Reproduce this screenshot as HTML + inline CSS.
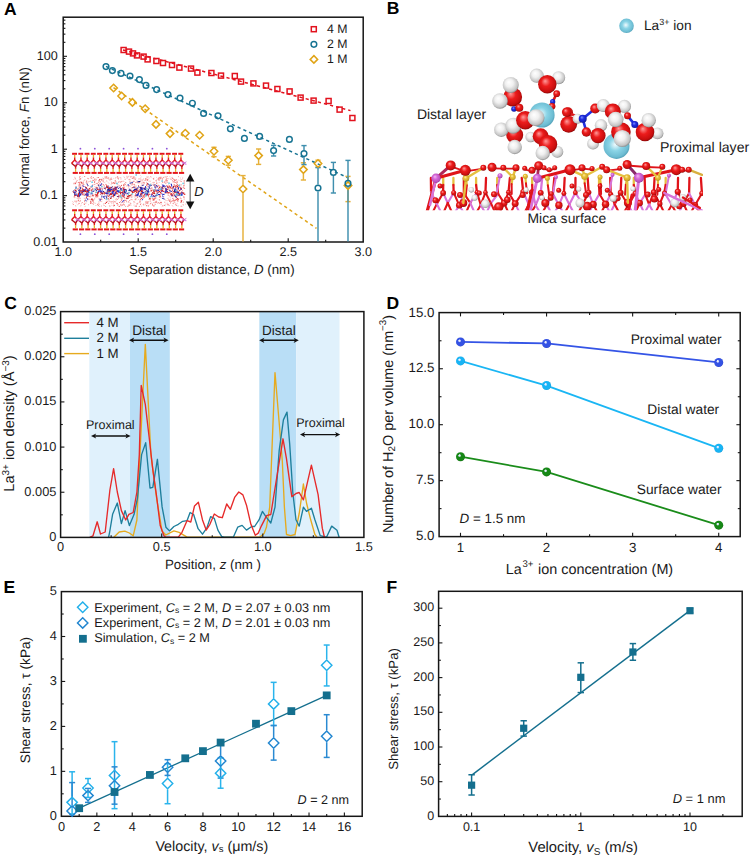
<!DOCTYPE html>
<html><head><meta charset="utf-8"><style>
html,body{margin:0;padding:0;background:#fff;}
svg{display:block;font-family:"Liberation Sans", sans-serif;text-rendering:geometricPrecision;}
</style></head><body>
<svg width="750" height="857" viewBox="0 0 750 857">
<defs><radialGradient id="gO" cx="0.47" cy="0.45" r="0.58" fx="0.38" fy="0.32"><stop offset="0" stop-color="#ff9c9c"/><stop offset="0.42" stop-color="#ec1c1c"/><stop offset="0.82" stop-color="#c80e0e"/><stop offset="1" stop-color="#7a0606"/></radialGradient><radialGradient id="gH" cx="0.47" cy="0.45" r="0.58" fx="0.38" fy="0.32"><stop offset="0" stop-color="#ffffff"/><stop offset="0.42" stop-color="#f0f0f0"/><stop offset="0.82" stop-color="#c4c4c4"/><stop offset="1" stop-color="#7a7a7a"/></radialGradient><radialGradient id="gLa" cx="0.47" cy="0.45" r="0.58" fx="0.45" fy="0.45"><stop offset="0" stop-color="#f0fbfe"/><stop offset="0.42" stop-color="#8ad4e6"/><stop offset="0.82" stop-color="#6cbcd2"/><stop offset="1" stop-color="#4a98b0"/></radialGradient><radialGradient id="gN" cx="0.47" cy="0.45" r="0.58" fx="0.38" fy="0.32"><stop offset="0" stop-color="#8090ff"/><stop offset="0.42" stop-color="#1f2ee0"/><stop offset="0.82" stop-color="#1420b8"/><stop offset="1" stop-color="#0a1080"/></radialGradient><radialGradient id="gK" cx="0.47" cy="0.45" r="0.58" fx="0.38" fy="0.32"><stop offset="0" stop-color="#f4b8f4"/><stop offset="0.42" stop-color="#d468d8"/><stop offset="0.82" stop-color="#b850bc"/><stop offset="1" stop-color="#8a3090"/></radialGradient><radialGradient id="gSi" cx="0.47" cy="0.45" r="0.58" fx="0.38" fy="0.32"><stop offset="0" stop-color="#fff0a0"/><stop offset="0.42" stop-color="#e8c038"/><stop offset="0.82" stop-color="#d0a828"/><stop offset="1" stop-color="#a07810"/></radialGradient><radialGradient id="gDP" cx="0.5" cy="0.5" r="0.55" fx="0.36" fy="0.33"><stop offset="0" stop-color="#f4f6ff"/><stop offset="0.16" stop-color="#e0e6ff" stop-opacity="1"/><stop offset="0.34" stop-color="#3452e4"/><stop offset="0.8" stop-color="#3452e4"/><stop offset="1" stop-color="#2238b8"/></radialGradient><radialGradient id="gDD" cx="0.5" cy="0.5" r="0.55" fx="0.36" fy="0.33"><stop offset="0" stop-color="#f4f6ff"/><stop offset="0.16" stop-color="#e0e6ff" stop-opacity="1"/><stop offset="0.34" stop-color="#18b4f4"/><stop offset="0.8" stop-color="#18b4f4"/><stop offset="1" stop-color="#0c90d0"/></radialGradient><radialGradient id="gDS" cx="0.5" cy="0.5" r="0.55" fx="0.36" fy="0.33"><stop offset="0" stop-color="#f4f6ff"/><stop offset="0.16" stop-color="#e0e6ff" stop-opacity="1"/><stop offset="0.34" stop-color="#168816"/><stop offset="0.8" stop-color="#168816"/><stop offset="1" stop-color="#0c600c"/></radialGradient></defs>
<rect width="750" height="857" fill="#fff"/>
<text x="4.00" y="14.60" font-size="17.5" text-anchor="start" fill="#000" font-weight="bold" >A</text>
<text x="386.70" y="14.40" font-size="17.5" text-anchor="start" fill="#000" font-weight="bold" >B</text>
<text x="4.20" y="309.30" font-size="17.5" text-anchor="start" fill="#000" font-weight="bold" >C</text>
<text x="386.50" y="309.00" font-size="17.5" text-anchor="start" fill="#000" font-weight="bold" >D</text>
<text x="3.60" y="593.20" font-size="17.5" text-anchor="start" fill="#000" font-weight="bold" >E</text>
<text x="386.50" y="593.20" font-size="17.5" text-anchor="start" fill="#000" font-weight="bold" >F</text>
<g id="panelA">
<g id="insetA">
<line x1="72.10" y1="153.80" x2="77.00" y2="153.80" stroke="#e5141b" stroke-width="2.0"/>
<line x1="72.70" y1="172.90" x2="77.90" y2="172.90" stroke="#e5141b" stroke-width="2.0"/>
<line x1="78.35" y1="153.80" x2="83.25" y2="153.80" stroke="#e5141b" stroke-width="2.0"/>
<line x1="78.95" y1="172.90" x2="84.15" y2="172.90" stroke="#e5141b" stroke-width="2.0"/>
<line x1="84.60" y1="153.80" x2="89.50" y2="153.80" stroke="#e5141b" stroke-width="2.0"/>
<line x1="85.20" y1="172.90" x2="90.40" y2="172.90" stroke="#e5141b" stroke-width="2.0"/>
<line x1="90.85" y1="153.80" x2="95.75" y2="153.80" stroke="#e5141b" stroke-width="2.0"/>
<line x1="91.45" y1="172.90" x2="96.65" y2="172.90" stroke="#e5141b" stroke-width="2.0"/>
<line x1="97.10" y1="153.80" x2="102.00" y2="153.80" stroke="#e5141b" stroke-width="2.0"/>
<line x1="97.70" y1="172.90" x2="102.90" y2="172.90" stroke="#e5141b" stroke-width="2.0"/>
<line x1="103.35" y1="153.80" x2="108.25" y2="153.80" stroke="#e5141b" stroke-width="2.0"/>
<line x1="103.95" y1="172.90" x2="109.15" y2="172.90" stroke="#e5141b" stroke-width="2.0"/>
<line x1="109.60" y1="153.80" x2="114.50" y2="153.80" stroke="#e5141b" stroke-width="2.0"/>
<line x1="110.20" y1="172.90" x2="115.40" y2="172.90" stroke="#e5141b" stroke-width="2.0"/>
<line x1="115.85" y1="153.80" x2="120.75" y2="153.80" stroke="#e5141b" stroke-width="2.0"/>
<line x1="116.45" y1="172.90" x2="121.65" y2="172.90" stroke="#e5141b" stroke-width="2.0"/>
<line x1="122.10" y1="153.80" x2="127.00" y2="153.80" stroke="#e5141b" stroke-width="2.0"/>
<line x1="122.70" y1="172.90" x2="127.90" y2="172.90" stroke="#e5141b" stroke-width="2.0"/>
<line x1="128.35" y1="153.80" x2="133.25" y2="153.80" stroke="#e5141b" stroke-width="2.0"/>
<line x1="128.95" y1="172.90" x2="134.15" y2="172.90" stroke="#e5141b" stroke-width="2.0"/>
<line x1="134.60" y1="153.80" x2="139.50" y2="153.80" stroke="#e5141b" stroke-width="2.0"/>
<line x1="135.20" y1="172.90" x2="140.40" y2="172.90" stroke="#e5141b" stroke-width="2.0"/>
<line x1="140.85" y1="153.80" x2="145.75" y2="153.80" stroke="#e5141b" stroke-width="2.0"/>
<line x1="141.45" y1="172.90" x2="146.65" y2="172.90" stroke="#e5141b" stroke-width="2.0"/>
<line x1="147.10" y1="153.80" x2="152.00" y2="153.80" stroke="#e5141b" stroke-width="2.0"/>
<line x1="147.70" y1="172.90" x2="152.90" y2="172.90" stroke="#e5141b" stroke-width="2.0"/>
<line x1="153.35" y1="153.80" x2="158.25" y2="153.80" stroke="#e5141b" stroke-width="2.0"/>
<line x1="153.95" y1="172.90" x2="159.15" y2="172.90" stroke="#e5141b" stroke-width="2.0"/>
<line x1="159.60" y1="153.80" x2="164.50" y2="153.80" stroke="#e5141b" stroke-width="2.0"/>
<line x1="160.20" y1="172.90" x2="165.40" y2="172.90" stroke="#e5141b" stroke-width="2.0"/>
<line x1="165.85" y1="153.80" x2="170.75" y2="153.80" stroke="#e5141b" stroke-width="2.0"/>
<line x1="166.45" y1="172.90" x2="171.65" y2="172.90" stroke="#e5141b" stroke-width="2.0"/>
<line x1="172.10" y1="153.80" x2="177.00" y2="153.80" stroke="#e5141b" stroke-width="2.0"/>
<line x1="172.70" y1="172.90" x2="177.90" y2="172.90" stroke="#e5141b" stroke-width="2.0"/>
<line x1="178.35" y1="153.80" x2="183.25" y2="153.80" stroke="#e5141b" stroke-width="2.0"/>
<line x1="178.95" y1="172.90" x2="184.15" y2="172.90" stroke="#e5141b" stroke-width="2.0"/>
<line x1="74.70" y1="154.70" x2="74.70" y2="157.70" stroke="#e2b22a" stroke-width="1.3"/>
<line x1="74.70" y1="157.50" x2="74.70" y2="160.30" stroke="#e5141b" stroke-width="1.4"/>
<line x1="75.60" y1="166.20" x2="75.60" y2="168.90" stroke="#e5141b" stroke-width="1.4"/>
<line x1="75.60" y1="168.70" x2="75.60" y2="171.90" stroke="#e2b22a" stroke-width="1.3"/>
<line x1="74.70" y1="159.90" x2="71.58" y2="163.20" stroke="#e5141b" stroke-width="1.4"/>
<line x1="71.58" y1="163.20" x2="75.60" y2="166.50" stroke="#b80c14" stroke-width="1.4"/>
<line x1="74.70" y1="159.90" x2="77.83" y2="163.20" stroke="#e5141b" stroke-width="1.4"/>
<line x1="77.83" y1="163.20" x2="75.60" y2="166.50" stroke="#b80c14" stroke-width="1.4"/>
<line x1="80.95" y1="154.70" x2="80.95" y2="157.70" stroke="#e2b22a" stroke-width="1.3"/>
<line x1="80.95" y1="157.50" x2="80.95" y2="160.30" stroke="#e5141b" stroke-width="1.4"/>
<line x1="81.85" y1="166.20" x2="81.85" y2="168.90" stroke="#e5141b" stroke-width="1.4"/>
<line x1="81.85" y1="168.70" x2="81.85" y2="171.90" stroke="#e2b22a" stroke-width="1.3"/>
<line x1="80.95" y1="159.90" x2="77.83" y2="163.20" stroke="#e5141b" stroke-width="1.4"/>
<line x1="77.83" y1="163.20" x2="81.85" y2="166.50" stroke="#b80c14" stroke-width="1.4"/>
<line x1="80.95" y1="159.90" x2="84.08" y2="163.20" stroke="#e5141b" stroke-width="1.4"/>
<line x1="84.08" y1="163.20" x2="81.85" y2="166.50" stroke="#b80c14" stroke-width="1.4"/>
<line x1="87.20" y1="154.70" x2="87.20" y2="157.70" stroke="#e2b22a" stroke-width="1.3"/>
<line x1="87.20" y1="157.50" x2="87.20" y2="160.30" stroke="#e5141b" stroke-width="1.4"/>
<line x1="88.10" y1="166.20" x2="88.10" y2="168.90" stroke="#e5141b" stroke-width="1.4"/>
<line x1="88.10" y1="168.70" x2="88.10" y2="171.90" stroke="#e2b22a" stroke-width="1.3"/>
<line x1="87.20" y1="159.90" x2="84.08" y2="163.20" stroke="#e5141b" stroke-width="1.4"/>
<line x1="84.08" y1="163.20" x2="88.10" y2="166.50" stroke="#b80c14" stroke-width="1.4"/>
<line x1="87.20" y1="159.90" x2="90.33" y2="163.20" stroke="#e5141b" stroke-width="1.4"/>
<line x1="90.33" y1="163.20" x2="88.10" y2="166.50" stroke="#b80c14" stroke-width="1.4"/>
<line x1="93.45" y1="154.70" x2="93.45" y2="157.70" stroke="#e2b22a" stroke-width="1.3"/>
<line x1="93.45" y1="157.50" x2="93.45" y2="160.30" stroke="#e5141b" stroke-width="1.4"/>
<line x1="94.35" y1="166.20" x2="94.35" y2="168.90" stroke="#e5141b" stroke-width="1.4"/>
<line x1="94.35" y1="168.70" x2="94.35" y2="171.90" stroke="#e2b22a" stroke-width="1.3"/>
<line x1="93.45" y1="159.90" x2="90.33" y2="163.20" stroke="#e5141b" stroke-width="1.4"/>
<line x1="90.33" y1="163.20" x2="94.35" y2="166.50" stroke="#b80c14" stroke-width="1.4"/>
<line x1="93.45" y1="159.90" x2="96.58" y2="163.20" stroke="#e5141b" stroke-width="1.4"/>
<line x1="96.58" y1="163.20" x2="94.35" y2="166.50" stroke="#b80c14" stroke-width="1.4"/>
<line x1="99.70" y1="154.70" x2="99.70" y2="157.70" stroke="#e2b22a" stroke-width="1.3"/>
<line x1="99.70" y1="157.50" x2="99.70" y2="160.30" stroke="#e5141b" stroke-width="1.4"/>
<line x1="100.60" y1="166.20" x2="100.60" y2="168.90" stroke="#e5141b" stroke-width="1.4"/>
<line x1="100.60" y1="168.70" x2="100.60" y2="171.90" stroke="#e2b22a" stroke-width="1.3"/>
<line x1="99.70" y1="159.90" x2="96.58" y2="163.20" stroke="#e5141b" stroke-width="1.4"/>
<line x1="96.58" y1="163.20" x2="100.60" y2="166.50" stroke="#b80c14" stroke-width="1.4"/>
<line x1="99.70" y1="159.90" x2="102.83" y2="163.20" stroke="#e5141b" stroke-width="1.4"/>
<line x1="102.83" y1="163.20" x2="100.60" y2="166.50" stroke="#b80c14" stroke-width="1.4"/>
<line x1="105.95" y1="154.70" x2="105.95" y2="157.70" stroke="#e2b22a" stroke-width="1.3"/>
<line x1="105.95" y1="157.50" x2="105.95" y2="160.30" stroke="#e5141b" stroke-width="1.4"/>
<line x1="106.85" y1="166.20" x2="106.85" y2="168.90" stroke="#e5141b" stroke-width="1.4"/>
<line x1="106.85" y1="168.70" x2="106.85" y2="171.90" stroke="#e2b22a" stroke-width="1.3"/>
<line x1="105.95" y1="159.90" x2="102.83" y2="163.20" stroke="#e5141b" stroke-width="1.4"/>
<line x1="102.83" y1="163.20" x2="106.85" y2="166.50" stroke="#b80c14" stroke-width="1.4"/>
<line x1="105.95" y1="159.90" x2="109.08" y2="163.20" stroke="#e5141b" stroke-width="1.4"/>
<line x1="109.08" y1="163.20" x2="106.85" y2="166.50" stroke="#b80c14" stroke-width="1.4"/>
<line x1="112.20" y1="154.70" x2="112.20" y2="157.70" stroke="#e2b22a" stroke-width="1.3"/>
<line x1="112.20" y1="157.50" x2="112.20" y2="160.30" stroke="#e5141b" stroke-width="1.4"/>
<line x1="113.10" y1="166.20" x2="113.10" y2="168.90" stroke="#e5141b" stroke-width="1.4"/>
<line x1="113.10" y1="168.70" x2="113.10" y2="171.90" stroke="#e2b22a" stroke-width="1.3"/>
<line x1="112.20" y1="159.90" x2="109.08" y2="163.20" stroke="#e5141b" stroke-width="1.4"/>
<line x1="109.08" y1="163.20" x2="113.10" y2="166.50" stroke="#b80c14" stroke-width="1.4"/>
<line x1="112.20" y1="159.90" x2="115.33" y2="163.20" stroke="#e5141b" stroke-width="1.4"/>
<line x1="115.33" y1="163.20" x2="113.10" y2="166.50" stroke="#b80c14" stroke-width="1.4"/>
<line x1="118.45" y1="154.70" x2="118.45" y2="157.70" stroke="#e2b22a" stroke-width="1.3"/>
<line x1="118.45" y1="157.50" x2="118.45" y2="160.30" stroke="#e5141b" stroke-width="1.4"/>
<line x1="119.35" y1="166.20" x2="119.35" y2="168.90" stroke="#e5141b" stroke-width="1.4"/>
<line x1="119.35" y1="168.70" x2="119.35" y2="171.90" stroke="#e2b22a" stroke-width="1.3"/>
<line x1="118.45" y1="159.90" x2="115.33" y2="163.20" stroke="#e5141b" stroke-width="1.4"/>
<line x1="115.33" y1="163.20" x2="119.35" y2="166.50" stroke="#b80c14" stroke-width="1.4"/>
<line x1="118.45" y1="159.90" x2="121.58" y2="163.20" stroke="#e5141b" stroke-width="1.4"/>
<line x1="121.58" y1="163.20" x2="119.35" y2="166.50" stroke="#b80c14" stroke-width="1.4"/>
<line x1="124.70" y1="154.70" x2="124.70" y2="157.70" stroke="#e2b22a" stroke-width="1.3"/>
<line x1="124.70" y1="157.50" x2="124.70" y2="160.30" stroke="#e5141b" stroke-width="1.4"/>
<line x1="125.60" y1="166.20" x2="125.60" y2="168.90" stroke="#e5141b" stroke-width="1.4"/>
<line x1="125.60" y1="168.70" x2="125.60" y2="171.90" stroke="#e2b22a" stroke-width="1.3"/>
<line x1="124.70" y1="159.90" x2="121.58" y2="163.20" stroke="#e5141b" stroke-width="1.4"/>
<line x1="121.58" y1="163.20" x2="125.60" y2="166.50" stroke="#b80c14" stroke-width="1.4"/>
<line x1="124.70" y1="159.90" x2="127.83" y2="163.20" stroke="#e5141b" stroke-width="1.4"/>
<line x1="127.83" y1="163.20" x2="125.60" y2="166.50" stroke="#b80c14" stroke-width="1.4"/>
<line x1="130.95" y1="154.70" x2="130.95" y2="157.70" stroke="#e2b22a" stroke-width="1.3"/>
<line x1="130.95" y1="157.50" x2="130.95" y2="160.30" stroke="#e5141b" stroke-width="1.4"/>
<line x1="131.85" y1="166.20" x2="131.85" y2="168.90" stroke="#e5141b" stroke-width="1.4"/>
<line x1="131.85" y1="168.70" x2="131.85" y2="171.90" stroke="#e2b22a" stroke-width="1.3"/>
<line x1="130.95" y1="159.90" x2="127.82" y2="163.20" stroke="#e5141b" stroke-width="1.4"/>
<line x1="127.82" y1="163.20" x2="131.85" y2="166.50" stroke="#b80c14" stroke-width="1.4"/>
<line x1="130.95" y1="159.90" x2="134.07" y2="163.20" stroke="#e5141b" stroke-width="1.4"/>
<line x1="134.07" y1="163.20" x2="131.85" y2="166.50" stroke="#b80c14" stroke-width="1.4"/>
<line x1="137.20" y1="154.70" x2="137.20" y2="157.70" stroke="#e2b22a" stroke-width="1.3"/>
<line x1="137.20" y1="157.50" x2="137.20" y2="160.30" stroke="#e5141b" stroke-width="1.4"/>
<line x1="138.10" y1="166.20" x2="138.10" y2="168.90" stroke="#e5141b" stroke-width="1.4"/>
<line x1="138.10" y1="168.70" x2="138.10" y2="171.90" stroke="#e2b22a" stroke-width="1.3"/>
<line x1="137.20" y1="159.90" x2="134.07" y2="163.20" stroke="#e5141b" stroke-width="1.4"/>
<line x1="134.07" y1="163.20" x2="138.10" y2="166.50" stroke="#b80c14" stroke-width="1.4"/>
<line x1="137.20" y1="159.90" x2="140.32" y2="163.20" stroke="#e5141b" stroke-width="1.4"/>
<line x1="140.32" y1="163.20" x2="138.10" y2="166.50" stroke="#b80c14" stroke-width="1.4"/>
<line x1="143.45" y1="154.70" x2="143.45" y2="157.70" stroke="#e2b22a" stroke-width="1.3"/>
<line x1="143.45" y1="157.50" x2="143.45" y2="160.30" stroke="#e5141b" stroke-width="1.4"/>
<line x1="144.35" y1="166.20" x2="144.35" y2="168.90" stroke="#e5141b" stroke-width="1.4"/>
<line x1="144.35" y1="168.70" x2="144.35" y2="171.90" stroke="#e2b22a" stroke-width="1.3"/>
<line x1="143.45" y1="159.90" x2="140.32" y2="163.20" stroke="#e5141b" stroke-width="1.4"/>
<line x1="140.32" y1="163.20" x2="144.35" y2="166.50" stroke="#b80c14" stroke-width="1.4"/>
<line x1="143.45" y1="159.90" x2="146.57" y2="163.20" stroke="#e5141b" stroke-width="1.4"/>
<line x1="146.57" y1="163.20" x2="144.35" y2="166.50" stroke="#b80c14" stroke-width="1.4"/>
<line x1="149.70" y1="154.70" x2="149.70" y2="157.70" stroke="#e2b22a" stroke-width="1.3"/>
<line x1="149.70" y1="157.50" x2="149.70" y2="160.30" stroke="#e5141b" stroke-width="1.4"/>
<line x1="150.60" y1="166.20" x2="150.60" y2="168.90" stroke="#e5141b" stroke-width="1.4"/>
<line x1="150.60" y1="168.70" x2="150.60" y2="171.90" stroke="#e2b22a" stroke-width="1.3"/>
<line x1="149.70" y1="159.90" x2="146.57" y2="163.20" stroke="#e5141b" stroke-width="1.4"/>
<line x1="146.57" y1="163.20" x2="150.60" y2="166.50" stroke="#b80c14" stroke-width="1.4"/>
<line x1="149.70" y1="159.90" x2="152.82" y2="163.20" stroke="#e5141b" stroke-width="1.4"/>
<line x1="152.82" y1="163.20" x2="150.60" y2="166.50" stroke="#b80c14" stroke-width="1.4"/>
<line x1="155.95" y1="154.70" x2="155.95" y2="157.70" stroke="#e2b22a" stroke-width="1.3"/>
<line x1="155.95" y1="157.50" x2="155.95" y2="160.30" stroke="#e5141b" stroke-width="1.4"/>
<line x1="156.85" y1="166.20" x2="156.85" y2="168.90" stroke="#e5141b" stroke-width="1.4"/>
<line x1="156.85" y1="168.70" x2="156.85" y2="171.90" stroke="#e2b22a" stroke-width="1.3"/>
<line x1="155.95" y1="159.90" x2="152.82" y2="163.20" stroke="#e5141b" stroke-width="1.4"/>
<line x1="152.82" y1="163.20" x2="156.85" y2="166.50" stroke="#b80c14" stroke-width="1.4"/>
<line x1="155.95" y1="159.90" x2="159.07" y2="163.20" stroke="#e5141b" stroke-width="1.4"/>
<line x1="159.07" y1="163.20" x2="156.85" y2="166.50" stroke="#b80c14" stroke-width="1.4"/>
<line x1="162.20" y1="154.70" x2="162.20" y2="157.70" stroke="#e2b22a" stroke-width="1.3"/>
<line x1="162.20" y1="157.50" x2="162.20" y2="160.30" stroke="#e5141b" stroke-width="1.4"/>
<line x1="163.10" y1="166.20" x2="163.10" y2="168.90" stroke="#e5141b" stroke-width="1.4"/>
<line x1="163.10" y1="168.70" x2="163.10" y2="171.90" stroke="#e2b22a" stroke-width="1.3"/>
<line x1="162.20" y1="159.90" x2="159.07" y2="163.20" stroke="#e5141b" stroke-width="1.4"/>
<line x1="159.07" y1="163.20" x2="163.10" y2="166.50" stroke="#b80c14" stroke-width="1.4"/>
<line x1="162.20" y1="159.90" x2="165.32" y2="163.20" stroke="#e5141b" stroke-width="1.4"/>
<line x1="165.32" y1="163.20" x2="163.10" y2="166.50" stroke="#b80c14" stroke-width="1.4"/>
<line x1="168.45" y1="154.70" x2="168.45" y2="157.70" stroke="#e2b22a" stroke-width="1.3"/>
<line x1="168.45" y1="157.50" x2="168.45" y2="160.30" stroke="#e5141b" stroke-width="1.4"/>
<line x1="169.35" y1="166.20" x2="169.35" y2="168.90" stroke="#e5141b" stroke-width="1.4"/>
<line x1="169.35" y1="168.70" x2="169.35" y2="171.90" stroke="#e2b22a" stroke-width="1.3"/>
<line x1="168.45" y1="159.90" x2="165.32" y2="163.20" stroke="#e5141b" stroke-width="1.4"/>
<line x1="165.32" y1="163.20" x2="169.35" y2="166.50" stroke="#b80c14" stroke-width="1.4"/>
<line x1="168.45" y1="159.90" x2="171.57" y2="163.20" stroke="#e5141b" stroke-width="1.4"/>
<line x1="171.57" y1="163.20" x2="169.35" y2="166.50" stroke="#b80c14" stroke-width="1.4"/>
<line x1="174.70" y1="154.70" x2="174.70" y2="157.70" stroke="#e2b22a" stroke-width="1.3"/>
<line x1="174.70" y1="157.50" x2="174.70" y2="160.30" stroke="#e5141b" stroke-width="1.4"/>
<line x1="175.60" y1="166.20" x2="175.60" y2="168.90" stroke="#e5141b" stroke-width="1.4"/>
<line x1="175.60" y1="168.70" x2="175.60" y2="171.90" stroke="#e2b22a" stroke-width="1.3"/>
<line x1="174.70" y1="159.90" x2="171.57" y2="163.20" stroke="#e5141b" stroke-width="1.4"/>
<line x1="171.57" y1="163.20" x2="175.60" y2="166.50" stroke="#b80c14" stroke-width="1.4"/>
<line x1="174.70" y1="159.90" x2="177.82" y2="163.20" stroke="#e5141b" stroke-width="1.4"/>
<line x1="177.82" y1="163.20" x2="175.60" y2="166.50" stroke="#b80c14" stroke-width="1.4"/>
<line x1="180.95" y1="154.70" x2="180.95" y2="157.70" stroke="#e2b22a" stroke-width="1.3"/>
<line x1="180.95" y1="157.50" x2="180.95" y2="160.30" stroke="#e5141b" stroke-width="1.4"/>
<line x1="181.85" y1="166.20" x2="181.85" y2="168.90" stroke="#e5141b" stroke-width="1.4"/>
<line x1="181.85" y1="168.70" x2="181.85" y2="171.90" stroke="#e2b22a" stroke-width="1.3"/>
<line x1="180.95" y1="159.90" x2="177.82" y2="163.20" stroke="#e5141b" stroke-width="1.4"/>
<line x1="177.82" y1="163.20" x2="181.85" y2="166.50" stroke="#b80c14" stroke-width="1.4"/>
<line x1="180.95" y1="159.90" x2="184.07" y2="163.20" stroke="#e5141b" stroke-width="1.4"/>
<line x1="184.07" y1="163.20" x2="181.85" y2="166.50" stroke="#b80c14" stroke-width="1.4"/>
<line x1="75.53" y1="161.80" x2="80.12" y2="164.60" stroke="#dc7ce4" stroke-width="1.15"/>
<line x1="75.53" y1="164.60" x2="80.12" y2="161.80" stroke="#c060c8" stroke-width="0.9"/>
<line x1="81.78" y1="161.80" x2="86.38" y2="164.60" stroke="#dc7ce4" stroke-width="1.15"/>
<line x1="81.78" y1="164.60" x2="86.38" y2="161.80" stroke="#c060c8" stroke-width="0.9"/>
<line x1="88.03" y1="161.80" x2="92.62" y2="164.60" stroke="#dc7ce4" stroke-width="1.15"/>
<line x1="88.03" y1="164.60" x2="92.62" y2="161.80" stroke="#c060c8" stroke-width="0.9"/>
<line x1="94.28" y1="161.80" x2="98.88" y2="164.60" stroke="#dc7ce4" stroke-width="1.15"/>
<line x1="94.28" y1="164.60" x2="98.88" y2="161.80" stroke="#c060c8" stroke-width="0.9"/>
<line x1="100.53" y1="161.80" x2="105.12" y2="164.60" stroke="#dc7ce4" stroke-width="1.15"/>
<line x1="100.53" y1="164.60" x2="105.12" y2="161.80" stroke="#c060c8" stroke-width="0.9"/>
<line x1="106.78" y1="161.80" x2="111.38" y2="164.60" stroke="#dc7ce4" stroke-width="1.15"/>
<line x1="106.78" y1="164.60" x2="111.38" y2="161.80" stroke="#c060c8" stroke-width="0.9"/>
<line x1="113.03" y1="161.80" x2="117.62" y2="164.60" stroke="#dc7ce4" stroke-width="1.15"/>
<line x1="113.03" y1="164.60" x2="117.62" y2="161.80" stroke="#c060c8" stroke-width="0.9"/>
<line x1="119.28" y1="161.80" x2="123.88" y2="164.60" stroke="#dc7ce4" stroke-width="1.15"/>
<line x1="119.28" y1="164.60" x2="123.88" y2="161.80" stroke="#c060c8" stroke-width="0.9"/>
<line x1="125.53" y1="161.80" x2="130.12" y2="164.60" stroke="#dc7ce4" stroke-width="1.15"/>
<line x1="125.53" y1="164.60" x2="130.12" y2="161.80" stroke="#c060c8" stroke-width="0.9"/>
<line x1="131.77" y1="161.80" x2="136.38" y2="164.60" stroke="#dc7ce4" stroke-width="1.15"/>
<line x1="131.77" y1="164.60" x2="136.38" y2="161.80" stroke="#c060c8" stroke-width="0.9"/>
<line x1="138.02" y1="161.80" x2="142.62" y2="164.60" stroke="#dc7ce4" stroke-width="1.15"/>
<line x1="138.02" y1="164.60" x2="142.62" y2="161.80" stroke="#c060c8" stroke-width="0.9"/>
<line x1="144.27" y1="161.80" x2="148.88" y2="164.60" stroke="#dc7ce4" stroke-width="1.15"/>
<line x1="144.27" y1="164.60" x2="148.88" y2="161.80" stroke="#c060c8" stroke-width="0.9"/>
<line x1="150.52" y1="161.80" x2="155.12" y2="164.60" stroke="#dc7ce4" stroke-width="1.15"/>
<line x1="150.52" y1="164.60" x2="155.12" y2="161.80" stroke="#c060c8" stroke-width="0.9"/>
<line x1="156.77" y1="161.80" x2="161.38" y2="164.60" stroke="#dc7ce4" stroke-width="1.15"/>
<line x1="156.77" y1="164.60" x2="161.38" y2="161.80" stroke="#c060c8" stroke-width="0.9"/>
<line x1="163.02" y1="161.80" x2="167.62" y2="164.60" stroke="#dc7ce4" stroke-width="1.15"/>
<line x1="163.02" y1="164.60" x2="167.62" y2="161.80" stroke="#c060c8" stroke-width="0.9"/>
<line x1="169.27" y1="161.80" x2="173.88" y2="164.60" stroke="#dc7ce4" stroke-width="1.15"/>
<line x1="169.27" y1="164.60" x2="173.88" y2="161.80" stroke="#c060c8" stroke-width="0.9"/>
<line x1="175.52" y1="161.80" x2="180.12" y2="164.60" stroke="#dc7ce4" stroke-width="1.15"/>
<line x1="175.52" y1="164.60" x2="180.12" y2="161.80" stroke="#c060c8" stroke-width="0.9"/>
<line x1="181.77" y1="161.80" x2="186.38" y2="164.60" stroke="#dc7ce4" stroke-width="1.15"/>
<line x1="181.77" y1="164.60" x2="186.38" y2="161.80" stroke="#c060c8" stroke-width="0.9"/>
<line x1="72.10" y1="210.30" x2="77.00" y2="210.30" stroke="#e5141b" stroke-width="2.0"/>
<line x1="72.70" y1="229.40" x2="77.90" y2="229.40" stroke="#e5141b" stroke-width="2.0"/>
<line x1="78.35" y1="210.30" x2="83.25" y2="210.30" stroke="#e5141b" stroke-width="2.0"/>
<line x1="78.95" y1="229.40" x2="84.15" y2="229.40" stroke="#e5141b" stroke-width="2.0"/>
<line x1="84.60" y1="210.30" x2="89.50" y2="210.30" stroke="#e5141b" stroke-width="2.0"/>
<line x1="85.20" y1="229.40" x2="90.40" y2="229.40" stroke="#e5141b" stroke-width="2.0"/>
<line x1="90.85" y1="210.30" x2="95.75" y2="210.30" stroke="#e5141b" stroke-width="2.0"/>
<line x1="91.45" y1="229.40" x2="96.65" y2="229.40" stroke="#e5141b" stroke-width="2.0"/>
<line x1="97.10" y1="210.30" x2="102.00" y2="210.30" stroke="#e5141b" stroke-width="2.0"/>
<line x1="97.70" y1="229.40" x2="102.90" y2="229.40" stroke="#e5141b" stroke-width="2.0"/>
<line x1="103.35" y1="210.30" x2="108.25" y2="210.30" stroke="#e5141b" stroke-width="2.0"/>
<line x1="103.95" y1="229.40" x2="109.15" y2="229.40" stroke="#e5141b" stroke-width="2.0"/>
<line x1="109.60" y1="210.30" x2="114.50" y2="210.30" stroke="#e5141b" stroke-width="2.0"/>
<line x1="110.20" y1="229.40" x2="115.40" y2="229.40" stroke="#e5141b" stroke-width="2.0"/>
<line x1="115.85" y1="210.30" x2="120.75" y2="210.30" stroke="#e5141b" stroke-width="2.0"/>
<line x1="116.45" y1="229.40" x2="121.65" y2="229.40" stroke="#e5141b" stroke-width="2.0"/>
<line x1="122.10" y1="210.30" x2="127.00" y2="210.30" stroke="#e5141b" stroke-width="2.0"/>
<line x1="122.70" y1="229.40" x2="127.90" y2="229.40" stroke="#e5141b" stroke-width="2.0"/>
<line x1="128.35" y1="210.30" x2="133.25" y2="210.30" stroke="#e5141b" stroke-width="2.0"/>
<line x1="128.95" y1="229.40" x2="134.15" y2="229.40" stroke="#e5141b" stroke-width="2.0"/>
<line x1="134.60" y1="210.30" x2="139.50" y2="210.30" stroke="#e5141b" stroke-width="2.0"/>
<line x1="135.20" y1="229.40" x2="140.40" y2="229.40" stroke="#e5141b" stroke-width="2.0"/>
<line x1="140.85" y1="210.30" x2="145.75" y2="210.30" stroke="#e5141b" stroke-width="2.0"/>
<line x1="141.45" y1="229.40" x2="146.65" y2="229.40" stroke="#e5141b" stroke-width="2.0"/>
<line x1="147.10" y1="210.30" x2="152.00" y2="210.30" stroke="#e5141b" stroke-width="2.0"/>
<line x1="147.70" y1="229.40" x2="152.90" y2="229.40" stroke="#e5141b" stroke-width="2.0"/>
<line x1="153.35" y1="210.30" x2="158.25" y2="210.30" stroke="#e5141b" stroke-width="2.0"/>
<line x1="153.95" y1="229.40" x2="159.15" y2="229.40" stroke="#e5141b" stroke-width="2.0"/>
<line x1="159.60" y1="210.30" x2="164.50" y2="210.30" stroke="#e5141b" stroke-width="2.0"/>
<line x1="160.20" y1="229.40" x2="165.40" y2="229.40" stroke="#e5141b" stroke-width="2.0"/>
<line x1="165.85" y1="210.30" x2="170.75" y2="210.30" stroke="#e5141b" stroke-width="2.0"/>
<line x1="166.45" y1="229.40" x2="171.65" y2="229.40" stroke="#e5141b" stroke-width="2.0"/>
<line x1="172.10" y1="210.30" x2="177.00" y2="210.30" stroke="#e5141b" stroke-width="2.0"/>
<line x1="172.70" y1="229.40" x2="177.90" y2="229.40" stroke="#e5141b" stroke-width="2.0"/>
<line x1="178.35" y1="210.30" x2="183.25" y2="210.30" stroke="#e5141b" stroke-width="2.0"/>
<line x1="178.95" y1="229.40" x2="184.15" y2="229.40" stroke="#e5141b" stroke-width="2.0"/>
<line x1="74.70" y1="211.20" x2="74.70" y2="214.20" stroke="#e2b22a" stroke-width="1.3"/>
<line x1="74.70" y1="214.00" x2="74.70" y2="216.80" stroke="#e5141b" stroke-width="1.4"/>
<line x1="75.60" y1="222.70" x2="75.60" y2="225.40" stroke="#e5141b" stroke-width="1.4"/>
<line x1="75.60" y1="225.20" x2="75.60" y2="228.40" stroke="#e2b22a" stroke-width="1.3"/>
<line x1="74.70" y1="216.40" x2="71.58" y2="219.70" stroke="#e5141b" stroke-width="1.4"/>
<line x1="71.58" y1="219.70" x2="75.60" y2="223.00" stroke="#b80c14" stroke-width="1.4"/>
<line x1="74.70" y1="216.40" x2="77.83" y2="219.70" stroke="#e5141b" stroke-width="1.4"/>
<line x1="77.83" y1="219.70" x2="75.60" y2="223.00" stroke="#b80c14" stroke-width="1.4"/>
<line x1="80.95" y1="211.20" x2="80.95" y2="214.20" stroke="#e2b22a" stroke-width="1.3"/>
<line x1="80.95" y1="214.00" x2="80.95" y2="216.80" stroke="#e5141b" stroke-width="1.4"/>
<line x1="81.85" y1="222.70" x2="81.85" y2="225.40" stroke="#e5141b" stroke-width="1.4"/>
<line x1="81.85" y1="225.20" x2="81.85" y2="228.40" stroke="#e2b22a" stroke-width="1.3"/>
<line x1="80.95" y1="216.40" x2="77.83" y2="219.70" stroke="#e5141b" stroke-width="1.4"/>
<line x1="77.83" y1="219.70" x2="81.85" y2="223.00" stroke="#b80c14" stroke-width="1.4"/>
<line x1="80.95" y1="216.40" x2="84.08" y2="219.70" stroke="#e5141b" stroke-width="1.4"/>
<line x1="84.08" y1="219.70" x2="81.85" y2="223.00" stroke="#b80c14" stroke-width="1.4"/>
<line x1="87.20" y1="211.20" x2="87.20" y2="214.20" stroke="#e2b22a" stroke-width="1.3"/>
<line x1="87.20" y1="214.00" x2="87.20" y2="216.80" stroke="#e5141b" stroke-width="1.4"/>
<line x1="88.10" y1="222.70" x2="88.10" y2="225.40" stroke="#e5141b" stroke-width="1.4"/>
<line x1="88.10" y1="225.20" x2="88.10" y2="228.40" stroke="#e2b22a" stroke-width="1.3"/>
<line x1="87.20" y1="216.40" x2="84.08" y2="219.70" stroke="#e5141b" stroke-width="1.4"/>
<line x1="84.08" y1="219.70" x2="88.10" y2="223.00" stroke="#b80c14" stroke-width="1.4"/>
<line x1="87.20" y1="216.40" x2="90.33" y2="219.70" stroke="#e5141b" stroke-width="1.4"/>
<line x1="90.33" y1="219.70" x2="88.10" y2="223.00" stroke="#b80c14" stroke-width="1.4"/>
<line x1="93.45" y1="211.20" x2="93.45" y2="214.20" stroke="#e2b22a" stroke-width="1.3"/>
<line x1="93.45" y1="214.00" x2="93.45" y2="216.80" stroke="#e5141b" stroke-width="1.4"/>
<line x1="94.35" y1="222.70" x2="94.35" y2="225.40" stroke="#e5141b" stroke-width="1.4"/>
<line x1="94.35" y1="225.20" x2="94.35" y2="228.40" stroke="#e2b22a" stroke-width="1.3"/>
<line x1="93.45" y1="216.40" x2="90.33" y2="219.70" stroke="#e5141b" stroke-width="1.4"/>
<line x1="90.33" y1="219.70" x2="94.35" y2="223.00" stroke="#b80c14" stroke-width="1.4"/>
<line x1="93.45" y1="216.40" x2="96.58" y2="219.70" stroke="#e5141b" stroke-width="1.4"/>
<line x1="96.58" y1="219.70" x2="94.35" y2="223.00" stroke="#b80c14" stroke-width="1.4"/>
<line x1="99.70" y1="211.20" x2="99.70" y2="214.20" stroke="#e2b22a" stroke-width="1.3"/>
<line x1="99.70" y1="214.00" x2="99.70" y2="216.80" stroke="#e5141b" stroke-width="1.4"/>
<line x1="100.60" y1="222.70" x2="100.60" y2="225.40" stroke="#e5141b" stroke-width="1.4"/>
<line x1="100.60" y1="225.20" x2="100.60" y2="228.40" stroke="#e2b22a" stroke-width="1.3"/>
<line x1="99.70" y1="216.40" x2="96.58" y2="219.70" stroke="#e5141b" stroke-width="1.4"/>
<line x1="96.58" y1="219.70" x2="100.60" y2="223.00" stroke="#b80c14" stroke-width="1.4"/>
<line x1="99.70" y1="216.40" x2="102.83" y2="219.70" stroke="#e5141b" stroke-width="1.4"/>
<line x1="102.83" y1="219.70" x2="100.60" y2="223.00" stroke="#b80c14" stroke-width="1.4"/>
<line x1="105.95" y1="211.20" x2="105.95" y2="214.20" stroke="#e2b22a" stroke-width="1.3"/>
<line x1="105.95" y1="214.00" x2="105.95" y2="216.80" stroke="#e5141b" stroke-width="1.4"/>
<line x1="106.85" y1="222.70" x2="106.85" y2="225.40" stroke="#e5141b" stroke-width="1.4"/>
<line x1="106.85" y1="225.20" x2="106.85" y2="228.40" stroke="#e2b22a" stroke-width="1.3"/>
<line x1="105.95" y1="216.40" x2="102.83" y2="219.70" stroke="#e5141b" stroke-width="1.4"/>
<line x1="102.83" y1="219.70" x2="106.85" y2="223.00" stroke="#b80c14" stroke-width="1.4"/>
<line x1="105.95" y1="216.40" x2="109.08" y2="219.70" stroke="#e5141b" stroke-width="1.4"/>
<line x1="109.08" y1="219.70" x2="106.85" y2="223.00" stroke="#b80c14" stroke-width="1.4"/>
<line x1="112.20" y1="211.20" x2="112.20" y2="214.20" stroke="#e2b22a" stroke-width="1.3"/>
<line x1="112.20" y1="214.00" x2="112.20" y2="216.80" stroke="#e5141b" stroke-width="1.4"/>
<line x1="113.10" y1="222.70" x2="113.10" y2="225.40" stroke="#e5141b" stroke-width="1.4"/>
<line x1="113.10" y1="225.20" x2="113.10" y2="228.40" stroke="#e2b22a" stroke-width="1.3"/>
<line x1="112.20" y1="216.40" x2="109.08" y2="219.70" stroke="#e5141b" stroke-width="1.4"/>
<line x1="109.08" y1="219.70" x2="113.10" y2="223.00" stroke="#b80c14" stroke-width="1.4"/>
<line x1="112.20" y1="216.40" x2="115.33" y2="219.70" stroke="#e5141b" stroke-width="1.4"/>
<line x1="115.33" y1="219.70" x2="113.10" y2="223.00" stroke="#b80c14" stroke-width="1.4"/>
<line x1="118.45" y1="211.20" x2="118.45" y2="214.20" stroke="#e2b22a" stroke-width="1.3"/>
<line x1="118.45" y1="214.00" x2="118.45" y2="216.80" stroke="#e5141b" stroke-width="1.4"/>
<line x1="119.35" y1="222.70" x2="119.35" y2="225.40" stroke="#e5141b" stroke-width="1.4"/>
<line x1="119.35" y1="225.20" x2="119.35" y2="228.40" stroke="#e2b22a" stroke-width="1.3"/>
<line x1="118.45" y1="216.40" x2="115.33" y2="219.70" stroke="#e5141b" stroke-width="1.4"/>
<line x1="115.33" y1="219.70" x2="119.35" y2="223.00" stroke="#b80c14" stroke-width="1.4"/>
<line x1="118.45" y1="216.40" x2="121.58" y2="219.70" stroke="#e5141b" stroke-width="1.4"/>
<line x1="121.58" y1="219.70" x2="119.35" y2="223.00" stroke="#b80c14" stroke-width="1.4"/>
<line x1="124.70" y1="211.20" x2="124.70" y2="214.20" stroke="#e2b22a" stroke-width="1.3"/>
<line x1="124.70" y1="214.00" x2="124.70" y2="216.80" stroke="#e5141b" stroke-width="1.4"/>
<line x1="125.60" y1="222.70" x2="125.60" y2="225.40" stroke="#e5141b" stroke-width="1.4"/>
<line x1="125.60" y1="225.20" x2="125.60" y2="228.40" stroke="#e2b22a" stroke-width="1.3"/>
<line x1="124.70" y1="216.40" x2="121.58" y2="219.70" stroke="#e5141b" stroke-width="1.4"/>
<line x1="121.58" y1="219.70" x2="125.60" y2="223.00" stroke="#b80c14" stroke-width="1.4"/>
<line x1="124.70" y1="216.40" x2="127.83" y2="219.70" stroke="#e5141b" stroke-width="1.4"/>
<line x1="127.83" y1="219.70" x2="125.60" y2="223.00" stroke="#b80c14" stroke-width="1.4"/>
<line x1="130.95" y1="211.20" x2="130.95" y2="214.20" stroke="#e2b22a" stroke-width="1.3"/>
<line x1="130.95" y1="214.00" x2="130.95" y2="216.80" stroke="#e5141b" stroke-width="1.4"/>
<line x1="131.85" y1="222.70" x2="131.85" y2="225.40" stroke="#e5141b" stroke-width="1.4"/>
<line x1="131.85" y1="225.20" x2="131.85" y2="228.40" stroke="#e2b22a" stroke-width="1.3"/>
<line x1="130.95" y1="216.40" x2="127.82" y2="219.70" stroke="#e5141b" stroke-width="1.4"/>
<line x1="127.82" y1="219.70" x2="131.85" y2="223.00" stroke="#b80c14" stroke-width="1.4"/>
<line x1="130.95" y1="216.40" x2="134.07" y2="219.70" stroke="#e5141b" stroke-width="1.4"/>
<line x1="134.07" y1="219.70" x2="131.85" y2="223.00" stroke="#b80c14" stroke-width="1.4"/>
<line x1="137.20" y1="211.20" x2="137.20" y2="214.20" stroke="#e2b22a" stroke-width="1.3"/>
<line x1="137.20" y1="214.00" x2="137.20" y2="216.80" stroke="#e5141b" stroke-width="1.4"/>
<line x1="138.10" y1="222.70" x2="138.10" y2="225.40" stroke="#e5141b" stroke-width="1.4"/>
<line x1="138.10" y1="225.20" x2="138.10" y2="228.40" stroke="#e2b22a" stroke-width="1.3"/>
<line x1="137.20" y1="216.40" x2="134.07" y2="219.70" stroke="#e5141b" stroke-width="1.4"/>
<line x1="134.07" y1="219.70" x2="138.10" y2="223.00" stroke="#b80c14" stroke-width="1.4"/>
<line x1="137.20" y1="216.40" x2="140.32" y2="219.70" stroke="#e5141b" stroke-width="1.4"/>
<line x1="140.32" y1="219.70" x2="138.10" y2="223.00" stroke="#b80c14" stroke-width="1.4"/>
<line x1="143.45" y1="211.20" x2="143.45" y2="214.20" stroke="#e2b22a" stroke-width="1.3"/>
<line x1="143.45" y1="214.00" x2="143.45" y2="216.80" stroke="#e5141b" stroke-width="1.4"/>
<line x1="144.35" y1="222.70" x2="144.35" y2="225.40" stroke="#e5141b" stroke-width="1.4"/>
<line x1="144.35" y1="225.20" x2="144.35" y2="228.40" stroke="#e2b22a" stroke-width="1.3"/>
<line x1="143.45" y1="216.40" x2="140.32" y2="219.70" stroke="#e5141b" stroke-width="1.4"/>
<line x1="140.32" y1="219.70" x2="144.35" y2="223.00" stroke="#b80c14" stroke-width="1.4"/>
<line x1="143.45" y1="216.40" x2="146.57" y2="219.70" stroke="#e5141b" stroke-width="1.4"/>
<line x1="146.57" y1="219.70" x2="144.35" y2="223.00" stroke="#b80c14" stroke-width="1.4"/>
<line x1="149.70" y1="211.20" x2="149.70" y2="214.20" stroke="#e2b22a" stroke-width="1.3"/>
<line x1="149.70" y1="214.00" x2="149.70" y2="216.80" stroke="#e5141b" stroke-width="1.4"/>
<line x1="150.60" y1="222.70" x2="150.60" y2="225.40" stroke="#e5141b" stroke-width="1.4"/>
<line x1="150.60" y1="225.20" x2="150.60" y2="228.40" stroke="#e2b22a" stroke-width="1.3"/>
<line x1="149.70" y1="216.40" x2="146.57" y2="219.70" stroke="#e5141b" stroke-width="1.4"/>
<line x1="146.57" y1="219.70" x2="150.60" y2="223.00" stroke="#b80c14" stroke-width="1.4"/>
<line x1="149.70" y1="216.40" x2="152.82" y2="219.70" stroke="#e5141b" stroke-width="1.4"/>
<line x1="152.82" y1="219.70" x2="150.60" y2="223.00" stroke="#b80c14" stroke-width="1.4"/>
<line x1="155.95" y1="211.20" x2="155.95" y2="214.20" stroke="#e2b22a" stroke-width="1.3"/>
<line x1="155.95" y1="214.00" x2="155.95" y2="216.80" stroke="#e5141b" stroke-width="1.4"/>
<line x1="156.85" y1="222.70" x2="156.85" y2="225.40" stroke="#e5141b" stroke-width="1.4"/>
<line x1="156.85" y1="225.20" x2="156.85" y2="228.40" stroke="#e2b22a" stroke-width="1.3"/>
<line x1="155.95" y1="216.40" x2="152.82" y2="219.70" stroke="#e5141b" stroke-width="1.4"/>
<line x1="152.82" y1="219.70" x2="156.85" y2="223.00" stroke="#b80c14" stroke-width="1.4"/>
<line x1="155.95" y1="216.40" x2="159.07" y2="219.70" stroke="#e5141b" stroke-width="1.4"/>
<line x1="159.07" y1="219.70" x2="156.85" y2="223.00" stroke="#b80c14" stroke-width="1.4"/>
<line x1="162.20" y1="211.20" x2="162.20" y2="214.20" stroke="#e2b22a" stroke-width="1.3"/>
<line x1="162.20" y1="214.00" x2="162.20" y2="216.80" stroke="#e5141b" stroke-width="1.4"/>
<line x1="163.10" y1="222.70" x2="163.10" y2="225.40" stroke="#e5141b" stroke-width="1.4"/>
<line x1="163.10" y1="225.20" x2="163.10" y2="228.40" stroke="#e2b22a" stroke-width="1.3"/>
<line x1="162.20" y1="216.40" x2="159.07" y2="219.70" stroke="#e5141b" stroke-width="1.4"/>
<line x1="159.07" y1="219.70" x2="163.10" y2="223.00" stroke="#b80c14" stroke-width="1.4"/>
<line x1="162.20" y1="216.40" x2="165.32" y2="219.70" stroke="#e5141b" stroke-width="1.4"/>
<line x1="165.32" y1="219.70" x2="163.10" y2="223.00" stroke="#b80c14" stroke-width="1.4"/>
<line x1="168.45" y1="211.20" x2="168.45" y2="214.20" stroke="#e2b22a" stroke-width="1.3"/>
<line x1="168.45" y1="214.00" x2="168.45" y2="216.80" stroke="#e5141b" stroke-width="1.4"/>
<line x1="169.35" y1="222.70" x2="169.35" y2="225.40" stroke="#e5141b" stroke-width="1.4"/>
<line x1="169.35" y1="225.20" x2="169.35" y2="228.40" stroke="#e2b22a" stroke-width="1.3"/>
<line x1="168.45" y1="216.40" x2="165.32" y2="219.70" stroke="#e5141b" stroke-width="1.4"/>
<line x1="165.32" y1="219.70" x2="169.35" y2="223.00" stroke="#b80c14" stroke-width="1.4"/>
<line x1="168.45" y1="216.40" x2="171.57" y2="219.70" stroke="#e5141b" stroke-width="1.4"/>
<line x1="171.57" y1="219.70" x2="169.35" y2="223.00" stroke="#b80c14" stroke-width="1.4"/>
<line x1="174.70" y1="211.20" x2="174.70" y2="214.20" stroke="#e2b22a" stroke-width="1.3"/>
<line x1="174.70" y1="214.00" x2="174.70" y2="216.80" stroke="#e5141b" stroke-width="1.4"/>
<line x1="175.60" y1="222.70" x2="175.60" y2="225.40" stroke="#e5141b" stroke-width="1.4"/>
<line x1="175.60" y1="225.20" x2="175.60" y2="228.40" stroke="#e2b22a" stroke-width="1.3"/>
<line x1="174.70" y1="216.40" x2="171.57" y2="219.70" stroke="#e5141b" stroke-width="1.4"/>
<line x1="171.57" y1="219.70" x2="175.60" y2="223.00" stroke="#b80c14" stroke-width="1.4"/>
<line x1="174.70" y1="216.40" x2="177.82" y2="219.70" stroke="#e5141b" stroke-width="1.4"/>
<line x1="177.82" y1="219.70" x2="175.60" y2="223.00" stroke="#b80c14" stroke-width="1.4"/>
<line x1="180.95" y1="211.20" x2="180.95" y2="214.20" stroke="#e2b22a" stroke-width="1.3"/>
<line x1="180.95" y1="214.00" x2="180.95" y2="216.80" stroke="#e5141b" stroke-width="1.4"/>
<line x1="181.85" y1="222.70" x2="181.85" y2="225.40" stroke="#e5141b" stroke-width="1.4"/>
<line x1="181.85" y1="225.20" x2="181.85" y2="228.40" stroke="#e2b22a" stroke-width="1.3"/>
<line x1="180.95" y1="216.40" x2="177.82" y2="219.70" stroke="#e5141b" stroke-width="1.4"/>
<line x1="177.82" y1="219.70" x2="181.85" y2="223.00" stroke="#b80c14" stroke-width="1.4"/>
<line x1="180.95" y1="216.40" x2="184.07" y2="219.70" stroke="#e5141b" stroke-width="1.4"/>
<line x1="184.07" y1="219.70" x2="181.85" y2="223.00" stroke="#b80c14" stroke-width="1.4"/>
<line x1="75.53" y1="218.30" x2="80.12" y2="221.10" stroke="#dc7ce4" stroke-width="1.15"/>
<line x1="75.53" y1="221.10" x2="80.12" y2="218.30" stroke="#c060c8" stroke-width="0.9"/>
<line x1="81.78" y1="218.30" x2="86.38" y2="221.10" stroke="#dc7ce4" stroke-width="1.15"/>
<line x1="81.78" y1="221.10" x2="86.38" y2="218.30" stroke="#c060c8" stroke-width="0.9"/>
<line x1="88.03" y1="218.30" x2="92.62" y2="221.10" stroke="#dc7ce4" stroke-width="1.15"/>
<line x1="88.03" y1="221.10" x2="92.62" y2="218.30" stroke="#c060c8" stroke-width="0.9"/>
<line x1="94.28" y1="218.30" x2="98.88" y2="221.10" stroke="#dc7ce4" stroke-width="1.15"/>
<line x1="94.28" y1="221.10" x2="98.88" y2="218.30" stroke="#c060c8" stroke-width="0.9"/>
<line x1="100.53" y1="218.30" x2="105.12" y2="221.10" stroke="#dc7ce4" stroke-width="1.15"/>
<line x1="100.53" y1="221.10" x2="105.12" y2="218.30" stroke="#c060c8" stroke-width="0.9"/>
<line x1="106.78" y1="218.30" x2="111.38" y2="221.10" stroke="#dc7ce4" stroke-width="1.15"/>
<line x1="106.78" y1="221.10" x2="111.38" y2="218.30" stroke="#c060c8" stroke-width="0.9"/>
<line x1="113.03" y1="218.30" x2="117.62" y2="221.10" stroke="#dc7ce4" stroke-width="1.15"/>
<line x1="113.03" y1="221.10" x2="117.62" y2="218.30" stroke="#c060c8" stroke-width="0.9"/>
<line x1="119.28" y1="218.30" x2="123.88" y2="221.10" stroke="#dc7ce4" stroke-width="1.15"/>
<line x1="119.28" y1="221.10" x2="123.88" y2="218.30" stroke="#c060c8" stroke-width="0.9"/>
<line x1="125.53" y1="218.30" x2="130.12" y2="221.10" stroke="#dc7ce4" stroke-width="1.15"/>
<line x1="125.53" y1="221.10" x2="130.12" y2="218.30" stroke="#c060c8" stroke-width="0.9"/>
<line x1="131.77" y1="218.30" x2="136.38" y2="221.10" stroke="#dc7ce4" stroke-width="1.15"/>
<line x1="131.77" y1="221.10" x2="136.38" y2="218.30" stroke="#c060c8" stroke-width="0.9"/>
<line x1="138.02" y1="218.30" x2="142.62" y2="221.10" stroke="#dc7ce4" stroke-width="1.15"/>
<line x1="138.02" y1="221.10" x2="142.62" y2="218.30" stroke="#c060c8" stroke-width="0.9"/>
<line x1="144.27" y1="218.30" x2="148.88" y2="221.10" stroke="#dc7ce4" stroke-width="1.15"/>
<line x1="144.27" y1="221.10" x2="148.88" y2="218.30" stroke="#c060c8" stroke-width="0.9"/>
<line x1="150.52" y1="218.30" x2="155.12" y2="221.10" stroke="#dc7ce4" stroke-width="1.15"/>
<line x1="150.52" y1="221.10" x2="155.12" y2="218.30" stroke="#c060c8" stroke-width="0.9"/>
<line x1="156.77" y1="218.30" x2="161.38" y2="221.10" stroke="#dc7ce4" stroke-width="1.15"/>
<line x1="156.77" y1="221.10" x2="161.38" y2="218.30" stroke="#c060c8" stroke-width="0.9"/>
<line x1="163.02" y1="218.30" x2="167.62" y2="221.10" stroke="#dc7ce4" stroke-width="1.15"/>
<line x1="163.02" y1="221.10" x2="167.62" y2="218.30" stroke="#c060c8" stroke-width="0.9"/>
<line x1="169.27" y1="218.30" x2="173.88" y2="221.10" stroke="#dc7ce4" stroke-width="1.15"/>
<line x1="169.27" y1="221.10" x2="173.88" y2="218.30" stroke="#c060c8" stroke-width="0.9"/>
<line x1="175.52" y1="218.30" x2="180.12" y2="221.10" stroke="#dc7ce4" stroke-width="1.15"/>
<line x1="175.52" y1="221.10" x2="180.12" y2="218.30" stroke="#c060c8" stroke-width="0.9"/>
<line x1="181.77" y1="218.30" x2="186.38" y2="221.10" stroke="#dc7ce4" stroke-width="1.15"/>
<line x1="181.77" y1="221.10" x2="186.38" y2="218.30" stroke="#c060c8" stroke-width="0.9"/>
<circle cx="80.40" cy="148.7" r="0.9" fill="#8a4fd8"/>
<circle cx="80.40" cy="234.2" r="0.9" fill="#8a4fd8"/>
<circle cx="94.80" cy="148.7" r="0.9" fill="#8a4fd8"/>
<circle cx="94.80" cy="234.2" r="0.9" fill="#8a4fd8"/>
<circle cx="109.20" cy="148.7" r="0.9" fill="#8a4fd8"/>
<circle cx="109.20" cy="234.2" r="0.9" fill="#8a4fd8"/>
<circle cx="123.60" cy="148.7" r="0.9" fill="#8a4fd8"/>
<circle cx="123.60" cy="234.2" r="0.9" fill="#8a4fd8"/>
<circle cx="138.00" cy="148.7" r="0.9" fill="#8a4fd8"/>
<circle cx="138.00" cy="234.2" r="0.9" fill="#8a4fd8"/>
<circle cx="152.40" cy="148.7" r="0.9" fill="#8a4fd8"/>
<circle cx="152.40" cy="234.2" r="0.9" fill="#8a4fd8"/>
<circle cx="166.80" cy="148.7" r="0.9" fill="#8a4fd8"/>
<circle cx="166.80" cy="234.2" r="0.9" fill="#8a4fd8"/>
<line x1="109.27" y1="181.03" x2="109.66" y2="180.22" stroke="#f6bcbc" stroke-width="0.7"/>
<line x1="138.27" y1="203.79" x2="137.48" y2="204.14" stroke="#f49090" stroke-width="0.7"/>
<line x1="83.16" y1="189.24" x2="83.40" y2="190.64" stroke="#ee6060" stroke-width="0.7"/>
<line x1="179.14" y1="193.81" x2="179.39" y2="195.15" stroke="#f4a8a8" stroke-width="0.7"/>
<line x1="87.92" y1="189.07" x2="87.34" y2="190.58" stroke="#ee6060" stroke-width="0.7"/>
<line x1="93.24" y1="193.95" x2="94.48" y2="194.82" stroke="#f6bcbc" stroke-width="0.7"/>
<circle cx="136.21" cy="195.07" r="0.53" fill="#f4a8a8"/>
<line x1="108.18" y1="194.07" x2="108.19" y2="195.05" stroke="#f4a8a8" stroke-width="0.7"/>
<line x1="160.34" y1="178.96" x2="161.42" y2="177.88" stroke="#e84848" stroke-width="0.7"/>
<line x1="105.25" y1="205.91" x2="105.83" y2="206.89" stroke="#f07878" stroke-width="0.7"/>
<line x1="177.53" y1="189.15" x2="176.04" y2="188.58" stroke="#f6bcbc" stroke-width="0.7"/>
<line x1="164.66" y1="186.70" x2="163.55" y2="186.10" stroke="#e84848" stroke-width="0.7"/>
<circle cx="167.08" cy="204.84" r="0.42" fill="#f4a8a8"/>
<circle cx="154.89" cy="185.79" r="0.65" fill="#ee6060"/>
<line x1="104.87" y1="188.07" x2="105.95" y2="187.65" stroke="#f6bcbc" stroke-width="0.7"/>
<circle cx="141.42" cy="191.31" r="0.44" fill="#f49090"/>
<line x1="100.73" y1="188.23" x2="99.45" y2="188.65" stroke="#f4a8a8" stroke-width="0.7"/>
<line x1="171.94" y1="201.08" x2="170.94" y2="201.67" stroke="#ee6060" stroke-width="0.7"/>
<line x1="172.03" y1="205.23" x2="172.88" y2="206.42" stroke="#f49090" stroke-width="0.7"/>
<line x1="74.35" y1="201.43" x2="75.57" y2="201.46" stroke="#f49090" stroke-width="0.7"/>
<circle cx="114.36" cy="193.49" r="0.55" fill="#f49090"/>
<line x1="142.17" y1="196.79" x2="143.38" y2="195.52" stroke="#f07878" stroke-width="0.7"/>
<line x1="149.22" y1="193.28" x2="150.37" y2="194.15" stroke="#f4a8a8" stroke-width="0.7"/>
<line x1="79.97" y1="178.52" x2="81.05" y2="179.41" stroke="#f49090" stroke-width="0.7"/>
<line x1="84.47" y1="193.50" x2="83.93" y2="194.13" stroke="#ee6060" stroke-width="0.7"/>
<circle cx="170.93" cy="194.92" r="0.69" fill="#f49090"/>
<circle cx="140.46" cy="190.72" r="0.70" fill="#f07878"/>
<line x1="125.19" y1="191.02" x2="125.19" y2="189.47" stroke="#f07878" stroke-width="0.7"/>
<line x1="126.61" y1="197.26" x2="127.87" y2="196.86" stroke="#ee6060" stroke-width="0.7"/>
<circle cx="89.42" cy="192.80" r="0.49" fill="#f07878"/>
<line x1="145.01" y1="179.23" x2="145.98" y2="178.60" stroke="#e84848" stroke-width="0.7"/>
<line x1="97.95" y1="192.75" x2="98.22" y2="194.34" stroke="#ee6060" stroke-width="0.7"/>
<circle cx="183.31" cy="202.08" r="0.62" fill="#f49090"/>
<circle cx="98.39" cy="192.03" r="0.70" fill="#e84848"/>
<circle cx="161.49" cy="190.67" r="0.69" fill="#f49090"/>
<circle cx="123.09" cy="204.61" r="0.51" fill="#e84848"/>
<line x1="97.69" y1="183.31" x2="95.92" y2="183.50" stroke="#f49090" stroke-width="0.7"/>
<line x1="141.35" y1="176.56" x2="140.33" y2="175.28" stroke="#f6bcbc" stroke-width="0.7"/>
<circle cx="86.43" cy="188.16" r="0.54" fill="#f6bcbc"/>
<line x1="92.99" y1="200.17" x2="94.43" y2="199.67" stroke="#e84848" stroke-width="0.7"/>
<circle cx="124.87" cy="198.80" r="0.45" fill="#f07878"/>
<circle cx="87.23" cy="181.03" r="0.44" fill="#f4a8a8"/>
<circle cx="165.57" cy="205.91" r="0.45" fill="#f6bcbc"/>
<circle cx="134.41" cy="177.14" r="0.56" fill="#f6bcbc"/>
<circle cx="177.57" cy="189.51" r="0.46" fill="#f49090"/>
<circle cx="101.21" cy="185.29" r="0.50" fill="#f49090"/>
<circle cx="133.97" cy="201.53" r="0.51" fill="#f07878"/>
<line x1="124.31" y1="194.00" x2="125.45" y2="193.36" stroke="#ee6060" stroke-width="0.7"/>
<circle cx="132.56" cy="192.21" r="0.63" fill="#f07878"/>
<line x1="141.16" y1="199.78" x2="139.65" y2="200.03" stroke="#f49090" stroke-width="0.7"/>
<line x1="135.33" y1="186.28" x2="133.76" y2="186.45" stroke="#ee6060" stroke-width="0.7"/>
<line x1="171.92" y1="178.20" x2="172.10" y2="176.91" stroke="#f49090" stroke-width="0.7"/>
<line x1="135.91" y1="199.30" x2="134.92" y2="198.45" stroke="#f07878" stroke-width="0.7"/>
<line x1="130.36" y1="197.28" x2="130.82" y2="196.06" stroke="#f4a8a8" stroke-width="0.7"/>
<circle cx="100.74" cy="192.20" r="0.67" fill="#e84848"/>
<line x1="95.69" y1="189.93" x2="94.87" y2="190.24" stroke="#f4a8a8" stroke-width="0.7"/>
<line x1="99.95" y1="178.69" x2="101.09" y2="179.79" stroke="#f6bcbc" stroke-width="0.7"/>
<line x1="178.22" y1="195.80" x2="179.53" y2="194.62" stroke="#e84848" stroke-width="0.7"/>
<circle cx="97.59" cy="205.08" r="0.45" fill="#f4a8a8"/>
<line x1="147.80" y1="183.21" x2="146.66" y2="183.10" stroke="#f6bcbc" stroke-width="0.7"/>
<line x1="94.92" y1="186.06" x2="94.26" y2="187.13" stroke="#f6bcbc" stroke-width="0.7"/>
<circle cx="151.75" cy="188.03" r="0.55" fill="#ee6060"/>
<circle cx="80.20" cy="206.05" r="0.43" fill="#f49090"/>
<line x1="102.74" y1="177.69" x2="103.58" y2="178.58" stroke="#f49090" stroke-width="0.7"/>
<line x1="175.08" y1="201.07" x2="173.80" y2="200.77" stroke="#e84848" stroke-width="0.7"/>
<line x1="128.40" y1="186.31" x2="127.93" y2="185.18" stroke="#e84848" stroke-width="0.7"/>
<line x1="81.11" y1="204.65" x2="81.02" y2="206.06" stroke="#f6bcbc" stroke-width="0.7"/>
<line x1="97.91" y1="184.43" x2="97.19" y2="185.58" stroke="#f07878" stroke-width="0.7"/>
<line x1="176.79" y1="184.54" x2="176.35" y2="182.85" stroke="#f49090" stroke-width="0.7"/>
<line x1="181.55" y1="184.36" x2="181.13" y2="185.38" stroke="#f49090" stroke-width="0.7"/>
<circle cx="158.06" cy="185.20" r="0.48" fill="#ee6060"/>
<line x1="163.01" y1="206.33" x2="162.87" y2="204.99" stroke="#f07878" stroke-width="0.7"/>
<line x1="94.22" y1="190.74" x2="94.74" y2="189.62" stroke="#f4a8a8" stroke-width="0.7"/>
<circle cx="128.44" cy="201.54" r="0.49" fill="#f4a8a8"/>
<circle cx="97.10" cy="183.39" r="0.61" fill="#f49090"/>
<circle cx="144.23" cy="188.64" r="0.65" fill="#e84848"/>
<line x1="74.60" y1="195.26" x2="75.97" y2="195.76" stroke="#e84848" stroke-width="0.7"/>
<line x1="115.66" y1="191.68" x2="115.36" y2="190.89" stroke="#e84848" stroke-width="0.7"/>
<line x1="93.76" y1="184.57" x2="95.48" y2="184.15" stroke="#f07878" stroke-width="0.7"/>
<line x1="134.27" y1="183.83" x2="134.74" y2="184.87" stroke="#e84848" stroke-width="0.7"/>
<line x1="82.40" y1="184.87" x2="81.59" y2="184.84" stroke="#f6bcbc" stroke-width="0.7"/>
<line x1="102.59" y1="179.19" x2="101.72" y2="179.87" stroke="#f4a8a8" stroke-width="0.7"/>
<circle cx="143.52" cy="179.03" r="0.45" fill="#ee6060"/>
<line x1="172.99" y1="200.02" x2="172.17" y2="201.61" stroke="#ee6060" stroke-width="0.7"/>
<line x1="89.74" y1="198.22" x2="90.43" y2="196.87" stroke="#f6bcbc" stroke-width="0.7"/>
<circle cx="130.45" cy="189.38" r="0.44" fill="#f6bcbc"/>
<circle cx="131.66" cy="191.63" r="0.58" fill="#f07878"/>
<circle cx="173.00" cy="196.99" r="0.43" fill="#f6bcbc"/>
<line x1="77.69" y1="195.61" x2="76.88" y2="195.87" stroke="#f07878" stroke-width="0.7"/>
<line x1="75.11" y1="192.44" x2="76.71" y2="192.48" stroke="#f49090" stroke-width="0.7"/>
<line x1="156.81" y1="191.59" x2="155.28" y2="191.34" stroke="#ee6060" stroke-width="0.7"/>
<line x1="126.07" y1="200.78" x2="126.11" y2="199.75" stroke="#e84848" stroke-width="0.7"/>
<line x1="145.79" y1="190.31" x2="146.71" y2="189.73" stroke="#f4a8a8" stroke-width="0.7"/>
<line x1="78.24" y1="195.48" x2="78.87" y2="196.33" stroke="#f49090" stroke-width="0.7"/>
<line x1="156.24" y1="185.63" x2="154.96" y2="185.77" stroke="#ee6060" stroke-width="0.7"/>
<circle cx="181.92" cy="179.49" r="0.49" fill="#f49090"/>
<circle cx="130.85" cy="190.44" r="0.70" fill="#f4a8a8"/>
<circle cx="134.50" cy="185.85" r="0.41" fill="#f07878"/>
<circle cx="124.40" cy="201.10" r="0.52" fill="#f4a8a8"/>
<line x1="175.65" y1="204.42" x2="176.49" y2="205.45" stroke="#f07878" stroke-width="0.7"/>
<line x1="179.71" y1="180.48" x2="180.85" y2="179.50" stroke="#f6bcbc" stroke-width="0.7"/>
<line x1="98.91" y1="203.43" x2="99.86" y2="204.90" stroke="#f4a8a8" stroke-width="0.7"/>
<line x1="149.34" y1="188.66" x2="148.72" y2="189.59" stroke="#f6bcbc" stroke-width="0.7"/>
<circle cx="167.11" cy="176.55" r="0.44" fill="#e84848"/>
<line x1="176.76" y1="197.89" x2="175.93" y2="198.75" stroke="#f6bcbc" stroke-width="0.7"/>
<circle cx="184.86" cy="194.18" r="0.63" fill="#e84848"/>
<circle cx="168.68" cy="184.92" r="0.49" fill="#f07878"/>
<line x1="177.79" y1="183.98" x2="177.16" y2="185.42" stroke="#e84848" stroke-width="0.7"/>
<circle cx="160.94" cy="189.33" r="0.59" fill="#f07878"/>
<line x1="175.30" y1="204.72" x2="176.82" y2="205.56" stroke="#ee6060" stroke-width="0.7"/>
<circle cx="119.02" cy="194.95" r="0.49" fill="#f49090"/>
<line x1="78.49" y1="204.30" x2="77.55" y2="204.85" stroke="#f49090" stroke-width="0.7"/>
<line x1="101.64" y1="198.66" x2="101.03" y2="197.75" stroke="#f6bcbc" stroke-width="0.7"/>
<circle cx="135.42" cy="188.33" r="0.42" fill="#f49090"/>
<line x1="129.07" y1="200.85" x2="130.56" y2="199.86" stroke="#ee6060" stroke-width="0.7"/>
<line x1="123.40" y1="180.69" x2="124.01" y2="181.89" stroke="#f49090" stroke-width="0.7"/>
<line x1="108.76" y1="187.55" x2="110.42" y2="187.76" stroke="#ee6060" stroke-width="0.7"/>
<line x1="115.88" y1="198.88" x2="115.42" y2="199.61" stroke="#f49090" stroke-width="0.7"/>
<circle cx="104.08" cy="205.53" r="0.56" fill="#f49090"/>
<line x1="161.51" y1="201.96" x2="161.53" y2="203.16" stroke="#f07878" stroke-width="0.7"/>
<line x1="122.94" y1="205.12" x2="121.54" y2="205.83" stroke="#f07878" stroke-width="0.7"/>
<line x1="163.08" y1="205.55" x2="161.73" y2="206.64" stroke="#f4a8a8" stroke-width="0.7"/>
<line x1="165.47" y1="202.16" x2="166.20" y2="202.77" stroke="#f4a8a8" stroke-width="0.7"/>
<circle cx="131.50" cy="196.96" r="0.65" fill="#f6bcbc"/>
<line x1="173.23" y1="179.05" x2="174.19" y2="180.02" stroke="#f07878" stroke-width="0.7"/>
<circle cx="77.21" cy="197.95" r="0.56" fill="#f49090"/>
<line x1="121.99" y1="199.42" x2="120.63" y2="199.20" stroke="#f07878" stroke-width="0.7"/>
<line x1="116.47" y1="183.21" x2="114.72" y2="182.79" stroke="#ee6060" stroke-width="0.7"/>
<line x1="104.20" y1="185.99" x2="104.30" y2="187.03" stroke="#f49090" stroke-width="0.7"/>
<line x1="180.59" y1="197.64" x2="181.17" y2="199.22" stroke="#e84848" stroke-width="0.7"/>
<circle cx="145.48" cy="178.93" r="0.68" fill="#f49090"/>
<circle cx="98.40" cy="177.52" r="0.51" fill="#e84848"/>
<circle cx="117.39" cy="176.70" r="0.55" fill="#e84848"/>
<circle cx="95.98" cy="205.60" r="0.46" fill="#e84848"/>
<line x1="125.09" y1="184.45" x2="124.09" y2="183.46" stroke="#e84848" stroke-width="0.7"/>
<line x1="173.41" y1="191.05" x2="171.98" y2="190.09" stroke="#f6bcbc" stroke-width="0.7"/>
<line x1="79.09" y1="177.21" x2="79.90" y2="177.48" stroke="#ee6060" stroke-width="0.7"/>
<circle cx="117.05" cy="203.45" r="0.70" fill="#e84848"/>
<circle cx="177.34" cy="186.38" r="0.56" fill="#f49090"/>
<line x1="125.37" y1="185.85" x2="124.58" y2="186.66" stroke="#f6bcbc" stroke-width="0.7"/>
<line x1="91.96" y1="176.59" x2="90.48" y2="177.40" stroke="#e84848" stroke-width="0.7"/>
<line x1="135.85" y1="199.26" x2="136.55" y2="197.80" stroke="#f4a8a8" stroke-width="0.7"/>
<line x1="121.43" y1="177.98" x2="120.23" y2="177.66" stroke="#f4a8a8" stroke-width="0.7"/>
<line x1="109.21" y1="198.62" x2="107.85" y2="199.48" stroke="#f4a8a8" stroke-width="0.7"/>
<line x1="158.87" y1="177.72" x2="159.15" y2="176.91" stroke="#f07878" stroke-width="0.7"/>
<line x1="94.83" y1="178.39" x2="94.59" y2="180.13" stroke="#ee6060" stroke-width="0.7"/>
<circle cx="142.10" cy="184.37" r="0.68" fill="#f6bcbc"/>
<circle cx="106.31" cy="198.15" r="0.59" fill="#ee6060"/>
<line x1="178.64" y1="177.23" x2="178.37" y2="175.99" stroke="#f49090" stroke-width="0.7"/>
<circle cx="159.95" cy="200.19" r="0.44" fill="#f4a8a8"/>
<line x1="128.61" y1="176.76" x2="128.27" y2="175.87" stroke="#f6bcbc" stroke-width="0.7"/>
<line x1="99.45" y1="202.34" x2="99.62" y2="201.48" stroke="#f4a8a8" stroke-width="0.7"/>
<line x1="95.10" y1="199.09" x2="94.34" y2="198.05" stroke="#f49090" stroke-width="0.7"/>
<circle cx="134.00" cy="181.32" r="0.70" fill="#f4a8a8"/>
<line x1="102.67" y1="179.02" x2="104.44" y2="178.89" stroke="#f07878" stroke-width="0.7"/>
<circle cx="92.40" cy="180.49" r="0.60" fill="#f4a8a8"/>
<circle cx="156.77" cy="201.91" r="0.63" fill="#f6bcbc"/>
<line x1="105.92" y1="184.88" x2="105.84" y2="183.89" stroke="#e84848" stroke-width="0.7"/>
<line x1="100.71" y1="183.86" x2="101.54" y2="183.32" stroke="#f49090" stroke-width="0.7"/>
<line x1="80.26" y1="184.05" x2="80.45" y2="185.65" stroke="#f49090" stroke-width="0.7"/>
<line x1="146.17" y1="206.23" x2="146.94" y2="205.54" stroke="#f07878" stroke-width="0.7"/>
<line x1="123.21" y1="187.72" x2="124.54" y2="188.15" stroke="#e84848" stroke-width="0.7"/>
<line x1="165.73" y1="182.32" x2="166.56" y2="181.39" stroke="#f07878" stroke-width="0.7"/>
<line x1="102.11" y1="199.83" x2="100.95" y2="199.03" stroke="#f07878" stroke-width="0.7"/>
<line x1="97.38" y1="187.56" x2="98.21" y2="187.56" stroke="#f49090" stroke-width="0.7"/>
<circle cx="155.01" cy="203.92" r="0.52" fill="#f07878"/>
<line x1="114.64" y1="195.13" x2="115.02" y2="193.84" stroke="#f07878" stroke-width="0.7"/>
<circle cx="80.09" cy="179.54" r="0.45" fill="#f4a8a8"/>
<circle cx="132.81" cy="196.09" r="0.52" fill="#f4a8a8"/>
<line x1="104.73" y1="185.73" x2="103.67" y2="185.26" stroke="#f07878" stroke-width="0.7"/>
<circle cx="119.64" cy="202.43" r="0.52" fill="#e84848"/>
<circle cx="118.36" cy="204.76" r="0.53" fill="#f4a8a8"/>
<line x1="164.88" y1="188.69" x2="165.31" y2="189.38" stroke="#e84848" stroke-width="0.7"/>
<line x1="134.77" y1="195.72" x2="133.93" y2="194.91" stroke="#f4a8a8" stroke-width="0.7"/>
<line x1="129.50" y1="180.88" x2="129.91" y2="181.64" stroke="#e84848" stroke-width="0.7"/>
<line x1="115.98" y1="199.11" x2="116.42" y2="198.39" stroke="#f49090" stroke-width="0.7"/>
<circle cx="175.23" cy="185.94" r="0.52" fill="#ee6060"/>
<circle cx="174.27" cy="195.11" r="0.66" fill="#f49090"/>
<circle cx="142.56" cy="194.94" r="0.45" fill="#f49090"/>
<line x1="97.43" y1="188.49" x2="96.83" y2="189.23" stroke="#ee6060" stroke-width="0.7"/>
<line x1="181.72" y1="200.97" x2="180.28" y2="200.37" stroke="#f49090" stroke-width="0.7"/>
<line x1="77.27" y1="201.65" x2="75.68" y2="202.10" stroke="#f07878" stroke-width="0.7"/>
<line x1="160.15" y1="195.97" x2="158.84" y2="196.63" stroke="#e84848" stroke-width="0.7"/>
<line x1="123.04" y1="189.65" x2="124.30" y2="189.54" stroke="#f07878" stroke-width="0.7"/>
<circle cx="123.04" cy="195.06" r="0.64" fill="#f4a8a8"/>
<line x1="117.84" y1="178.51" x2="118.88" y2="179.19" stroke="#e84848" stroke-width="0.7"/>
<line x1="130.14" y1="177.72" x2="131.12" y2="177.20" stroke="#f6bcbc" stroke-width="0.7"/>
<circle cx="153.68" cy="178.90" r="0.60" fill="#ee6060"/>
<circle cx="160.84" cy="177.28" r="0.62" fill="#f07878"/>
<line x1="164.28" y1="182.31" x2="164.88" y2="180.83" stroke="#f4a8a8" stroke-width="0.7"/>
<line x1="149.85" y1="198.13" x2="148.93" y2="199.39" stroke="#f49090" stroke-width="0.7"/>
<circle cx="90.78" cy="203.40" r="0.54" fill="#e84848"/>
<line x1="101.47" y1="205.43" x2="101.36" y2="206.73" stroke="#f4a8a8" stroke-width="0.7"/>
<line x1="108.74" y1="177.60" x2="108.03" y2="176.79" stroke="#f49090" stroke-width="0.7"/>
<line x1="109.72" y1="187.81" x2="108.31" y2="187.53" stroke="#e84848" stroke-width="0.7"/>
<line x1="113.30" y1="202.69" x2="112.66" y2="201.12" stroke="#ee6060" stroke-width="0.7"/>
<circle cx="101.23" cy="192.57" r="0.51" fill="#f4a8a8"/>
<line x1="115.08" y1="187.57" x2="115.20" y2="186.33" stroke="#f49090" stroke-width="0.7"/>
<line x1="92.80" y1="198.81" x2="91.69" y2="198.70" stroke="#f07878" stroke-width="0.7"/>
<circle cx="181.19" cy="202.61" r="0.62" fill="#f6bcbc"/>
<circle cx="156.68" cy="183.15" r="0.53" fill="#e84848"/>
<line x1="130.42" y1="203.37" x2="129.78" y2="202.82" stroke="#f49090" stroke-width="0.7"/>
<line x1="79.09" y1="193.51" x2="78.45" y2="194.31" stroke="#e84848" stroke-width="0.7"/>
<line x1="138.36" y1="194.17" x2="138.82" y2="193.33" stroke="#f49090" stroke-width="0.7"/>
<line x1="74.58" y1="200.55" x2="75.77" y2="201.36" stroke="#f6bcbc" stroke-width="0.7"/>
<circle cx="170.58" cy="199.96" r="0.69" fill="#f4a8a8"/>
<line x1="79.29" y1="201.13" x2="78.05" y2="200.46" stroke="#e84848" stroke-width="0.7"/>
<circle cx="130.97" cy="191.29" r="0.41" fill="#f49090"/>
<line x1="132.53" y1="188.68" x2="133.30" y2="188.20" stroke="#f49090" stroke-width="0.7"/>
<line x1="141.62" y1="196.20" x2="142.05" y2="197.54" stroke="#f49090" stroke-width="0.7"/>
<line x1="129.78" y1="195.75" x2="129.38" y2="196.77" stroke="#ee6060" stroke-width="0.7"/>
<circle cx="78.43" cy="203.18" r="0.40" fill="#f4a8a8"/>
<line x1="167.58" y1="198.86" x2="167.03" y2="198.05" stroke="#f4a8a8" stroke-width="0.7"/>
<line x1="184.62" y1="184.34" x2="183.83" y2="185.67" stroke="#f6bcbc" stroke-width="0.7"/>
<line x1="150.85" y1="201.86" x2="149.88" y2="200.75" stroke="#f6bcbc" stroke-width="0.7"/>
<line x1="149.80" y1="204.02" x2="151.33" y2="203.28" stroke="#e84848" stroke-width="0.7"/>
<line x1="82.57" y1="191.72" x2="82.70" y2="193.26" stroke="#f49090" stroke-width="0.7"/>
<line x1="178.81" y1="198.88" x2="177.73" y2="199.79" stroke="#e84848" stroke-width="0.7"/>
<circle cx="115.50" cy="202.06" r="0.65" fill="#f6bcbc"/>
<circle cx="133.07" cy="190.66" r="0.66" fill="#ee6060"/>
<circle cx="121.97" cy="198.24" r="0.64" fill="#ee6060"/>
<circle cx="116.86" cy="194.06" r="0.44" fill="#ee6060"/>
<line x1="76.01" y1="179.70" x2="76.53" y2="180.34" stroke="#f49090" stroke-width="0.7"/>
<line x1="77.66" y1="197.28" x2="78.44" y2="197.63" stroke="#f6bcbc" stroke-width="0.7"/>
<circle cx="168.93" cy="199.35" r="0.65" fill="#f49090"/>
<circle cx="172.82" cy="178.48" r="0.43" fill="#f6bcbc"/>
<circle cx="96.04" cy="179.86" r="0.67" fill="#f07878"/>
<circle cx="157.42" cy="179.12" r="0.54" fill="#f6bcbc"/>
<line x1="87.86" y1="200.26" x2="87.34" y2="201.37" stroke="#f6bcbc" stroke-width="0.7"/>
<line x1="75.34" y1="184.20" x2="75.45" y2="182.49" stroke="#e84848" stroke-width="0.7"/>
<circle cx="159.15" cy="194.56" r="0.59" fill="#f4a8a8"/>
<line x1="76.47" y1="188.89" x2="77.50" y2="189.62" stroke="#f4a8a8" stroke-width="0.7"/>
<circle cx="78.39" cy="193.48" r="0.43" fill="#f6bcbc"/>
<line x1="164.82" y1="181.61" x2="164.45" y2="183.12" stroke="#f07878" stroke-width="0.7"/>
<line x1="79.04" y1="186.93" x2="79.33" y2="185.99" stroke="#f07878" stroke-width="0.7"/>
<line x1="128.39" y1="186.92" x2="129.41" y2="186.54" stroke="#ee6060" stroke-width="0.7"/>
<line x1="97.05" y1="197.48" x2="98.50" y2="196.90" stroke="#f4a8a8" stroke-width="0.7"/>
<circle cx="127.91" cy="206.23" r="0.59" fill="#ee6060"/>
<circle cx="112.83" cy="188.54" r="0.62" fill="#f4a8a8"/>
<line x1="120.28" y1="195.88" x2="120.14" y2="197.57" stroke="#e84848" stroke-width="0.7"/>
<line x1="129.13" y1="187.88" x2="127.84" y2="188.20" stroke="#f6bcbc" stroke-width="0.7"/>
<line x1="157.50" y1="199.09" x2="156.35" y2="198.44" stroke="#f6bcbc" stroke-width="0.7"/>
<circle cx="170.22" cy="190.01" r="0.45" fill="#ee6060"/>
<line x1="122.15" y1="199.70" x2="121.42" y2="200.95" stroke="#ee6060" stroke-width="0.7"/>
<line x1="151.02" y1="191.73" x2="150.54" y2="190.16" stroke="#e84848" stroke-width="0.7"/>
<circle cx="90.31" cy="181.18" r="0.58" fill="#f49090"/>
<line x1="112.05" y1="183.59" x2="113.77" y2="183.09" stroke="#f49090" stroke-width="0.7"/>
<line x1="91.44" y1="196.24" x2="93.02" y2="196.08" stroke="#f49090" stroke-width="0.7"/>
<line x1="155.13" y1="189.55" x2="156.05" y2="188.98" stroke="#f49090" stroke-width="0.7"/>
<line x1="172.15" y1="190.42" x2="172.53" y2="188.97" stroke="#f07878" stroke-width="0.7"/>
<line x1="129.05" y1="195.47" x2="128.98" y2="197.01" stroke="#f4a8a8" stroke-width="0.7"/>
<circle cx="73.62" cy="183.77" r="0.58" fill="#f4a8a8"/>
<circle cx="145.49" cy="201.88" r="0.66" fill="#f6bcbc"/>
<circle cx="159.69" cy="197.50" r="0.59" fill="#f49090"/>
<circle cx="123.84" cy="185.89" r="0.67" fill="#f6bcbc"/>
<circle cx="100.15" cy="188.50" r="0.48" fill="#f6bcbc"/>
<circle cx="120.44" cy="190.16" r="0.56" fill="#ee6060"/>
<line x1="147.04" y1="202.69" x2="148.67" y2="202.80" stroke="#f6bcbc" stroke-width="0.7"/>
<line x1="174.72" y1="179.69" x2="175.56" y2="181.03" stroke="#e84848" stroke-width="0.7"/>
<circle cx="178.35" cy="192.08" r="0.54" fill="#f07878"/>
<circle cx="95.96" cy="190.77" r="0.65" fill="#f07878"/>
<line x1="131.43" y1="188.81" x2="130.95" y2="187.72" stroke="#f4a8a8" stroke-width="0.7"/>
<line x1="158.42" y1="180.17" x2="159.43" y2="180.55" stroke="#ee6060" stroke-width="0.7"/>
<circle cx="117.76" cy="176.90" r="0.59" fill="#f4a8a8"/>
<line x1="148.59" y1="193.91" x2="148.49" y2="192.17" stroke="#f07878" stroke-width="0.7"/>
<line x1="132.03" y1="183.07" x2="132.92" y2="184.55" stroke="#f4a8a8" stroke-width="0.7"/>
<line x1="80.72" y1="200.45" x2="79.77" y2="200.06" stroke="#f49090" stroke-width="0.7"/>
<circle cx="180.95" cy="187.09" r="0.64" fill="#f6bcbc"/>
<circle cx="119.29" cy="206.38" r="0.63" fill="#ee6060"/>
<line x1="125.57" y1="200.01" x2="124.82" y2="200.75" stroke="#f49090" stroke-width="0.7"/>
<circle cx="120.72" cy="182.08" r="0.64" fill="#f07878"/>
<line x1="113.09" y1="196.13" x2="111.80" y2="196.76" stroke="#e84848" stroke-width="0.7"/>
<circle cx="146.84" cy="187.37" r="0.42" fill="#e84848"/>
<line x1="165.72" y1="203.67" x2="164.95" y2="204.82" stroke="#f49090" stroke-width="0.7"/>
<circle cx="146.62" cy="182.79" r="0.48" fill="#f07878"/>
<line x1="84.37" y1="180.78" x2="82.86" y2="181.25" stroke="#f49090" stroke-width="0.7"/>
<line x1="96.36" y1="188.57" x2="97.45" y2="187.68" stroke="#ee6060" stroke-width="0.7"/>
<circle cx="160.50" cy="196.55" r="0.65" fill="#ee6060"/>
<line x1="95.11" y1="197.28" x2="95.89" y2="196.04" stroke="#ee6060" stroke-width="0.7"/>
<line x1="86.10" y1="180.05" x2="86.93" y2="181.05" stroke="#f4a8a8" stroke-width="0.7"/>
<circle cx="79.55" cy="190.51" r="0.47" fill="#f49090"/>
<line x1="91.44" y1="194.49" x2="92.12" y2="193.42" stroke="#f6bcbc" stroke-width="0.7"/>
<line x1="136.01" y1="196.46" x2="134.47" y2="197.32" stroke="#f4a8a8" stroke-width="0.7"/>
<circle cx="81.44" cy="195.61" r="0.41" fill="#f6bcbc"/>
<circle cx="78.14" cy="198.60" r="0.43" fill="#e84848"/>
<line x1="127.23" y1="199.22" x2="126.94" y2="197.82" stroke="#f49090" stroke-width="0.7"/>
<line x1="110.92" y1="202.35" x2="111.17" y2="201.02" stroke="#e84848" stroke-width="0.7"/>
<line x1="175.18" y1="185.02" x2="173.65" y2="184.48" stroke="#e84848" stroke-width="0.7"/>
<line x1="105.80" y1="201.33" x2="107.47" y2="201.17" stroke="#f4a8a8" stroke-width="0.7"/>
<circle cx="111.62" cy="182.61" r="0.50" fill="#f4a8a8"/>
<circle cx="108.51" cy="185.48" r="0.43" fill="#ee6060"/>
<circle cx="184.61" cy="188.47" r="0.56" fill="#ee6060"/>
<line x1="78.57" y1="185.51" x2="79.12" y2="184.37" stroke="#f07878" stroke-width="0.7"/>
<circle cx="158.79" cy="178.30" r="0.58" fill="#ee6060"/>
<circle cx="142.07" cy="195.30" r="0.66" fill="#f6bcbc"/>
<line x1="82.30" y1="177.68" x2="82.37" y2="176.79" stroke="#f6bcbc" stroke-width="0.7"/>
<circle cx="93.31" cy="177.61" r="0.60" fill="#f07878"/>
<line x1="114.31" y1="201.18" x2="114.26" y2="202.28" stroke="#e84848" stroke-width="0.7"/>
<line x1="120.24" y1="186.05" x2="118.73" y2="185.24" stroke="#f4a8a8" stroke-width="0.7"/>
<circle cx="128.75" cy="192.16" r="0.53" fill="#f07878"/>
<line x1="150.92" y1="188.64" x2="149.86" y2="189.55" stroke="#f07878" stroke-width="0.7"/>
<circle cx="178.02" cy="205.92" r="0.56" fill="#f4a8a8"/>
<circle cx="82.29" cy="190.67" r="0.53" fill="#f49090"/>
<line x1="74.04" y1="196.58" x2="74.96" y2="197.46" stroke="#f07878" stroke-width="0.7"/>
<circle cx="103.85" cy="193.57" r="0.46" fill="#f4a8a8"/>
<circle cx="78.62" cy="199.72" r="0.44" fill="#f6bcbc"/>
<circle cx="158.05" cy="185.29" r="0.54" fill="#ee6060"/>
<circle cx="177.42" cy="184.12" r="0.40" fill="#f07878"/>
<line x1="74.65" y1="196.02" x2="74.08" y2="197.44" stroke="#ee6060" stroke-width="0.7"/>
<circle cx="91.59" cy="202.33" r="0.49" fill="#f4a8a8"/>
<circle cx="179.26" cy="198.33" r="0.44" fill="#f4a8a8"/>
<line x1="162.30" y1="187.40" x2="162.71" y2="186.19" stroke="#f6bcbc" stroke-width="0.7"/>
<circle cx="160.15" cy="190.08" r="0.57" fill="#e84848"/>
<circle cx="105.75" cy="178.32" r="0.65" fill="#f6bcbc"/>
<circle cx="110.19" cy="194.67" r="0.58" fill="#f07878"/>
<line x1="107.56" y1="189.36" x2="107.00" y2="188.07" stroke="#f49090" stroke-width="0.7"/>
<circle cx="173.36" cy="200.72" r="0.50" fill="#e84848"/>
<line x1="103.02" y1="181.22" x2="104.09" y2="182.53" stroke="#f07878" stroke-width="0.7"/>
<circle cx="184.20" cy="180.91" r="0.67" fill="#ee6060"/>
<line x1="111.85" y1="179.05" x2="110.68" y2="180.13" stroke="#ee6060" stroke-width="0.7"/>
<circle cx="153.89" cy="205.97" r="0.60" fill="#e84848"/>
<line x1="125.12" y1="182.70" x2="126.30" y2="182.77" stroke="#e84848" stroke-width="0.7"/>
<circle cx="133.54" cy="192.58" r="0.47" fill="#e84848"/>
<line x1="137.91" y1="203.41" x2="136.91" y2="203.37" stroke="#ee6060" stroke-width="0.7"/>
<line x1="96.82" y1="179.27" x2="95.80" y2="178.72" stroke="#f6bcbc" stroke-width="0.7"/>
<line x1="160.32" y1="202.21" x2="161.49" y2="202.19" stroke="#f49090" stroke-width="0.7"/>
<line x1="84.89" y1="195.48" x2="83.95" y2="194.83" stroke="#f07878" stroke-width="0.7"/>
<line x1="131.18" y1="177.12" x2="132.12" y2="176.13" stroke="#f07878" stroke-width="0.7"/>
<line x1="138.71" y1="182.91" x2="140.19" y2="182.39" stroke="#e84848" stroke-width="0.7"/>
<circle cx="164.71" cy="205.40" r="0.50" fill="#e84848"/>
<line x1="184.40" y1="187.85" x2="182.83" y2="187.26" stroke="#f07878" stroke-width="0.7"/>
<circle cx="124.33" cy="204.92" r="0.59" fill="#f07878"/>
<line x1="176.28" y1="197.69" x2="174.96" y2="197.12" stroke="#f07878" stroke-width="0.7"/>
<line x1="180.12" y1="196.59" x2="180.81" y2="195.64" stroke="#f4a8a8" stroke-width="0.7"/>
<line x1="99.33" y1="198.12" x2="99.29" y2="199.27" stroke="#f49090" stroke-width="0.7"/>
<line x1="174.11" y1="203.64" x2="172.57" y2="203.51" stroke="#f07878" stroke-width="0.7"/>
<line x1="158.30" y1="191.00" x2="158.36" y2="189.26" stroke="#f07878" stroke-width="0.7"/>
<line x1="148.81" y1="185.46" x2="148.08" y2="184.42" stroke="#ee6060" stroke-width="0.7"/>
<line x1="114.63" y1="188.20" x2="115.14" y2="189.11" stroke="#e84848" stroke-width="0.7"/>
<line x1="89.03" y1="196.83" x2="90.40" y2="195.99" stroke="#f07878" stroke-width="0.7"/>
<circle cx="90.58" cy="201.49" r="0.66" fill="#f07878"/>
<circle cx="172.54" cy="180.69" r="0.68" fill="#f4a8a8"/>
<line x1="116.13" y1="177.15" x2="115.26" y2="178.52" stroke="#f07878" stroke-width="0.7"/>
<line x1="126.48" y1="195.35" x2="126.40" y2="194.37" stroke="#f49090" stroke-width="0.7"/>
<circle cx="123.55" cy="203.18" r="0.48" fill="#f4a8a8"/>
<line x1="119.12" y1="181.17" x2="118.66" y2="182.71" stroke="#e84848" stroke-width="0.7"/>
<circle cx="102.20" cy="179.78" r="0.43" fill="#f4a8a8"/>
<circle cx="182.61" cy="178.21" r="0.57" fill="#f6bcbc"/>
<circle cx="166.55" cy="180.08" r="0.53" fill="#f49090"/>
<line x1="102.29" y1="183.66" x2="101.87" y2="185.30" stroke="#f49090" stroke-width="0.7"/>
<line x1="79.44" y1="198.29" x2="78.65" y2="197.34" stroke="#e84848" stroke-width="0.7"/>
<line x1="129.87" y1="191.82" x2="130.53" y2="190.67" stroke="#f4a8a8" stroke-width="0.7"/>
<line x1="93.81" y1="189.56" x2="92.97" y2="189.15" stroke="#f4a8a8" stroke-width="0.7"/>
<line x1="93.17" y1="199.61" x2="91.86" y2="198.65" stroke="#f6bcbc" stroke-width="0.7"/>
<line x1="172.60" y1="198.43" x2="173.56" y2="199.54" stroke="#e84848" stroke-width="0.7"/>
<line x1="143.39" y1="182.27" x2="144.79" y2="182.88" stroke="#e84848" stroke-width="0.7"/>
<line x1="118.71" y1="198.15" x2="118.09" y2="199.03" stroke="#f07878" stroke-width="0.7"/>
<line x1="144.59" y1="204.87" x2="145.67" y2="204.19" stroke="#f07878" stroke-width="0.7"/>
<line x1="170.67" y1="184.49" x2="171.50" y2="184.41" stroke="#f49090" stroke-width="0.7"/>
<line x1="151.65" y1="193.75" x2="153.26" y2="193.02" stroke="#f07878" stroke-width="0.7"/>
<circle cx="80.99" cy="187.20" r="0.66" fill="#f49090"/>
<line x1="108.95" y1="197.84" x2="109.82" y2="197.18" stroke="#f4a8a8" stroke-width="0.7"/>
<line x1="85.06" y1="198.43" x2="83.75" y2="198.17" stroke="#f4a8a8" stroke-width="0.7"/>
<circle cx="75.32" cy="205.52" r="0.45" fill="#f49090"/>
<line x1="107.93" y1="193.16" x2="109.31" y2="192.47" stroke="#f07878" stroke-width="0.7"/>
<line x1="102.28" y1="201.62" x2="100.79" y2="201.40" stroke="#f6bcbc" stroke-width="0.7"/>
<line x1="84.52" y1="202.59" x2="84.34" y2="203.84" stroke="#f6bcbc" stroke-width="0.7"/>
<line x1="138.62" y1="199.35" x2="137.84" y2="199.87" stroke="#f07878" stroke-width="0.7"/>
<circle cx="139.28" cy="202.33" r="0.54" fill="#f49090"/>
<circle cx="117.42" cy="204.95" r="0.52" fill="#f07878"/>
<line x1="120.09" y1="201.69" x2="120.93" y2="201.53" stroke="#ee6060" stroke-width="0.7"/>
<circle cx="113.68" cy="188.52" r="0.65" fill="#e84848"/>
<circle cx="136.22" cy="206.07" r="0.65" fill="#e84848"/>
<circle cx="79.00" cy="192.02" r="0.47" fill="#f6bcbc"/>
<line x1="120.28" y1="195.48" x2="120.71" y2="196.52" stroke="#e84848" stroke-width="0.7"/>
<line x1="95.49" y1="196.57" x2="97.04" y2="196.28" stroke="#f49090" stroke-width="0.7"/>
<line x1="177.94" y1="195.50" x2="177.27" y2="194.67" stroke="#f07878" stroke-width="0.7"/>
<circle cx="148.99" cy="184.70" r="0.41" fill="#ee6060"/>
<line x1="84.26" y1="180.15" x2="85.29" y2="179.82" stroke="#f07878" stroke-width="0.7"/>
<line x1="107.21" y1="195.93" x2="108.87" y2="195.49" stroke="#f07878" stroke-width="0.7"/>
<line x1="173.96" y1="179.03" x2="174.51" y2="179.78" stroke="#ee6060" stroke-width="0.7"/>
<line x1="87.71" y1="185.31" x2="87.48" y2="186.83" stroke="#f4a8a8" stroke-width="0.7"/>
<circle cx="155.93" cy="185.12" r="0.57" fill="#f4a8a8"/>
<line x1="145.84" y1="182.54" x2="146.70" y2="181.84" stroke="#f6bcbc" stroke-width="0.7"/>
<line x1="126.52" y1="201.06" x2="126.75" y2="202.36" stroke="#f07878" stroke-width="0.7"/>
<circle cx="115.92" cy="194.07" r="0.45" fill="#f07878"/>
<line x1="179.63" y1="186.22" x2="179.24" y2="187.96" stroke="#e84848" stroke-width="0.7"/>
<line x1="106.10" y1="199.66" x2="105.19" y2="198.95" stroke="#f49090" stroke-width="0.7"/>
<line x1="146.66" y1="192.01" x2="146.77" y2="190.69" stroke="#f4a8a8" stroke-width="0.7"/>
<line x1="183.80" y1="196.83" x2="183.34" y2="196.01" stroke="#f49090" stroke-width="0.7"/>
<circle cx="95.68" cy="194.82" r="0.56" fill="#e84848"/>
<line x1="155.74" y1="198.80" x2="154.77" y2="197.75" stroke="#f4a8a8" stroke-width="0.7"/>
<line x1="151.79" y1="188.89" x2="151.93" y2="187.51" stroke="#f07878" stroke-width="0.7"/>
<line x1="128.76" y1="205.38" x2="129.40" y2="204.51" stroke="#ee6060" stroke-width="0.7"/>
<circle cx="142.60" cy="179.83" r="0.49" fill="#f4a8a8"/>
<line x1="112.49" y1="187.09" x2="111.65" y2="187.83" stroke="#ee6060" stroke-width="0.7"/>
<line x1="161.15" y1="201.99" x2="160.74" y2="203.26" stroke="#f4a8a8" stroke-width="0.7"/>
<line x1="162.93" y1="189.57" x2="164.39" y2="190.47" stroke="#f4a8a8" stroke-width="0.7"/>
<circle cx="109.27" cy="201.80" r="0.46" fill="#f49090"/>
<line x1="120.76" y1="203.82" x2="120.69" y2="205.51" stroke="#f07878" stroke-width="0.7"/>
<line x1="106.58" y1="192.59" x2="107.90" y2="192.58" stroke="#e84848" stroke-width="0.7"/>
<line x1="130.93" y1="197.06" x2="132.36" y2="197.43" stroke="#f4a8a8" stroke-width="0.7"/>
<line x1="123.74" y1="176.81" x2="124.70" y2="177.50" stroke="#f07878" stroke-width="0.7"/>
<line x1="117.90" y1="193.34" x2="118.36" y2="194.47" stroke="#ee6060" stroke-width="0.7"/>
<line x1="117.98" y1="199.52" x2="116.40" y2="199.22" stroke="#ee6060" stroke-width="0.7"/>
<circle cx="92.12" cy="186.04" r="0.55" fill="#f07878"/>
<line x1="85.38" y1="203.34" x2="86.58" y2="202.82" stroke="#f6bcbc" stroke-width="0.7"/>
<line x1="181.79" y1="195.43" x2="180.49" y2="195.34" stroke="#ee6060" stroke-width="0.7"/>
<line x1="94.07" y1="181.97" x2="95.14" y2="182.82" stroke="#f6bcbc" stroke-width="0.7"/>
<line x1="143.71" y1="198.19" x2="143.97" y2="197.11" stroke="#f6bcbc" stroke-width="0.7"/>
<line x1="150.36" y1="176.62" x2="151.02" y2="177.09" stroke="#e84848" stroke-width="0.7"/>
<line x1="76.31" y1="181.76" x2="77.48" y2="180.53" stroke="#ee6060" stroke-width="0.7"/>
<line x1="130.61" y1="180.81" x2="131.30" y2="181.47" stroke="#f49090" stroke-width="0.7"/>
<line x1="158.06" y1="179.70" x2="159.29" y2="179.28" stroke="#f07878" stroke-width="0.7"/>
<circle cx="125.36" cy="189.42" r="0.61" fill="#f07878"/>
<line x1="137.83" y1="180.82" x2="138.35" y2="181.75" stroke="#f49090" stroke-width="0.7"/>
<line x1="84.14" y1="203.62" x2="84.65" y2="204.95" stroke="#ee6060" stroke-width="0.7"/>
<line x1="75.19" y1="183.10" x2="76.39" y2="182.79" stroke="#f4a8a8" stroke-width="0.7"/>
<line x1="142.46" y1="183.98" x2="141.63" y2="183.47" stroke="#f07878" stroke-width="0.7"/>
<line x1="73.69" y1="202.51" x2="72.28" y2="201.45" stroke="#f4a8a8" stroke-width="0.7"/>
<circle cx="128.50" cy="204.99" r="0.60" fill="#f49090"/>
<circle cx="138.50" cy="188.90" r="0.55" fill="#f4a8a8"/>
<line x1="161.79" y1="183.80" x2="161.20" y2="184.36" stroke="#f49090" stroke-width="0.7"/>
<line x1="171.82" y1="188.38" x2="170.66" y2="188.13" stroke="#e84848" stroke-width="0.7"/>
<line x1="118.16" y1="178.46" x2="119.31" y2="177.76" stroke="#f07878" stroke-width="0.7"/>
<line x1="116.38" y1="190.51" x2="117.81" y2="190.83" stroke="#e84848" stroke-width="0.7"/>
<line x1="111.24" y1="181.18" x2="111.68" y2="182.45" stroke="#f6bcbc" stroke-width="0.7"/>
<circle cx="161.20" cy="193.15" r="0.64" fill="#f4a8a8"/>
<line x1="90.83" y1="187.09" x2="89.88" y2="186.08" stroke="#f6bcbc" stroke-width="0.7"/>
<line x1="106.29" y1="190.78" x2="105.40" y2="191.05" stroke="#f49090" stroke-width="0.7"/>
<line x1="152.12" y1="184.32" x2="151.42" y2="185.09" stroke="#f4a8a8" stroke-width="0.7"/>
<circle cx="141.12" cy="182.88" r="0.43" fill="#f07878"/>
<line x1="168.41" y1="198.58" x2="168.22" y2="197.65" stroke="#f4a8a8" stroke-width="0.7"/>
<line x1="74.68" y1="197.82" x2="75.34" y2="196.92" stroke="#f6bcbc" stroke-width="0.7"/>
<circle cx="147.23" cy="179.77" r="0.64" fill="#ee6060"/>
<line x1="157.95" y1="182.28" x2="158.08" y2="183.20" stroke="#f6bcbc" stroke-width="0.7"/>
<circle cx="153.27" cy="184.97" r="0.54" fill="#f4a8a8"/>
<circle cx="143.34" cy="195.36" r="0.45" fill="#f49090"/>
<line x1="114.06" y1="200.48" x2="112.81" y2="201.24" stroke="#f6bcbc" stroke-width="0.7"/>
<line x1="151.32" y1="183.95" x2="150.64" y2="183.24" stroke="#f4a8a8" stroke-width="0.7"/>
<line x1="85.91" y1="203.88" x2="85.38" y2="202.80" stroke="#f6bcbc" stroke-width="0.7"/>
<line x1="141.16" y1="189.42" x2="141.06" y2="188.07" stroke="#e84848" stroke-width="0.7"/>
<circle cx="143.50" cy="204.75" r="0.57" fill="#ee6060"/>
<circle cx="153.26" cy="184.14" r="0.57" fill="#f4a8a8"/>
<line x1="177.80" y1="179.86" x2="179.39" y2="180.30" stroke="#f6bcbc" stroke-width="0.7"/>
<circle cx="141.03" cy="177.92" r="0.41" fill="#f49090"/>
<circle cx="108.68" cy="199.81" r="0.43" fill="#e84848"/>
<circle cx="150.80" cy="188.31" r="0.47" fill="#f6bcbc"/>
<line x1="132.06" y1="186.97" x2="131.36" y2="188.07" stroke="#f4a8a8" stroke-width="0.7"/>
<line x1="150.10" y1="201.67" x2="151.51" y2="202.17" stroke="#f6bcbc" stroke-width="0.7"/>
<line x1="120.98" y1="191.86" x2="121.63" y2="193.48" stroke="#f49090" stroke-width="0.7"/>
<line x1="165.42" y1="193.27" x2="166.83" y2="193.00" stroke="#f49090" stroke-width="0.7"/>
<line x1="133.92" y1="183.99" x2="133.41" y2="184.72" stroke="#f07878" stroke-width="0.7"/>
<circle cx="144.29" cy="180.62" r="0.60" fill="#f6bcbc"/>
<circle cx="99.64" cy="183.75" r="0.44" fill="#ee6060"/>
<circle cx="144.78" cy="197.44" r="0.44" fill="#f49090"/>
<line x1="136.09" y1="186.51" x2="136.15" y2="185.54" stroke="#f07878" stroke-width="0.7"/>
<circle cx="147.65" cy="194.46" r="0.52" fill="#f4a8a8"/>
<line x1="96.11" y1="197.20" x2="96.34" y2="198.03" stroke="#f07878" stroke-width="0.7"/>
<line x1="104.46" y1="182.41" x2="105.39" y2="182.19" stroke="#f6bcbc" stroke-width="0.7"/>
<line x1="122.85" y1="193.58" x2="123.58" y2="193.93" stroke="#e84848" stroke-width="0.7"/>
<circle cx="184.12" cy="199.01" r="0.50" fill="#f07878"/>
<line x1="155.77" y1="184.43" x2="154.86" y2="184.83" stroke="#f6bcbc" stroke-width="0.7"/>
<circle cx="133.82" cy="176.75" r="0.59" fill="#f07878"/>
<circle cx="177.75" cy="196.08" r="0.42" fill="#e84848"/>
<circle cx="156.71" cy="177.26" r="0.49" fill="#f4a8a8"/>
<line x1="93.80" y1="195.64" x2="94.15" y2="194.05" stroke="#f6bcbc" stroke-width="0.7"/>
<circle cx="156.14" cy="186.30" r="0.51" fill="#f49090"/>
<circle cx="98.79" cy="180.59" r="0.48" fill="#e84848"/>
<circle cx="79.46" cy="179.72" r="0.70" fill="#f6bcbc"/>
<line x1="118.16" y1="178.02" x2="117.20" y2="178.02" stroke="#f49090" stroke-width="0.7"/>
<line x1="106.55" y1="193.93" x2="106.68" y2="194.86" stroke="#f07878" stroke-width="0.7"/>
<circle cx="144.32" cy="188.54" r="0.54" fill="#f07878"/>
<circle cx="97.45" cy="187.67" r="0.66" fill="#f07878"/>
<line x1="161.13" y1="189.26" x2="162.56" y2="189.78" stroke="#e84848" stroke-width="0.7"/>
<circle cx="172.75" cy="178.38" r="0.65" fill="#f07878"/>
<line x1="174.25" y1="181.43" x2="174.74" y2="180.04" stroke="#e84848" stroke-width="0.7"/>
<line x1="136.56" y1="190.57" x2="134.84" y2="191.00" stroke="#ee6060" stroke-width="0.7"/>
<circle cx="174.78" cy="202.46" r="0.59" fill="#f4a8a8"/>
<line x1="163.85" y1="178.30" x2="163.11" y2="177.15" stroke="#f6bcbc" stroke-width="0.7"/>
<circle cx="120.17" cy="187.56" r="0.49" fill="#f6bcbc"/>
<circle cx="111.46" cy="203.05" r="0.47" fill="#f07878"/>
<circle cx="155.85" cy="197.24" r="0.51" fill="#f49090"/>
<line x1="138.05" y1="188.99" x2="137.06" y2="189.37" stroke="#ee6060" stroke-width="0.7"/>
<line x1="98.45" y1="205.56" x2="99.72" y2="206.63" stroke="#f49090" stroke-width="0.7"/>
<circle cx="101.39" cy="179.35" r="0.61" fill="#ee6060"/>
<line x1="98.42" y1="190.24" x2="99.42" y2="191.10" stroke="#ee6060" stroke-width="0.7"/>
<circle cx="138.91" cy="178.91" r="0.64" fill="#f4a8a8"/>
<circle cx="88.04" cy="191.59" r="0.63" fill="#ee6060"/>
<line x1="85.84" y1="206.22" x2="84.40" y2="206.59" stroke="#f6bcbc" stroke-width="0.7"/>
<line x1="133.96" y1="205.54" x2="134.11" y2="204.61" stroke="#f49090" stroke-width="0.7"/>
<line x1="159.93" y1="178.23" x2="161.38" y2="178.62" stroke="#f49090" stroke-width="0.7"/>
<circle cx="180.03" cy="190.29" r="0.53" fill="#f07878"/>
<line x1="172.53" y1="195.14" x2="173.98" y2="194.31" stroke="#f49090" stroke-width="0.7"/>
<circle cx="91.82" cy="198.86" r="0.62" fill="#e84848"/>
<line x1="74.30" y1="184.17" x2="74.16" y2="182.43" stroke="#f49090" stroke-width="0.7"/>
<line x1="153.84" y1="177.81" x2="153.14" y2="178.69" stroke="#ee6060" stroke-width="0.7"/>
<line x1="140.54" y1="177.52" x2="139.63" y2="178.71" stroke="#f6bcbc" stroke-width="0.7"/>
<line x1="75.38" y1="206.16" x2="76.29" y2="206.28" stroke="#f4a8a8" stroke-width="0.7"/>
<circle cx="162.68" cy="182.06" r="0.66" fill="#ee6060"/>
<circle cx="147.99" cy="201.59" r="0.56" fill="#ee6060"/>
<line x1="150.23" y1="200.75" x2="149.70" y2="201.54" stroke="#f4a8a8" stroke-width="0.7"/>
<line x1="129.20" y1="202.69" x2="128.15" y2="201.70" stroke="#f07878" stroke-width="0.7"/>
<circle cx="140.20" cy="201.79" r="0.53" fill="#f49090"/>
<line x1="98.67" y1="205.24" x2="98.19" y2="206.13" stroke="#ee6060" stroke-width="0.7"/>
<line x1="173.13" y1="194.18" x2="173.77" y2="192.79" stroke="#f07878" stroke-width="0.7"/>
<line x1="110.11" y1="190.55" x2="109.46" y2="191.65" stroke="#e84848" stroke-width="0.7"/>
<line x1="98.38" y1="183.96" x2="99.28" y2="185.13" stroke="#ee6060" stroke-width="0.7"/>
<circle cx="103.54" cy="184.70" r="0.51" fill="#ee6060"/>
<circle cx="137.23" cy="194.03" r="0.41" fill="#f49090"/>
<circle cx="135.79" cy="199.63" r="0.59" fill="#f49090"/>
<circle cx="144.08" cy="187.39" r="0.47" fill="#e84848"/>
<line x1="162.23" y1="180.73" x2="162.36" y2="179.20" stroke="#f07878" stroke-width="0.7"/>
<circle cx="130.00" cy="195.56" r="0.61" fill="#e84848"/>
<line x1="110.46" y1="197.63" x2="111.73" y2="197.53" stroke="#f6bcbc" stroke-width="0.7"/>
<circle cx="114.14" cy="183.80" r="0.45" fill="#f49090"/>
<line x1="96.00" y1="203.16" x2="94.71" y2="203.62" stroke="#f6bcbc" stroke-width="0.7"/>
<line x1="106.87" y1="181.57" x2="106.67" y2="180.53" stroke="#f07878" stroke-width="0.7"/>
<line x1="137.05" y1="196.27" x2="137.69" y2="197.87" stroke="#e84848" stroke-width="0.7"/>
<circle cx="138.51" cy="185.63" r="0.51" fill="#e84848"/>
<circle cx="159.74" cy="189.35" r="0.50" fill="#f07878"/>
<line x1="92.63" y1="203.43" x2="93.17" y2="204.35" stroke="#ee6060" stroke-width="0.7"/>
<line x1="151.89" y1="183.05" x2="152.74" y2="182.37" stroke="#f4a8a8" stroke-width="0.7"/>
<circle cx="129.21" cy="179.49" r="0.69" fill="#f49090"/>
<line x1="140.31" y1="178.88" x2="140.96" y2="179.63" stroke="#ee6060" stroke-width="0.7"/>
<line x1="133.14" y1="202.76" x2="134.24" y2="202.96" stroke="#f6bcbc" stroke-width="0.7"/>
<line x1="170.19" y1="177.31" x2="169.69" y2="176.29" stroke="#f4a8a8" stroke-width="0.7"/>
<line x1="79.43" y1="188.93" x2="78.24" y2="187.90" stroke="#f07878" stroke-width="0.7"/>
<circle cx="183.64" cy="188.49" r="0.41" fill="#f4a8a8"/>
<line x1="108.49" y1="196.12" x2="107.34" y2="195.12" stroke="#e84848" stroke-width="0.7"/>
<line x1="109.87" y1="179.30" x2="108.25" y2="179.00" stroke="#f49090" stroke-width="0.7"/>
<line x1="113.08" y1="187.35" x2="111.93" y2="186.64" stroke="#e84848" stroke-width="0.7"/>
<line x1="146.62" y1="194.55" x2="145.44" y2="193.45" stroke="#e84848" stroke-width="0.7"/>
<line x1="126.49" y1="177.45" x2="126.74" y2="175.69" stroke="#f6bcbc" stroke-width="0.7"/>
<line x1="123.75" y1="184.85" x2="123.60" y2="185.89" stroke="#ee6060" stroke-width="0.7"/>
<line x1="135.51" y1="179.49" x2="134.68" y2="178.62" stroke="#e84848" stroke-width="0.7"/>
<line x1="182.66" y1="204.61" x2="183.87" y2="205.09" stroke="#ee6060" stroke-width="0.7"/>
<line x1="135.19" y1="181.95" x2="135.77" y2="182.74" stroke="#ee6060" stroke-width="0.7"/>
<line x1="155.63" y1="204.14" x2="154.73" y2="205.36" stroke="#f49090" stroke-width="0.7"/>
<circle cx="122.45" cy="202.30" r="0.50" fill="#f49090"/>
<circle cx="162.66" cy="190.30" r="0.41" fill="#e84848"/>
<circle cx="146.92" cy="176.96" r="0.60" fill="#f6bcbc"/>
<line x1="112.28" y1="183.34" x2="113.80" y2="182.49" stroke="#f4a8a8" stroke-width="0.7"/>
<line x1="143.24" y1="183.22" x2="142.97" y2="182.21" stroke="#e84848" stroke-width="0.7"/>
<circle cx="112.68" cy="186.28" r="0.49" fill="#f4a8a8"/>
<circle cx="184.36" cy="183.00" r="0.54" fill="#ee6060"/>
<circle cx="177.60" cy="199.58" r="0.48" fill="#f49090"/>
<line x1="110.13" y1="191.07" x2="109.56" y2="189.79" stroke="#f49090" stroke-width="0.7"/>
<circle cx="123.74" cy="193.88" r="0.62" fill="#f49090"/>
<line x1="78.17" y1="199.72" x2="79.35" y2="198.36" stroke="#f4a8a8" stroke-width="0.7"/>
<line x1="106.33" y1="177.23" x2="107.13" y2="176.75" stroke="#f07878" stroke-width="0.7"/>
<line x1="106.90" y1="191.58" x2="107.63" y2="192.87" stroke="#e84848" stroke-width="0.7"/>
<circle cx="83.11" cy="186.69" r="0.66" fill="#f6bcbc"/>
<line x1="182.72" y1="177.49" x2="182.15" y2="176.90" stroke="#f49090" stroke-width="0.7"/>
<line x1="88.10" y1="194.36" x2="88.75" y2="194.86" stroke="#ee6060" stroke-width="0.7"/>
<line x1="183.97" y1="185.99" x2="183.03" y2="186.07" stroke="#f07878" stroke-width="0.7"/>
<line x1="120.99" y1="181.87" x2="120.09" y2="180.87" stroke="#f6bcbc" stroke-width="0.7"/>
<circle cx="184.26" cy="192.40" r="0.42" fill="#f4a8a8"/>
<circle cx="181.69" cy="202.10" r="0.48" fill="#f49090"/>
<circle cx="92.85" cy="184.44" r="0.46" fill="#f07878"/>
<line x1="78.36" y1="200.19" x2="77.97" y2="200.93" stroke="#e84848" stroke-width="0.7"/>
<circle cx="123.82" cy="184.96" r="0.69" fill="#e84848"/>
<line x1="170.90" y1="198.03" x2="169.75" y2="197.74" stroke="#f4a8a8" stroke-width="0.7"/>
<circle cx="89.94" cy="199.33" r="0.67" fill="#f4a8a8"/>
<circle cx="144.12" cy="183.67" r="0.48" fill="#ee6060"/>
<circle cx="141.42" cy="187.81" r="0.60" fill="#f49090"/>
<circle cx="82.72" cy="195.12" r="0.41" fill="#f07878"/>
<line x1="150.75" y1="186.23" x2="150.13" y2="185.14" stroke="#f6bcbc" stroke-width="0.7"/>
<circle cx="137.70" cy="190.70" r="0.55" fill="#f6bcbc"/>
<circle cx="139.34" cy="206.34" r="0.64" fill="#f49090"/>
<line x1="170.38" y1="187.16" x2="168.98" y2="186.92" stroke="#f07878" stroke-width="0.7"/>
<circle cx="148.85" cy="186.16" r="0.60" fill="#f6bcbc"/>
<circle cx="176.48" cy="199.46" r="0.54" fill="#e84848"/>
<line x1="153.81" y1="192.16" x2="154.68" y2="192.16" stroke="#f4a8a8" stroke-width="0.7"/>
<line x1="157.81" y1="187.42" x2="158.22" y2="186.47" stroke="#f49090" stroke-width="0.7"/>
<line x1="92.30" y1="201.16" x2="93.87" y2="200.62" stroke="#f4a8a8" stroke-width="0.7"/>
<line x1="146.03" y1="203.82" x2="146.83" y2="202.41" stroke="#e84848" stroke-width="0.7"/>
<line x1="86.78" y1="181.12" x2="85.81" y2="182.21" stroke="#e84848" stroke-width="0.7"/>
<line x1="131.53" y1="185.57" x2="130.11" y2="186.67" stroke="#f6bcbc" stroke-width="0.7"/>
<circle cx="150.84" cy="189.98" r="0.45" fill="#f4a8a8"/>
<line x1="130.94" y1="176.68" x2="129.91" y2="176.54" stroke="#f49090" stroke-width="0.7"/>
<line x1="114.53" y1="186.70" x2="113.78" y2="186.43" stroke="#f4a8a8" stroke-width="0.7"/>
<circle cx="102.08" cy="194.22" r="0.48" fill="#e84848"/>
<line x1="109.29" y1="183.75" x2="108.20" y2="182.50" stroke="#f4a8a8" stroke-width="0.7"/>
<circle cx="95.59" cy="189.19" r="0.51" fill="#e84848"/>
<line x1="77.92" y1="189.78" x2="77.95" y2="188.01" stroke="#e84848" stroke-width="0.7"/>
<line x1="121.27" y1="194.72" x2="120.23" y2="195.63" stroke="#e84848" stroke-width="0.7"/>
<line x1="176.58" y1="182.25" x2="177.50" y2="182.64" stroke="#f6bcbc" stroke-width="0.7"/>
<line x1="169.34" y1="178.90" x2="168.06" y2="178.69" stroke="#f4a8a8" stroke-width="0.7"/>
<line x1="173.95" y1="199.21" x2="172.35" y2="198.54" stroke="#f07878" stroke-width="0.7"/>
<line x1="151.51" y1="189.58" x2="152.60" y2="190.06" stroke="#f4a8a8" stroke-width="0.7"/>
<circle cx="88.15" cy="199.08" r="0.62" fill="#f07878"/>
<line x1="117.99" y1="177.72" x2="117.41" y2="178.76" stroke="#f6bcbc" stroke-width="0.7"/>
<line x1="124.51" y1="179.20" x2="125.80" y2="179.33" stroke="#f07878" stroke-width="0.7"/>
<line x1="167.99" y1="182.97" x2="167.36" y2="181.60" stroke="#f4a8a8" stroke-width="0.7"/>
<circle cx="127.07" cy="178.14" r="0.65" fill="#f6bcbc"/>
<circle cx="88.70" cy="188.71" r="0.44" fill="#f07878"/>
<line x1="110.45" y1="192.05" x2="109.16" y2="191.73" stroke="#f07878" stroke-width="0.7"/>
<circle cx="82.70" cy="188.01" r="0.57" fill="#f6bcbc"/>
<line x1="130.23" y1="189.11" x2="130.24" y2="190.29" stroke="#f07878" stroke-width="0.7"/>
<line x1="121.84" y1="192.69" x2="123.11" y2="193.12" stroke="#e84848" stroke-width="0.7"/>
<circle cx="114.87" cy="190.43" r="0.44" fill="#f4a8a8"/>
<circle cx="177.21" cy="186.75" r="0.57" fill="#f4a8a8"/>
<line x1="78.73" y1="185.93" x2="80.28" y2="185.44" stroke="#ee6060" stroke-width="0.7"/>
<line x1="76.96" y1="183.09" x2="76.56" y2="181.54" stroke="#f4a8a8" stroke-width="0.7"/>
<line x1="139.31" y1="190.14" x2="139.93" y2="189.54" stroke="#f6bcbc" stroke-width="0.7"/>
<line x1="121.58" y1="195.68" x2="122.75" y2="194.57" stroke="#f07878" stroke-width="0.7"/>
<line x1="128.68" y1="176.93" x2="129.09" y2="175.69" stroke="#f6bcbc" stroke-width="0.7"/>
<circle cx="148.47" cy="196.75" r="0.56" fill="#e84848"/>
<line x1="90.80" y1="199.83" x2="91.52" y2="200.36" stroke="#f6bcbc" stroke-width="0.7"/>
<line x1="160.84" y1="205.03" x2="161.59" y2="203.72" stroke="#f4a8a8" stroke-width="0.7"/>
<circle cx="122.55" cy="189.24" r="0.44" fill="#f07878"/>
<circle cx="90.94" cy="189.89" r="0.64" fill="#f49090"/>
<circle cx="152.18" cy="198.08" r="0.50" fill="#e84848"/>
<circle cx="167.23" cy="181.06" r="0.52" fill="#f6bcbc"/>
<line x1="76.69" y1="187.90" x2="75.85" y2="186.66" stroke="#f6bcbc" stroke-width="0.7"/>
<line x1="95.19" y1="180.97" x2="94.80" y2="180.14" stroke="#f49090" stroke-width="0.7"/>
<circle cx="165.79" cy="180.16" r="0.68" fill="#f49090"/>
<line x1="131.95" y1="185.22" x2="132.28" y2="183.57" stroke="#e84848" stroke-width="0.7"/>
<circle cx="175.25" cy="182.52" r="0.58" fill="#e84848"/>
<line x1="133.56" y1="179.15" x2="133.73" y2="177.60" stroke="#f49090" stroke-width="0.7"/>
<line x1="174.27" y1="193.86" x2="172.84" y2="192.84" stroke="#e84848" stroke-width="0.7"/>
<line x1="111.56" y1="204.83" x2="112.10" y2="205.85" stroke="#f6bcbc" stroke-width="0.7"/>
<line x1="126.88" y1="186.39" x2="127.13" y2="185.32" stroke="#e84848" stroke-width="0.7"/>
<circle cx="80.78" cy="193.28" r="0.43" fill="#f07878"/>
<line x1="91.07" y1="188.30" x2="90.18" y2="188.22" stroke="#f07878" stroke-width="0.7"/>
<circle cx="145.44" cy="180.46" r="0.42" fill="#ee6060"/>
<line x1="154.49" y1="198.53" x2="155.55" y2="198.12" stroke="#e84848" stroke-width="0.7"/>
<line x1="167.34" y1="202.70" x2="167.27" y2="203.61" stroke="#f4a8a8" stroke-width="0.7"/>
<line x1="99.74" y1="181.09" x2="100.67" y2="181.95" stroke="#e84848" stroke-width="0.7"/>
<line x1="91.37" y1="192.56" x2="92.40" y2="192.23" stroke="#ee6060" stroke-width="0.7"/>
<circle cx="135.19" cy="206.14" r="0.56" fill="#f49090"/>
<circle cx="99.84" cy="179.35" r="0.55" fill="#f07878"/>
<circle cx="161.60" cy="193.61" r="0.43" fill="#f6bcbc"/>
<line x1="92.18" y1="201.73" x2="91.54" y2="201.09" stroke="#f07878" stroke-width="0.7"/>
<line x1="136.82" y1="180.12" x2="136.96" y2="181.51" stroke="#f6bcbc" stroke-width="0.7"/>
<circle cx="160.81" cy="197.82" r="0.42" fill="#f07878"/>
<circle cx="110.78" cy="179.44" r="0.61" fill="#f49090"/>
<line x1="164.24" y1="186.76" x2="164.70" y2="187.78" stroke="#f4a8a8" stroke-width="0.7"/>
<line x1="177.32" y1="200.10" x2="177.37" y2="201.63" stroke="#f07878" stroke-width="0.7"/>
<circle cx="149.03" cy="181.04" r="0.46" fill="#e84848"/>
<circle cx="176.59" cy="197.08" r="0.70" fill="#f6bcbc"/>
<line x1="161.66" y1="190.89" x2="161.24" y2="191.65" stroke="#f4a8a8" stroke-width="0.7"/>
<line x1="140.59" y1="178.38" x2="139.79" y2="179.28" stroke="#f6bcbc" stroke-width="0.7"/>
<line x1="145.91" y1="205.64" x2="147.34" y2="205.33" stroke="#ee6060" stroke-width="0.7"/>
<circle cx="156.50" cy="180.55" r="0.67" fill="#f6bcbc"/>
<line x1="156.44" y1="201.47" x2="154.94" y2="202.12" stroke="#f6bcbc" stroke-width="0.7"/>
<circle cx="160.86" cy="202.62" r="0.58" fill="#e84848"/>
<circle cx="146.38" cy="195.48" r="0.64" fill="#f07878"/>
<line x1="101.22" y1="201.65" x2="100.06" y2="200.94" stroke="#f49090" stroke-width="0.7"/>
<circle cx="171.29" cy="193.75" r="0.42" fill="#f6bcbc"/>
<circle cx="147.32" cy="188.34" r="0.68" fill="#f6bcbc"/>
<line x1="165.49" y1="188.69" x2="164.74" y2="187.28" stroke="#f07878" stroke-width="0.7"/>
<circle cx="147.29" cy="203.62" r="0.40" fill="#f4a8a8"/>
<circle cx="127.77" cy="176.99" r="0.54" fill="#f07878"/>
<line x1="119.01" y1="185.48" x2="119.27" y2="186.61" stroke="#f49090" stroke-width="0.7"/>
<line x1="167.59" y1="195.08" x2="168.57" y2="195.03" stroke="#e84848" stroke-width="0.7"/>
<circle cx="172.63" cy="188.72" r="0.44" fill="#ee6060"/>
<line x1="149.49" y1="177.75" x2="149.02" y2="178.57" stroke="#f49090" stroke-width="0.7"/>
<circle cx="91.75" cy="187.05" r="0.69" fill="#ee6060"/>
<circle cx="107.56" cy="186.05" r="0.58" fill="#ee6060"/>
<line x1="168.96" y1="205.55" x2="169.93" y2="205.55" stroke="#f4a8a8" stroke-width="0.7"/>
<line x1="178.84" y1="190.14" x2="178.30" y2="190.86" stroke="#f6bcbc" stroke-width="0.7"/>
<circle cx="134.90" cy="202.37" r="0.44" fill="#ee6060"/>
<line x1="157.37" y1="184.10" x2="156.49" y2="183.23" stroke="#f4a8a8" stroke-width="0.7"/>
<circle cx="180.28" cy="187.35" r="0.61" fill="#f6bcbc"/>
<circle cx="178.04" cy="200.76" r="0.55" fill="#f07878"/>
<circle cx="113.74" cy="205.79" r="0.67" fill="#f07878"/>
<circle cx="86.33" cy="187.82" r="0.67" fill="#e84848"/>
<circle cx="154.63" cy="198.99" r="0.54" fill="#f07878"/>
<line x1="73.79" y1="204.60" x2="72.62" y2="203.88" stroke="#e84848" stroke-width="0.7"/>
<line x1="78.23" y1="188.27" x2="79.65" y2="188.11" stroke="#f6bcbc" stroke-width="0.7"/>
<line x1="100.07" y1="199.69" x2="101.51" y2="199.49" stroke="#f07878" stroke-width="0.7"/>
<line x1="163.15" y1="196.79" x2="164.29" y2="196.61" stroke="#f4a8a8" stroke-width="0.7"/>
<line x1="174.12" y1="186.23" x2="175.39" y2="186.62" stroke="#ee6060" stroke-width="0.7"/>
<line x1="173.10" y1="182.52" x2="173.03" y2="181.56" stroke="#f07878" stroke-width="0.7"/>
<circle cx="107.94" cy="178.10" r="0.63" fill="#e84848"/>
<line x1="113.33" y1="197.31" x2="114.27" y2="196.96" stroke="#e84848" stroke-width="0.7"/>
<circle cx="108.94" cy="189.65" r="0.51" fill="#f07878"/>
<line x1="108.80" y1="200.30" x2="109.29" y2="201.94" stroke="#f4a8a8" stroke-width="0.7"/>
<line x1="123.43" y1="201.61" x2="124.09" y2="201.09" stroke="#f6bcbc" stroke-width="0.7"/>
<line x1="104.24" y1="192.57" x2="103.49" y2="191.21" stroke="#f6bcbc" stroke-width="0.7"/>
<line x1="103.84" y1="187.38" x2="103.50" y2="188.77" stroke="#f4a8a8" stroke-width="0.7"/>
<line x1="102.09" y1="199.64" x2="101.74" y2="198.59" stroke="#f07878" stroke-width="0.7"/>
<circle cx="140.44" cy="187.29" r="0.66" fill="#f49090"/>
<circle cx="83.80" cy="194.58" r="0.61" fill="#f4a8a8"/>
<circle cx="177.16" cy="181.48" r="0.59" fill="#f49090"/>
<circle cx="150.51" cy="199.74" r="0.64" fill="#f4a8a8"/>
<circle cx="166.99" cy="188.50" r="0.50" fill="#f4a8a8"/>
<circle cx="93.80" cy="202.65" r="0.52" fill="#ee6060"/>
<line x1="176.85" y1="185.16" x2="177.96" y2="185.65" stroke="#f49090" stroke-width="0.7"/>
<line x1="129.24" y1="202.06" x2="128.31" y2="202.47" stroke="#f6bcbc" stroke-width="0.7"/>
<circle cx="154.62" cy="200.06" r="0.65" fill="#f6bcbc"/>
<line x1="89.93" y1="196.65" x2="91.29" y2="195.63" stroke="#f49090" stroke-width="0.7"/>
<line x1="156.22" y1="201.13" x2="155.88" y2="202.54" stroke="#f6bcbc" stroke-width="0.7"/>
<circle cx="171.06" cy="188.03" r="0.63" fill="#e84848"/>
<line x1="140.74" y1="191.77" x2="140.89" y2="192.65" stroke="#ee6060" stroke-width="0.7"/>
<line x1="148.71" y1="205.74" x2="148.44" y2="204.92" stroke="#f07878" stroke-width="0.7"/>
<line x1="166.92" y1="186.25" x2="167.03" y2="185.01" stroke="#f07878" stroke-width="0.7"/>
<line x1="129.38" y1="205.82" x2="129.67" y2="205.03" stroke="#ee6060" stroke-width="0.7"/>
<line x1="165.67" y1="179.82" x2="167.29" y2="179.13" stroke="#f49090" stroke-width="0.7"/>
<circle cx="132.44" cy="183.41" r="0.46" fill="#ee6060"/>
<circle cx="167.01" cy="200.76" r="0.47" fill="#ee6060"/>
<line x1="92.38" y1="200.82" x2="93.70" y2="201.38" stroke="#e84848" stroke-width="0.7"/>
<line x1="154.15" y1="194.05" x2="155.31" y2="193.71" stroke="#f4a8a8" stroke-width="0.7"/>
<circle cx="147.67" cy="202.95" r="0.69" fill="#f07878"/>
<circle cx="109.90" cy="206.09" r="0.57" fill="#f07878"/>
<circle cx="121.31" cy="205.58" r="0.46" fill="#f6bcbc"/>
<line x1="141.96" y1="179.86" x2="142.48" y2="181.30" stroke="#f49090" stroke-width="0.7"/>
<circle cx="130.82" cy="189.66" r="0.62" fill="#f49090"/>
<circle cx="159.61" cy="182.54" r="0.49" fill="#f6bcbc"/>
<circle cx="161.05" cy="177.19" r="0.62" fill="#f6bcbc"/>
<circle cx="80.03" cy="182.67" r="0.59" fill="#f07878"/>
<line x1="156.71" y1="192.63" x2="157.44" y2="193.86" stroke="#ee6060" stroke-width="0.7"/>
<circle cx="184.04" cy="185.67" r="0.61" fill="#f07878"/>
<line x1="120.15" y1="177.38" x2="120.88" y2="177.92" stroke="#f6bcbc" stroke-width="0.7"/>
<line x1="90.23" y1="199.82" x2="91.22" y2="200.39" stroke="#f4a8a8" stroke-width="0.7"/>
<circle cx="108.67" cy="203.42" r="0.56" fill="#f49090"/>
<line x1="101.14" y1="188.17" x2="102.83" y2="188.39" stroke="#e84848" stroke-width="0.7"/>
<line x1="152.54" y1="204.86" x2="152.41" y2="203.68" stroke="#ee6060" stroke-width="0.7"/>
<line x1="163.93" y1="201.74" x2="165.10" y2="202.72" stroke="#f49090" stroke-width="0.7"/>
<line x1="132.50" y1="177.33" x2="134.13" y2="177.78" stroke="#f07878" stroke-width="0.7"/>
<line x1="132.83" y1="178.63" x2="131.65" y2="178.17" stroke="#e84848" stroke-width="0.7"/>
<line x1="159.12" y1="203.62" x2="160.10" y2="202.96" stroke="#f07878" stroke-width="0.7"/>
<circle cx="84.65" cy="194.24" r="0.53" fill="#f49090"/>
<circle cx="137.07" cy="204.11" r="0.53" fill="#f6bcbc"/>
<circle cx="80.57" cy="198.23" r="0.45" fill="#f07878"/>
<circle cx="146.01" cy="202.36" r="0.54" fill="#f49090"/>
<circle cx="171.63" cy="194.68" r="0.58" fill="#f07878"/>
<line x1="80.03" y1="183.66" x2="78.61" y2="183.03" stroke="#f49090" stroke-width="0.7"/>
<line x1="98.11" y1="198.65" x2="99.58" y2="199.64" stroke="#f6bcbc" stroke-width="0.7"/>
<line x1="162.90" y1="177.64" x2="164.55" y2="177.01" stroke="#f07878" stroke-width="0.7"/>
<circle cx="159.84" cy="177.83" r="0.68" fill="#ee6060"/>
<line x1="102.45" y1="181.10" x2="103.95" y2="180.68" stroke="#f07878" stroke-width="0.7"/>
<circle cx="171.82" cy="179.40" r="0.45" fill="#f49090"/>
<circle cx="130.36" cy="179.67" r="0.40" fill="#f4a8a8"/>
<line x1="168.36" y1="193.18" x2="167.34" y2="192.22" stroke="#f07878" stroke-width="0.7"/>
<circle cx="162.54" cy="178.83" r="0.58" fill="#f07878"/>
<circle cx="124.19" cy="196.62" r="0.41" fill="#ee6060"/>
<line x1="165.92" y1="200.85" x2="165.52" y2="199.36" stroke="#f4a8a8" stroke-width="0.7"/>
<circle cx="148.23" cy="206.00" r="0.56" fill="#ee6060"/>
<line x1="112.48" y1="179.32" x2="113.79" y2="178.11" stroke="#f6bcbc" stroke-width="0.7"/>
<circle cx="83.06" cy="184.72" r="0.44" fill="#e84848"/>
<line x1="140.92" y1="205.86" x2="141.73" y2="206.27" stroke="#f49090" stroke-width="0.7"/>
<line x1="150.56" y1="194.46" x2="152.27" y2="194.29" stroke="#ee6060" stroke-width="0.7"/>
<circle cx="137.35" cy="182.82" r="0.42" fill="#f6bcbc"/>
<line x1="75.42" y1="178.27" x2="74.72" y2="176.77" stroke="#f6bcbc" stroke-width="0.7"/>
<circle cx="121.25" cy="202.84" r="0.49" fill="#f49090"/>
<circle cx="101.61" cy="180.52" r="0.41" fill="#e84848"/>
<circle cx="115.82" cy="181.36" r="0.60" fill="#f49090"/>
<line x1="177.41" y1="199.37" x2="177.41" y2="200.58" stroke="#e84848" stroke-width="0.7"/>
<circle cx="75.34" cy="183.42" r="0.50" fill="#e84848"/>
<circle cx="159.29" cy="199.75" r="0.56" fill="#e84848"/>
<line x1="84.74" y1="201.26" x2="84.29" y2="202.00" stroke="#e84848" stroke-width="0.7"/>
<line x1="86.65" y1="190.24" x2="85.86" y2="189.16" stroke="#f49090" stroke-width="0.7"/>
<circle cx="178.05" cy="188.73" r="0.69" fill="#ee6060"/>
<circle cx="83.04" cy="182.87" r="0.67" fill="#e84848"/>
<circle cx="153.00" cy="189.44" r="0.45" fill="#f07878"/>
<circle cx="122.06" cy="197.11" r="0.49" fill="#f6bcbc"/>
<line x1="116.78" y1="186.75" x2="117.74" y2="185.68" stroke="#f07878" stroke-width="0.7"/>
<line x1="142.25" y1="196.18" x2="141.47" y2="195.02" stroke="#f6bcbc" stroke-width="0.7"/>
<circle cx="150.83" cy="185.62" r="0.56" fill="#f07878"/>
<line x1="81.23" y1="178.73" x2="79.46" y2="178.80" stroke="#ee6060" stroke-width="0.7"/>
<line x1="150.00" y1="184.70" x2="150.90" y2="185.35" stroke="#f4a8a8" stroke-width="0.7"/>
<circle cx="118.80" cy="197.19" r="0.66" fill="#f4a8a8"/>
<circle cx="169.47" cy="190.32" r="0.41" fill="#e84848"/>
<circle cx="165.82" cy="183.29" r="0.60" fill="#f49090"/>
<line x1="104.10" y1="176.79" x2="105.44" y2="177.64" stroke="#f49090" stroke-width="0.7"/>
<line x1="147.11" y1="185.86" x2="147.66" y2="186.56" stroke="#e84848" stroke-width="0.7"/>
<line x1="183.06" y1="187.99" x2="182.32" y2="187.56" stroke="#f6bcbc" stroke-width="0.7"/>
<circle cx="106.14" cy="184.55" r="0.51" fill="#f49090"/>
<circle cx="133.72" cy="181.79" r="0.48" fill="#e84848"/>
<circle cx="114.02" cy="192.19" r="0.67" fill="#f07878"/>
<line x1="91.57" y1="199.32" x2="91.92" y2="200.28" stroke="#f07878" stroke-width="0.7"/>
<circle cx="116.03" cy="187.46" r="0.48" fill="#f6bcbc"/>
<circle cx="73.84" cy="179.49" r="0.47" fill="#f4a8a8"/>
<line x1="76.29" y1="189.65" x2="75.08" y2="189.21" stroke="#f07878" stroke-width="0.7"/>
<circle cx="118.33" cy="191.05" r="0.53" fill="#f49090"/>
<line x1="79.80" y1="182.22" x2="78.10" y2="182.56" stroke="#e84848" stroke-width="0.7"/>
<line x1="135.14" y1="178.65" x2="135.44" y2="180.02" stroke="#f49090" stroke-width="0.7"/>
<line x1="184.99" y1="204.35" x2="186.23" y2="203.89" stroke="#f4a8a8" stroke-width="0.7"/>
<line x1="99.85" y1="181.62" x2="100.77" y2="182.15" stroke="#e84848" stroke-width="0.7"/>
<line x1="176.50" y1="190.33" x2="177.00" y2="188.99" stroke="#f6bcbc" stroke-width="0.7"/>
<line x1="83.97" y1="184.92" x2="83.60" y2="183.70" stroke="#e84848" stroke-width="0.7"/>
<circle cx="101.82" cy="191.79" r="0.55" fill="#f6bcbc"/>
<line x1="75.74" y1="190.61" x2="74.80" y2="189.35" stroke="#f6bcbc" stroke-width="0.7"/>
<line x1="147.42" y1="180.68" x2="148.00" y2="179.03" stroke="#e84848" stroke-width="0.7"/>
<circle cx="155.92" cy="202.22" r="0.60" fill="#e84848"/>
<circle cx="151.37" cy="176.97" r="0.42" fill="#f4a8a8"/>
<circle cx="97.30" cy="177.58" r="0.65" fill="#f4a8a8"/>
<circle cx="107.10" cy="185.92" r="0.52" fill="#f49090"/>
<line x1="149.06" y1="176.88" x2="147.76" y2="177.07" stroke="#f4a8a8" stroke-width="0.7"/>
<circle cx="179.21" cy="191.26" r="0.46" fill="#f49090"/>
<line x1="166.40" y1="182.56" x2="167.94" y2="182.31" stroke="#f4a8a8" stroke-width="0.7"/>
<circle cx="76.56" cy="181.83" r="0.41" fill="#f4a8a8"/>
<line x1="114.88" y1="181.36" x2="115.41" y2="180.06" stroke="#f07878" stroke-width="0.7"/>
<line x1="126.21" y1="192.94" x2="126.26" y2="193.85" stroke="#f4a8a8" stroke-width="0.7"/>
<circle cx="180.55" cy="180.97" r="0.44" fill="#f49090"/>
<line x1="108.98" y1="199.10" x2="109.66" y2="200.30" stroke="#f49090" stroke-width="0.7"/>
<circle cx="123.67" cy="188.77" r="0.66" fill="#ee6060"/>
<line x1="180.18" y1="184.57" x2="181.80" y2="185.11" stroke="#f6bcbc" stroke-width="0.7"/>
<line x1="84.66" y1="177.03" x2="84.68" y2="176.05" stroke="#e84848" stroke-width="0.7"/>
<circle cx="88.50" cy="178.70" r="0.64" fill="#f4a8a8"/>
<line x1="146.18" y1="191.88" x2="144.85" y2="191.89" stroke="#f07878" stroke-width="0.7"/>
<circle cx="149.14" cy="187.59" r="0.46" fill="#ee6060"/>
<line x1="81.51" y1="203.43" x2="82.63" y2="202.07" stroke="#ee6060" stroke-width="0.7"/>
<line x1="145.07" y1="188.86" x2="145.73" y2="187.51" stroke="#ee6060" stroke-width="0.7"/>
<circle cx="79.39" cy="196.97" r="0.64" fill="#f49090"/>
<circle cx="74.08" cy="190.76" r="0.69" fill="#f6bcbc"/>
<circle cx="172.65" cy="190.47" r="0.47" fill="#e84848"/>
<line x1="121.23" y1="205.24" x2="120.47" y2="205.78" stroke="#f49090" stroke-width="0.7"/>
<line x1="156.69" y1="187.62" x2="155.88" y2="186.28" stroke="#f6bcbc" stroke-width="0.7"/>
<circle cx="87.29" cy="183.18" r="0.43" fill="#f49090"/>
<line x1="130.11" y1="203.04" x2="131.33" y2="203.69" stroke="#ee6060" stroke-width="0.7"/>
<line x1="178.55" y1="193.81" x2="178.61" y2="192.70" stroke="#e84848" stroke-width="0.7"/>
<circle cx="163.87" cy="197.29" r="0.45" fill="#f6bcbc"/>
<circle cx="114.41" cy="205.37" r="0.59" fill="#e84848"/>
<line x1="144.07" y1="197.65" x2="144.93" y2="196.48" stroke="#f49090" stroke-width="0.7"/>
<circle cx="91.30" cy="178.44" r="0.66" fill="#f4a8a8"/>
<line x1="138.95" y1="182.45" x2="137.79" y2="183.16" stroke="#f07878" stroke-width="0.7"/>
<line x1="76.25" y1="200.45" x2="76.26" y2="201.43" stroke="#f49090" stroke-width="0.7"/>
<line x1="92.55" y1="203.52" x2="93.85" y2="204.66" stroke="#f49090" stroke-width="0.7"/>
<line x1="181.64" y1="180.96" x2="181.00" y2="181.85" stroke="#e84848" stroke-width="0.7"/>
<line x1="156.72" y1="202.74" x2="157.55" y2="203.23" stroke="#e84848" stroke-width="0.7"/>
<circle cx="83.24" cy="195.22" r="0.44" fill="#f6bcbc"/>
<line x1="170.23" y1="186.36" x2="170.88" y2="187.96" stroke="#ee6060" stroke-width="0.7"/>
<circle cx="135.76" cy="178.04" r="0.53" fill="#f49090"/>
<circle cx="106.06" cy="177.00" r="0.64" fill="#e84848"/>
<circle cx="83.55" cy="194.09" r="0.54" fill="#f49090"/>
<line x1="125.46" y1="200.94" x2="124.76" y2="199.77" stroke="#ee6060" stroke-width="0.7"/>
<line x1="88.48" y1="182.28" x2="89.15" y2="181.22" stroke="#ee6060" stroke-width="0.7"/>
<line x1="157.09" y1="191.54" x2="156.96" y2="190.72" stroke="#ee6060" stroke-width="0.7"/>
<line x1="154.13" y1="183.13" x2="153.88" y2="181.90" stroke="#e84848" stroke-width="0.7"/>
<circle cx="94.54" cy="182.02" r="0.67" fill="#e84848"/>
<circle cx="87.70" cy="178.36" r="0.65" fill="#f4a8a8"/>
<line x1="153.22" y1="205.26" x2="152.13" y2="205.10" stroke="#e84848" stroke-width="0.7"/>
<line x1="159.76" y1="185.97" x2="158.81" y2="185.88" stroke="#e84848" stroke-width="0.7"/>
<line x1="177.35" y1="202.82" x2="176.67" y2="204.25" stroke="#f4a8a8" stroke-width="0.7"/>
<circle cx="153.46" cy="202.60" r="0.56" fill="#f6bcbc"/>
<circle cx="159.85" cy="179.69" r="0.53" fill="#f07878"/>
<line x1="80.47" y1="200.61" x2="79.94" y2="201.77" stroke="#ee6060" stroke-width="0.7"/>
<line x1="152.78" y1="199.61" x2="153.07" y2="198.11" stroke="#e84848" stroke-width="0.7"/>
<line x1="108.24" y1="178.03" x2="109.07" y2="177.59" stroke="#f4a8a8" stroke-width="0.7"/>
<line x1="169.12" y1="204.80" x2="167.73" y2="205.10" stroke="#ee6060" stroke-width="0.7"/>
<circle cx="106.60" cy="178.56" r="0.53" fill="#f6bcbc"/>
<circle cx="82.60" cy="188.32" r="0.62" fill="#f07878"/>
<line x1="76.57" y1="203.79" x2="77.25" y2="204.33" stroke="#f6bcbc" stroke-width="0.7"/>
<line x1="91.37" y1="192.46" x2="92.09" y2="193.84" stroke="#f4a8a8" stroke-width="0.7"/>
<circle cx="120.69" cy="186.64" r="0.54" fill="#f07878"/>
<circle cx="134.82" cy="179.25" r="0.62" fill="#f6bcbc"/>
<circle cx="116.31" cy="183.29" r="0.49" fill="#f49090"/>
<circle cx="125.11" cy="197.98" r="0.62" fill="#f6bcbc"/>
<line x1="175.54" y1="191.23" x2="175.55" y2="192.29" stroke="#ee6060" stroke-width="0.7"/>
<circle cx="125.55" cy="206.22" r="0.58" fill="#f49090"/>
<circle cx="108.11" cy="198.38" r="0.60" fill="#e84848"/>
<line x1="79.31" y1="176.50" x2="80.87" y2="176.61" stroke="#f49090" stroke-width="0.7"/>
<line x1="140.93" y1="203.48" x2="140.24" y2="205.01" stroke="#e84848" stroke-width="0.7"/>
<line x1="179.36" y1="185.55" x2="178.70" y2="186.18" stroke="#ee6060" stroke-width="0.7"/>
<circle cx="98.44" cy="203.79" r="0.63" fill="#f4a8a8"/>
<circle cx="136.50" cy="203.85" r="0.70" fill="#f6bcbc"/>
<line x1="154.54" y1="199.15" x2="153.89" y2="198.16" stroke="#e84848" stroke-width="0.7"/>
<circle cx="167.05" cy="180.51" r="0.60" fill="#ee6060"/>
<circle cx="79.14" cy="203.38" r="0.66" fill="#f49090"/>
<circle cx="88.58" cy="204.65" r="0.56" fill="#f6bcbc"/>
<circle cx="175.04" cy="200.31" r="0.68" fill="#ee6060"/>
<circle cx="125.66" cy="190.35" r="0.46" fill="#f6bcbc"/>
<line x1="111.13" y1="183.98" x2="112.42" y2="182.87" stroke="#f07878" stroke-width="0.7"/>
<line x1="75.86" y1="187.60" x2="75.81" y2="186.60" stroke="#ee6060" stroke-width="0.7"/>
<circle cx="124.75" cy="188.56" r="0.49" fill="#f4a8a8"/>
<line x1="143.82" y1="203.34" x2="142.90" y2="204.70" stroke="#f4a8a8" stroke-width="0.7"/>
<line x1="155.78" y1="187.07" x2="157.47" y2="187.04" stroke="#f07878" stroke-width="0.7"/>
<circle cx="80.67" cy="189.88" r="0.60" fill="#f07878"/>
<circle cx="96.29" cy="187.37" r="0.60" fill="#e84848"/>
<line x1="169.68" y1="196.14" x2="168.64" y2="195.48" stroke="#ee6060" stroke-width="0.7"/>
<line x1="153.36" y1="189.38" x2="153.02" y2="190.65" stroke="#f07878" stroke-width="0.7"/>
<circle cx="156.44" cy="179.55" r="0.42" fill="#f6bcbc"/>
<line x1="114.07" y1="204.76" x2="112.97" y2="205.79" stroke="#f6bcbc" stroke-width="0.7"/>
<circle cx="177.13" cy="182.55" r="0.55" fill="#e84848"/>
<line x1="181.92" y1="191.24" x2="182.89" y2="190.22" stroke="#ee6060" stroke-width="0.7"/>
<line x1="115.34" y1="201.45" x2="116.48" y2="200.73" stroke="#f49090" stroke-width="0.7"/>
<line x1="158.07" y1="202.55" x2="159.29" y2="203.00" stroke="#e84848" stroke-width="0.7"/>
<circle cx="173.95" cy="202.03" r="0.69" fill="#f6bcbc"/>
<line x1="130.21" y1="204.48" x2="130.92" y2="205.50" stroke="#ee6060" stroke-width="0.7"/>
<line x1="76.41" y1="180.59" x2="76.21" y2="181.79" stroke="#f6bcbc" stroke-width="0.7"/>
<circle cx="130.48" cy="190.55" r="0.64" fill="#f07878"/>
<line x1="174.16" y1="181.46" x2="174.34" y2="183.07" stroke="#f49090" stroke-width="0.7"/>
<circle cx="99.00" cy="181.75" r="0.62" fill="#f49090"/>
<circle cx="85.30" cy="190.37" r="0.48" fill="#ee6060"/>
<line x1="166.90" y1="204.25" x2="168.56" y2="204.27" stroke="#f07878" stroke-width="0.7"/>
<circle cx="170.28" cy="203.43" r="0.44" fill="#ee6060"/>
<line x1="124.52" y1="195.66" x2="124.63" y2="194.62" stroke="#ee6060" stroke-width="0.7"/>
<line x1="95.27" y1="181.34" x2="94.25" y2="181.77" stroke="#f4a8a8" stroke-width="0.7"/>
<line x1="144.12" y1="189.87" x2="143.60" y2="191.06" stroke="#f49090" stroke-width="0.7"/>
<circle cx="93.56" cy="190.89" r="0.58" fill="#f4a8a8"/>
<line x1="125.98" y1="184.81" x2="125.19" y2="184.30" stroke="#ee6060" stroke-width="0.7"/>
<line x1="91.95" y1="178.70" x2="92.76" y2="179.08" stroke="#f6bcbc" stroke-width="0.7"/>
<circle cx="155.21" cy="186.57" r="0.52" fill="#f6bcbc"/>
<line x1="90.06" y1="202.43" x2="91.59" y2="202.84" stroke="#ee6060" stroke-width="0.7"/>
<circle cx="126.40" cy="191.77" r="0.52" fill="#f6bcbc"/>
<circle cx="121.45" cy="185.45" r="0.62" fill="#ee6060"/>
<line x1="73.44" y1="197.09" x2="74.39" y2="195.82" stroke="#f6bcbc" stroke-width="0.7"/>
<circle cx="139.08" cy="196.82" r="0.45" fill="#e84848"/>
<line x1="134.81" y1="196.03" x2="136.09" y2="195.07" stroke="#e84848" stroke-width="0.7"/>
<line x1="76.00" y1="186.20" x2="75.79" y2="187.50" stroke="#f4a8a8" stroke-width="0.7"/>
<circle cx="75.22" cy="192.97" r="0.54" fill="#e84848"/>
<line x1="110.25" y1="188.11" x2="110.76" y2="187.47" stroke="#ee6060" stroke-width="0.7"/>
<line x1="162.60" y1="178.52" x2="162.42" y2="179.63" stroke="#f6bcbc" stroke-width="0.7"/>
<line x1="165.00" y1="181.31" x2="165.90" y2="181.77" stroke="#f6bcbc" stroke-width="0.7"/>
<line x1="155.51" y1="180.72" x2="156.51" y2="181.09" stroke="#e84848" stroke-width="0.7"/>
<circle cx="155.14" cy="198.10" r="0.57" fill="#f07878"/>
<line x1="176.26" y1="179.19" x2="176.80" y2="180.64" stroke="#f49090" stroke-width="0.7"/>
<circle cx="169.16" cy="188.07" r="0.61" fill="#f07878"/>
<line x1="93.10" y1="180.29" x2="93.97" y2="180.61" stroke="#e84848" stroke-width="0.7"/>
<line x1="75.44" y1="197.75" x2="74.56" y2="197.96" stroke="#f6bcbc" stroke-width="0.7"/>
<line x1="95.11" y1="187.24" x2="96.34" y2="187.08" stroke="#f49090" stroke-width="0.7"/>
<line x1="116.78" y1="184.10" x2="118.24" y2="184.33" stroke="#f49090" stroke-width="0.7"/>
<circle cx="173.82" cy="181.47" r="0.59" fill="#f49090"/>
<circle cx="146.39" cy="189.87" r="0.41" fill="#ee6060"/>
<line x1="122.23" y1="200.23" x2="121.47" y2="200.54" stroke="#ee6060" stroke-width="0.7"/>
<circle cx="143.93" cy="196.31" r="0.66" fill="#ee6060"/>
<line x1="175.46" y1="193.32" x2="175.10" y2="192.44" stroke="#f49090" stroke-width="0.7"/>
<line x1="145.37" y1="191.51" x2="146.96" y2="191.57" stroke="#f6bcbc" stroke-width="0.7"/>
<line x1="119.38" y1="196.58" x2="118.79" y2="195.61" stroke="#ee6060" stroke-width="0.7"/>
<line x1="126.71" y1="193.90" x2="127.49" y2="193.29" stroke="#ee6060" stroke-width="0.7"/>
<circle cx="184.27" cy="182.83" r="0.65" fill="#f6bcbc"/>
<circle cx="183.97" cy="197.14" r="0.57" fill="#e84848"/>
<circle cx="162.72" cy="186.60" r="0.55" fill="#ee6060"/>
<line x1="103.81" y1="204.19" x2="104.21" y2="203.44" stroke="#f07878" stroke-width="0.7"/>
<circle cx="120.95" cy="178.98" r="0.58" fill="#f4a8a8"/>
<line x1="120.86" y1="204.50" x2="121.64" y2="205.38" stroke="#f07878" stroke-width="0.7"/>
<line x1="171.17" y1="194.68" x2="171.01" y2="193.64" stroke="#f4a8a8" stroke-width="0.7"/>
<line x1="154.80" y1="195.96" x2="155.35" y2="195.01" stroke="#f07878" stroke-width="0.7"/>
<line x1="80.28" y1="184.24" x2="78.99" y2="184.18" stroke="#e84848" stroke-width="0.7"/>
<circle cx="132.03" cy="199.57" r="0.63" fill="#f6bcbc"/>
<circle cx="124.10" cy="202.41" r="0.61" fill="#f4a8a8"/>
<circle cx="180.33" cy="177.89" r="0.49" fill="#f49090"/>
<circle cx="140.42" cy="202.45" r="0.44" fill="#f6bcbc"/>
<line x1="144.33" y1="187.80" x2="143.08" y2="187.75" stroke="#f49090" stroke-width="0.7"/>
<line x1="75.86" y1="178.95" x2="74.51" y2="177.96" stroke="#f07878" stroke-width="0.7"/>
<line x1="82.02" y1="185.23" x2="83.07" y2="186.45" stroke="#ee6060" stroke-width="0.7"/>
<line x1="86.45" y1="182.08" x2="87.33" y2="183.54" stroke="#ee6060" stroke-width="0.7"/>
<line x1="97.99" y1="202.23" x2="98.86" y2="201.69" stroke="#f49090" stroke-width="0.7"/>
<circle cx="174.52" cy="194.89" r="0.56" fill="#f07878"/>
<line x1="168.74" y1="189.81" x2="167.65" y2="190.02" stroke="#f07878" stroke-width="0.7"/>
<line x1="79.77" y1="188.01" x2="80.55" y2="186.43" stroke="#f6bcbc" stroke-width="0.7"/>
<line x1="176.40" y1="181.31" x2="175.70" y2="182.85" stroke="#f6bcbc" stroke-width="0.7"/>
<line x1="175.47" y1="203.47" x2="175.34" y2="204.63" stroke="#f4a8a8" stroke-width="0.7"/>
<line x1="135.05" y1="199.36" x2="134.56" y2="200.10" stroke="#ee6060" stroke-width="0.7"/>
<line x1="115.53" y1="179.87" x2="115.30" y2="180.97" stroke="#f49090" stroke-width="0.7"/>
<line x1="137.71" y1="181.85" x2="136.01" y2="182.30" stroke="#f07878" stroke-width="0.7"/>
<circle cx="123.99" cy="187.58" r="0.54" fill="#f6bcbc"/>
<circle cx="177.11" cy="182.43" r="0.51" fill="#f6bcbc"/>
<line x1="140.74" y1="185.51" x2="141.59" y2="185.36" stroke="#f6bcbc" stroke-width="0.7"/>
<line x1="74.10" y1="193.09" x2="73.29" y2="191.77" stroke="#f49090" stroke-width="0.7"/>
<circle cx="99.57" cy="179.81" r="0.70" fill="#e84848"/>
<line x1="148.96" y1="197.90" x2="149.84" y2="197.76" stroke="#f07878" stroke-width="0.7"/>
<line x1="104.41" y1="203.36" x2="102.95" y2="204.22" stroke="#f6bcbc" stroke-width="0.7"/>
<line x1="139.02" y1="201.23" x2="140.73" y2="201.10" stroke="#f07878" stroke-width="0.7"/>
<line x1="98.11" y1="182.82" x2="99.07" y2="181.92" stroke="#f07878" stroke-width="0.7"/>
<circle cx="109.23" cy="205.49" r="0.41" fill="#f4a8a8"/>
<line x1="139.81" y1="197.43" x2="139.79" y2="196.36" stroke="#f4a8a8" stroke-width="0.7"/>
<line x1="89.57" y1="187.43" x2="90.41" y2="187.57" stroke="#f6bcbc" stroke-width="0.7"/>
<line x1="120.89" y1="192.44" x2="120.68" y2="191.10" stroke="#f4a8a8" stroke-width="0.7"/>
<line x1="113.21" y1="203.50" x2="113.70" y2="204.31" stroke="#e84848" stroke-width="0.7"/>
<line x1="85.36" y1="200.41" x2="83.99" y2="200.38" stroke="#f07878" stroke-width="0.7"/>
<circle cx="135.77" cy="188.88" r="0.62" fill="#ee6060"/>
<line x1="99.45" y1="180.71" x2="99.92" y2="179.78" stroke="#f07878" stroke-width="0.7"/>
<line x1="83.37" y1="190.82" x2="82.54" y2="190.95" stroke="#f4a8a8" stroke-width="0.7"/>
<line x1="182.26" y1="206.28" x2="180.54" y2="206.24" stroke="#f07878" stroke-width="0.7"/>
<line x1="140.65" y1="181.93" x2="140.89" y2="180.39" stroke="#f07878" stroke-width="0.7"/>
<line x1="110.95" y1="178.87" x2="111.17" y2="177.64" stroke="#e84848" stroke-width="0.7"/>
<line x1="149.85" y1="181.66" x2="151.12" y2="180.85" stroke="#f4a8a8" stroke-width="0.7"/>
<line x1="121.03" y1="181.48" x2="122.56" y2="181.38" stroke="#f07878" stroke-width="0.7"/>
<line x1="156.13" y1="201.06" x2="156.95" y2="201.27" stroke="#f07878" stroke-width="0.7"/>
<line x1="131.34" y1="198.94" x2="132.07" y2="200.22" stroke="#f49090" stroke-width="0.7"/>
<line x1="121.53" y1="196.34" x2="120.06" y2="196.65" stroke="#f07878" stroke-width="0.7"/>
<line x1="147.13" y1="179.53" x2="146.44" y2="177.87" stroke="#f4a8a8" stroke-width="0.7"/>
<line x1="110.52" y1="184.49" x2="111.70" y2="184.77" stroke="#f6bcbc" stroke-width="0.7"/>
<line x1="167.59" y1="178.57" x2="165.87" y2="178.10" stroke="#f07878" stroke-width="0.7"/>
<circle cx="176.03" cy="179.50" r="0.48" fill="#ee6060"/>
<circle cx="84.11" cy="204.25" r="0.49" fill="#ee6060"/>
<line x1="177.60" y1="200.94" x2="178.72" y2="201.44" stroke="#f4a8a8" stroke-width="0.7"/>
<line x1="146.92" y1="177.25" x2="147.75" y2="177.13" stroke="#f49090" stroke-width="0.7"/>
<circle cx="153.11" cy="200.53" r="0.47" fill="#f07878"/>
<line x1="97.75" y1="204.95" x2="97.36" y2="203.85" stroke="#e84848" stroke-width="0.7"/>
<line x1="152.77" y1="184.81" x2="153.66" y2="184.83" stroke="#f4a8a8" stroke-width="0.7"/>
<circle cx="154.32" cy="202.44" r="0.60" fill="#f6bcbc"/>
<line x1="102.20" y1="180.01" x2="102.37" y2="180.95" stroke="#f4a8a8" stroke-width="0.7"/>
<circle cx="170.90" cy="179.03" r="0.50" fill="#e84848"/>
<line x1="174.80" y1="200.08" x2="176.32" y2="199.63" stroke="#ee6060" stroke-width="0.7"/>
<line x1="167.01" y1="192.50" x2="165.88" y2="192.62" stroke="#e84848" stroke-width="0.7"/>
<circle cx="114.85" cy="191.81" r="0.59" fill="#ee6060"/>
<line x1="146.87" y1="180.36" x2="146.36" y2="179.52" stroke="#f07878" stroke-width="0.7"/>
<circle cx="132.56" cy="184.77" r="0.63" fill="#f6bcbc"/>
<line x1="130.95" y1="183.97" x2="129.90" y2="183.67" stroke="#ee6060" stroke-width="0.7"/>
<line x1="165.96" y1="177.46" x2="165.84" y2="176.45" stroke="#e84848" stroke-width="0.7"/>
<line x1="123.63" y1="187.24" x2="124.62" y2="187.84" stroke="#e84848" stroke-width="0.7"/>
<circle cx="146.27" cy="201.28" r="0.60" fill="#f4a8a8"/>
<line x1="144.15" y1="197.30" x2="143.49" y2="198.32" stroke="#e84848" stroke-width="0.7"/>
<circle cx="122.00" cy="194.75" r="0.49" fill="#f6bcbc"/>
<line x1="85.59" y1="199.71" x2="86.31" y2="201.33" stroke="#3a3ab0" stroke-width="1.0"/>
<line x1="85.82" y1="188.46" x2="84.37" y2="191.03" stroke="#1a22c8" stroke-width="1.0"/>
<line x1="116.86" y1="192.37" x2="117.36" y2="190.06" stroke="#2a2ad0" stroke-width="1.0"/>
<line x1="179.35" y1="195.41" x2="182.52" y2="195.31" stroke="#1a22c8" stroke-width="1.0"/>
<line x1="115.64" y1="193.55" x2="117.77" y2="193.70" stroke="#e02828" stroke-width="1.0"/>
<line x1="113.18" y1="192.13" x2="112.79" y2="190.32" stroke="#5a4aa8" stroke-width="1.0"/>
<line x1="146.27" y1="190.44" x2="148.47" y2="192.01" stroke="#181890" stroke-width="1.0"/>
<line x1="90.92" y1="192.52" x2="92.18" y2="191.37" stroke="#5a4aa8" stroke-width="1.0"/>
<line x1="102.55" y1="190.85" x2="104.47" y2="192.08" stroke="#181890" stroke-width="1.0"/>
<line x1="84.68" y1="195.31" x2="85.99" y2="194.53" stroke="#181890" stroke-width="1.0"/>
<line x1="80.38" y1="194.40" x2="79.12" y2="192.57" stroke="#e02828" stroke-width="1.0"/>
<line x1="142.09" y1="196.17" x2="139.68" y2="195.87" stroke="#3a3ab0" stroke-width="1.0"/>
<line x1="99.18" y1="192.50" x2="97.69" y2="192.80" stroke="#d82020" stroke-width="1.0"/>
<line x1="128.26" y1="196.08" x2="128.77" y2="193.19" stroke="#e04040" stroke-width="1.0"/>
<line x1="126.12" y1="198.46" x2="128.89" y2="198.09" stroke="#c81818" stroke-width="1.0"/>
<line x1="98.73" y1="190.34" x2="100.22" y2="189.33" stroke="#1a22c8" stroke-width="1.0"/>
<line x1="114.75" y1="193.44" x2="116.57" y2="192.43" stroke="#e02828" stroke-width="1.0"/>
<line x1="160.76" y1="194.95" x2="158.63" y2="195.03" stroke="#e04040" stroke-width="1.0"/>
<line x1="100.29" y1="194.71" x2="101.75" y2="192.65" stroke="#e04040" stroke-width="1.0"/>
<line x1="140.40" y1="197.02" x2="138.40" y2="195.19" stroke="#2a2ad0" stroke-width="1.0"/>
<line x1="108.83" y1="188.12" x2="107.87" y2="189.93" stroke="#2a2ad0" stroke-width="1.0"/>
<line x1="112.81" y1="192.10" x2="114.32" y2="190.98" stroke="#1a22c8" stroke-width="1.0"/>
<line x1="94.21" y1="191.48" x2="92.14" y2="191.06" stroke="#3a3ab0" stroke-width="1.0"/>
<line x1="103.04" y1="196.05" x2="104.60" y2="198.68" stroke="#1a22c8" stroke-width="1.0"/>
<line x1="109.15" y1="186.99" x2="106.85" y2="187.03" stroke="#181890" stroke-width="1.0"/>
<line x1="140.93" y1="195.71" x2="140.26" y2="193.89" stroke="#e04040" stroke-width="1.0"/>
<line x1="88.35" y1="186.09" x2="86.73" y2="183.59" stroke="#3a3ab0" stroke-width="1.0"/>
<line x1="129.83" y1="190.38" x2="129.65" y2="188.70" stroke="#3a3ab0" stroke-width="1.0"/>
<line x1="105.89" y1="193.60" x2="108.69" y2="193.13" stroke="#5a4aa8" stroke-width="1.0"/>
<line x1="176.27" y1="195.01" x2="177.46" y2="192.86" stroke="#e02828" stroke-width="1.0"/>
<line x1="114.75" y1="194.28" x2="115.89" y2="191.93" stroke="#2a2ad0" stroke-width="1.0"/>
<line x1="81.87" y1="190.95" x2="84.75" y2="189.67" stroke="#2020b8" stroke-width="1.0"/>
<line x1="107.61" y1="190.32" x2="110.19" y2="188.58" stroke="#1a22c8" stroke-width="1.0"/>
<line x1="74.53" y1="189.88" x2="77.01" y2="191.39" stroke="#c81818" stroke-width="1.0"/>
<line x1="137.81" y1="193.59" x2="136.80" y2="195.96" stroke="#5a4aa8" stroke-width="1.0"/>
<line x1="80.45" y1="193.85" x2="81.75" y2="193.02" stroke="#2a2ad0" stroke-width="1.0"/>
<line x1="79.42" y1="193.82" x2="78.87" y2="196.83" stroke="#2a2ad0" stroke-width="1.0"/>
<line x1="178.90" y1="199.59" x2="176.39" y2="197.69" stroke="#e04040" stroke-width="1.0"/>
<line x1="181.90" y1="191.54" x2="181.44" y2="193.51" stroke="#e04040" stroke-width="1.0"/>
<line x1="119.71" y1="187.24" x2="121.38" y2="189.35" stroke="#c81818" stroke-width="1.0"/>
<line x1="120.65" y1="187.95" x2="121.68" y2="190.90" stroke="#3a3ab0" stroke-width="1.0"/>
<line x1="106.64" y1="185.28" x2="106.68" y2="187.96" stroke="#d82020" stroke-width="1.0"/>
<line x1="77.75" y1="193.78" x2="79.79" y2="193.17" stroke="#e04040" stroke-width="1.0"/>
<line x1="111.08" y1="191.49" x2="111.15" y2="188.73" stroke="#e02828" stroke-width="1.0"/>
<line x1="120.56" y1="194.45" x2="120.27" y2="191.85" stroke="#d82020" stroke-width="1.0"/>
<line x1="88.03" y1="191.21" x2="90.04" y2="190.08" stroke="#e04040" stroke-width="1.0"/>
<line x1="100.14" y1="189.37" x2="99.78" y2="187.30" stroke="#2a2ad0" stroke-width="1.0"/>
<line x1="105.79" y1="196.13" x2="103.67" y2="196.36" stroke="#5a4aa8" stroke-width="1.0"/>
<line x1="176.41" y1="194.97" x2="179.27" y2="195.00" stroke="#3a3ab0" stroke-width="1.0"/>
<line x1="168.76" y1="187.84" x2="166.70" y2="186.32" stroke="#2020b8" stroke-width="1.0"/>
<line x1="158.56" y1="188.80" x2="160.41" y2="186.64" stroke="#d82020" stroke-width="1.0"/>
<line x1="166.05" y1="192.79" x2="165.54" y2="190.60" stroke="#2a2ad0" stroke-width="1.0"/>
<line x1="85.81" y1="193.57" x2="86.92" y2="195.08" stroke="#d82020" stroke-width="1.0"/>
<line x1="119.01" y1="192.99" x2="118.50" y2="190.11" stroke="#2020b8" stroke-width="1.0"/>
<line x1="124.48" y1="190.38" x2="123.07" y2="188.54" stroke="#2a2ad0" stroke-width="1.0"/>
<line x1="87.23" y1="190.68" x2="84.40" y2="191.71" stroke="#5a4aa8" stroke-width="1.0"/>
<line x1="79.46" y1="190.95" x2="79.85" y2="188.97" stroke="#5a4aa8" stroke-width="1.0"/>
<line x1="102.23" y1="190.75" x2="101.27" y2="192.12" stroke="#2a2ad0" stroke-width="1.0"/>
<line x1="151.87" y1="193.86" x2="151.83" y2="196.74" stroke="#2a2ad0" stroke-width="1.0"/>
<line x1="82.54" y1="185.84" x2="84.36" y2="186.44" stroke="#2a2ad0" stroke-width="1.0"/>
<line x1="106.91" y1="192.90" x2="104.99" y2="193.03" stroke="#3a3ab0" stroke-width="1.0"/>
<line x1="175.48" y1="192.26" x2="176.13" y2="189.61" stroke="#2a2ad0" stroke-width="1.0"/>
<line x1="165.79" y1="191.92" x2="164.98" y2="193.40" stroke="#c81818" stroke-width="1.0"/>
<line x1="169.22" y1="191.84" x2="168.02" y2="193.48" stroke="#d82020" stroke-width="1.0"/>
<line x1="115.82" y1="188.18" x2="116.19" y2="190.36" stroke="#5a4aa8" stroke-width="1.0"/>
<line x1="160.31" y1="191.23" x2="157.72" y2="192.31" stroke="#c81818" stroke-width="1.0"/>
<line x1="109.18" y1="194.53" x2="110.88" y2="193.15" stroke="#1a22c8" stroke-width="1.0"/>
<line x1="140.23" y1="199.47" x2="142.84" y2="197.63" stroke="#e04040" stroke-width="1.0"/>
<line x1="180.92" y1="194.90" x2="182.72" y2="193.58" stroke="#1a22c8" stroke-width="1.0"/>
<line x1="76.86" y1="195.31" x2="77.86" y2="196.84" stroke="#2020b8" stroke-width="1.0"/>
<line x1="172.88" y1="196.45" x2="172.63" y2="194.62" stroke="#d82020" stroke-width="1.0"/>
<line x1="153.72" y1="191.54" x2="151.71" y2="193.39" stroke="#e04040" stroke-width="1.0"/>
<line x1="141.89" y1="192.73" x2="143.45" y2="193.22" stroke="#1a22c8" stroke-width="1.0"/>
<line x1="163.18" y1="197.14" x2="162.51" y2="195.50" stroke="#2a2ad0" stroke-width="1.0"/>
<line x1="147.56" y1="183.03" x2="146.70" y2="185.72" stroke="#e02828" stroke-width="1.0"/>
<line x1="160.00" y1="194.49" x2="157.79" y2="194.47" stroke="#2a2ad0" stroke-width="1.0"/>
<line x1="78.68" y1="191.10" x2="80.79" y2="190.66" stroke="#d82020" stroke-width="1.0"/>
<line x1="181.96" y1="200.11" x2="180.83" y2="202.45" stroke="#d82020" stroke-width="1.0"/>
<line x1="113.08" y1="191.00" x2="114.34" y2="188.84" stroke="#c81818" stroke-width="1.0"/>
<line x1="109.31" y1="189.92" x2="106.71" y2="190.94" stroke="#3a3ab0" stroke-width="1.0"/>
<line x1="115.72" y1="194.77" x2="112.96" y2="196.17" stroke="#181890" stroke-width="1.0"/>
<line x1="78.05" y1="190.22" x2="80.25" y2="190.70" stroke="#3a3ab0" stroke-width="1.0"/>
<line x1="173.41" y1="188.82" x2="176.24" y2="190.01" stroke="#2a2ad0" stroke-width="1.0"/>
<line x1="116.88" y1="196.46" x2="119.01" y2="196.72" stroke="#2020b8" stroke-width="1.0"/>
<line x1="164.80" y1="191.60" x2="165.89" y2="193.13" stroke="#2a2ad0" stroke-width="1.0"/>
<line x1="178.10" y1="192.67" x2="176.38" y2="192.48" stroke="#d82020" stroke-width="1.0"/>
<line x1="127.24" y1="193.95" x2="128.09" y2="192.61" stroke="#2a2ad0" stroke-width="1.0"/>
<line x1="142.40" y1="190.35" x2="139.97" y2="188.64" stroke="#2a2ad0" stroke-width="1.0"/>
<line x1="126.48" y1="193.49" x2="124.16" y2="192.06" stroke="#3a3ab0" stroke-width="1.0"/>
<line x1="146.31" y1="191.54" x2="144.48" y2="192.30" stroke="#5a4aa8" stroke-width="1.0"/>
<line x1="111.03" y1="194.02" x2="110.00" y2="192.74" stroke="#e04040" stroke-width="1.0"/>
<line x1="124.71" y1="194.17" x2="123.52" y2="196.83" stroke="#3a3ab0" stroke-width="1.0"/>
<line x1="156.51" y1="193.82" x2="158.54" y2="192.60" stroke="#5a4aa8" stroke-width="1.0"/>
<line x1="153.55" y1="185.23" x2="155.36" y2="184.55" stroke="#5a4aa8" stroke-width="1.0"/>
<line x1="170.62" y1="202.45" x2="168.89" y2="200.15" stroke="#e04040" stroke-width="1.0"/>
<line x1="85.94" y1="194.65" x2="86.81" y2="196.39" stroke="#5a4aa8" stroke-width="1.0"/>
<line x1="182.08" y1="194.95" x2="181.70" y2="193.33" stroke="#2a2ad0" stroke-width="1.0"/>
<line x1="83.73" y1="192.23" x2="83.13" y2="190.78" stroke="#181890" stroke-width="1.0"/>
<line x1="115.33" y1="193.69" x2="113.44" y2="195.60" stroke="#3a3ab0" stroke-width="1.0"/>
<line x1="116.66" y1="188.70" x2="114.94" y2="190.02" stroke="#2020b8" stroke-width="1.0"/>
<line x1="140.27" y1="181.32" x2="137.41" y2="181.95" stroke="#181890" stroke-width="1.0"/>
<line x1="149.16" y1="186.28" x2="151.86" y2="185.18" stroke="#3a3ab0" stroke-width="1.0"/>
<line x1="181.48" y1="187.86" x2="180.66" y2="189.82" stroke="#2020b8" stroke-width="1.0"/>
<line x1="172.34" y1="190.91" x2="174.90" y2="192.51" stroke="#e04040" stroke-width="1.0"/>
<line x1="89.47" y1="192.39" x2="87.74" y2="192.12" stroke="#e04040" stroke-width="1.0"/>
<line x1="108.45" y1="190.72" x2="110.40" y2="190.35" stroke="#2a2ad0" stroke-width="1.0"/>
<line x1="110.01" y1="198.62" x2="111.79" y2="198.03" stroke="#c81818" stroke-width="1.0"/>
<line x1="178.38" y1="191.52" x2="178.65" y2="193.43" stroke="#1a22c8" stroke-width="1.0"/>
<line x1="148.05" y1="194.54" x2="146.00" y2="193.38" stroke="#181890" stroke-width="1.0"/>
<line x1="124.26" y1="200.01" x2="122.05" y2="202.30" stroke="#2a2ad0" stroke-width="1.0"/>
<line x1="166.28" y1="190.94" x2="165.58" y2="188.15" stroke="#c81818" stroke-width="1.0"/>
<line x1="140.64" y1="194.15" x2="142.45" y2="192.75" stroke="#e02828" stroke-width="1.0"/>
<line x1="120.56" y1="192.71" x2="123.38" y2="192.42" stroke="#e02828" stroke-width="1.0"/>
<line x1="138.67" y1="192.38" x2="138.02" y2="194.95" stroke="#1a22c8" stroke-width="1.0"/>
<line x1="174.21" y1="191.48" x2="176.09" y2="191.94" stroke="#3a3ab0" stroke-width="1.0"/>
<line x1="148.73" y1="194.96" x2="146.49" y2="194.62" stroke="#c81818" stroke-width="1.0"/>
<line x1="155.41" y1="188.49" x2="154.74" y2="186.82" stroke="#2a2ad0" stroke-width="1.0"/>
<line x1="99.04" y1="186.54" x2="98.54" y2="184.75" stroke="#181890" stroke-width="1.0"/>
<line x1="125.69" y1="189.65" x2="124.32" y2="192.02" stroke="#c81818" stroke-width="1.0"/>
<line x1="174.81" y1="193.31" x2="175.43" y2="191.84" stroke="#c81818" stroke-width="1.0"/>
<line x1="84.00" y1="191.84" x2="86.06" y2="189.99" stroke="#e04040" stroke-width="1.0"/>
<line x1="74.52" y1="194.82" x2="74.99" y2="192.36" stroke="#181890" stroke-width="1.0"/>
<line x1="110.28" y1="195.11" x2="108.23" y2="196.70" stroke="#e04040" stroke-width="1.0"/>
<line x1="74.16" y1="195.54" x2="76.00" y2="195.50" stroke="#e02828" stroke-width="1.0"/>
<line x1="86.65" y1="192.56" x2="88.44" y2="190.21" stroke="#c81818" stroke-width="1.0"/>
<line x1="153.02" y1="191.64" x2="154.77" y2="192.89" stroke="#e02828" stroke-width="1.0"/>
<line x1="83.98" y1="190.31" x2="81.34" y2="192.00" stroke="#c81818" stroke-width="1.0"/>
<line x1="135.28" y1="191.24" x2="137.42" y2="192.75" stroke="#c81818" stroke-width="1.0"/>
<line x1="152.46" y1="193.12" x2="155.17" y2="193.54" stroke="#c81818" stroke-width="1.0"/>
<line x1="176.35" y1="185.14" x2="175.51" y2="187.52" stroke="#d82020" stroke-width="1.0"/>
<line x1="143.41" y1="188.71" x2="145.72" y2="188.75" stroke="#181890" stroke-width="1.0"/>
<line x1="107.92" y1="190.00" x2="107.13" y2="192.68" stroke="#5a4aa8" stroke-width="1.0"/>
<line x1="74.10" y1="195.10" x2="76.32" y2="194.02" stroke="#5a4aa8" stroke-width="1.0"/>
<line x1="166.89" y1="191.46" x2="164.53" y2="192.07" stroke="#5a4aa8" stroke-width="1.0"/>
<line x1="86.81" y1="188.87" x2="85.21" y2="187.07" stroke="#3a3ab0" stroke-width="1.0"/>
<line x1="153.90" y1="191.75" x2="155.04" y2="190.63" stroke="#181890" stroke-width="1.0"/>
<line x1="79.72" y1="190.44" x2="79.50" y2="193.18" stroke="#181890" stroke-width="1.0"/>
<line x1="156.14" y1="187.61" x2="154.52" y2="186.35" stroke="#5a4aa8" stroke-width="1.0"/>
<line x1="99.23" y1="189.88" x2="101.06" y2="189.31" stroke="#e04040" stroke-width="1.0"/>
<line x1="176.68" y1="193.50" x2="177.28" y2="191.80" stroke="#e04040" stroke-width="1.0"/>
<line x1="164.52" y1="194.58" x2="161.71" y2="194.08" stroke="#1a22c8" stroke-width="1.0"/>
<line x1="180.07" y1="188.57" x2="182.01" y2="189.49" stroke="#3a3ab0" stroke-width="1.0"/>
<line x1="135.58" y1="187.36" x2="137.64" y2="189.34" stroke="#e04040" stroke-width="1.0"/>
<line x1="171.44" y1="196.29" x2="172.25" y2="194.60" stroke="#2020b8" stroke-width="1.0"/>
<line x1="161.88" y1="198.16" x2="164.76" y2="199.18" stroke="#3a3ab0" stroke-width="1.0"/>
<line x1="85.41" y1="190.25" x2="83.20" y2="191.16" stroke="#e02828" stroke-width="1.0"/>
<line x1="177.53" y1="193.03" x2="176.94" y2="190.95" stroke="#2020b8" stroke-width="1.0"/>
<line x1="172.90" y1="188.28" x2="173.77" y2="185.91" stroke="#2020b8" stroke-width="1.0"/>
<line x1="87.26" y1="189.40" x2="88.81" y2="191.59" stroke="#1a22c8" stroke-width="1.0"/>
<line x1="151.87" y1="189.92" x2="151.35" y2="191.33" stroke="#e02828" stroke-width="1.0"/>
<line x1="82.21" y1="184.10" x2="80.96" y2="181.51" stroke="#e04040" stroke-width="1.0"/>
<line x1="88.82" y1="192.01" x2="87.35" y2="193.06" stroke="#181890" stroke-width="1.0"/>
<line x1="83.39" y1="191.34" x2="85.22" y2="190.16" stroke="#2020b8" stroke-width="1.0"/>
<line x1="97.80" y1="191.81" x2="100.21" y2="190.92" stroke="#2a2ad0" stroke-width="1.0"/>
<line x1="74.51" y1="192.83" x2="72.60" y2="191.66" stroke="#e02828" stroke-width="1.0"/>
<line x1="161.14" y1="192.40" x2="162.90" y2="189.98" stroke="#2a2ad0" stroke-width="1.0"/>
<line x1="103.32" y1="192.84" x2="104.99" y2="194.35" stroke="#c81818" stroke-width="1.0"/>
<line x1="110.85" y1="197.73" x2="111.42" y2="195.79" stroke="#5a4aa8" stroke-width="1.0"/>
<line x1="182.28" y1="192.39" x2="184.36" y2="193.25" stroke="#d82020" stroke-width="1.0"/>
<line x1="101.94" y1="191.61" x2="102.25" y2="194.29" stroke="#2020b8" stroke-width="1.0"/>
<line x1="123.66" y1="195.65" x2="121.52" y2="195.91" stroke="#e02828" stroke-width="1.0"/>
<line x1="115.38" y1="188.23" x2="115.11" y2="186.61" stroke="#d82020" stroke-width="1.0"/>
<line x1="152.39" y1="194.32" x2="153.81" y2="195.80" stroke="#c81818" stroke-width="1.0"/>
<line x1="116.21" y1="187.74" x2="118.28" y2="186.71" stroke="#5a4aa8" stroke-width="1.0"/>
<line x1="92.66" y1="193.74" x2="91.14" y2="193.74" stroke="#1a22c8" stroke-width="1.0"/>
<line x1="112.28" y1="186.51" x2="110.24" y2="188.58" stroke="#181890" stroke-width="1.0"/>
<line x1="119.50" y1="187.79" x2="117.94" y2="188.76" stroke="#2a2ad0" stroke-width="1.0"/>
<line x1="103.28" y1="193.91" x2="100.61" y2="192.52" stroke="#c81818" stroke-width="1.0"/>
<line x1="144.99" y1="192.83" x2="145.30" y2="194.83" stroke="#2a2ad0" stroke-width="1.0"/>
<line x1="141.64" y1="185.92" x2="144.05" y2="184.90" stroke="#5a4aa8" stroke-width="1.0"/>
<line x1="116.92" y1="189.69" x2="115.27" y2="188.00" stroke="#d82020" stroke-width="1.0"/>
<line x1="112.24" y1="194.37" x2="109.99" y2="194.46" stroke="#c81818" stroke-width="1.0"/>
<line x1="134.33" y1="191.16" x2="134.95" y2="189.69" stroke="#3a3ab0" stroke-width="1.0"/>
<line x1="168.75" y1="192.59" x2="166.74" y2="192.61" stroke="#e04040" stroke-width="1.0"/>
<line x1="117.97" y1="191.30" x2="120.38" y2="192.36" stroke="#2a2ad0" stroke-width="1.0"/>
<line x1="122.92" y1="194.81" x2="122.88" y2="192.70" stroke="#2020b8" stroke-width="1.0"/>
<line x1="135.19" y1="194.61" x2="136.35" y2="195.76" stroke="#e02828" stroke-width="1.0"/>
<line x1="80.45" y1="188.93" x2="80.14" y2="186.82" stroke="#181890" stroke-width="1.0"/>
<line x1="108.19" y1="193.42" x2="109.10" y2="191.34" stroke="#e02828" stroke-width="1.0"/>
<line x1="168.03" y1="187.34" x2="166.80" y2="185.55" stroke="#e04040" stroke-width="1.0"/>
<line x1="87.78" y1="199.79" x2="86.65" y2="197.67" stroke="#2a2ad0" stroke-width="1.0"/>
<line x1="135.75" y1="193.56" x2="136.59" y2="192.29" stroke="#c81818" stroke-width="1.0"/>
<line x1="163.78" y1="187.26" x2="163.39" y2="185.29" stroke="#181890" stroke-width="1.0"/>
<line x1="140.48" y1="188.83" x2="140.13" y2="186.77" stroke="#c81818" stroke-width="1.0"/>
<line x1="136.90" y1="195.51" x2="138.34" y2="194.72" stroke="#1a22c8" stroke-width="1.0"/>
<line x1="142.55" y1="190.93" x2="140.48" y2="190.33" stroke="#e02828" stroke-width="1.0"/>
<line x1="129.56" y1="197.08" x2="126.91" y2="196.21" stroke="#c81818" stroke-width="1.0"/>
<line x1="112.08" y1="191.52" x2="111.93" y2="194.15" stroke="#2020b8" stroke-width="1.0"/>
<line x1="149.98" y1="185.57" x2="147.89" y2="183.51" stroke="#3a3ab0" stroke-width="1.0"/>
<line x1="134.40" y1="191.61" x2="137.06" y2="189.87" stroke="#d82020" stroke-width="1.0"/>
<line x1="116.40" y1="191.89" x2="117.97" y2="190.96" stroke="#2020b8" stroke-width="1.0"/>
<line x1="87.37" y1="192.89" x2="85.62" y2="194.68" stroke="#2a2ad0" stroke-width="1.0"/>
<line x1="106.88" y1="195.47" x2="106.51" y2="198.45" stroke="#3a3ab0" stroke-width="1.0"/>
<line x1="165.68" y1="186.41" x2="163.88" y2="185.69" stroke="#1a22c8" stroke-width="1.0"/>
<line x1="97.26" y1="194.04" x2="97.97" y2="196.16" stroke="#e02828" stroke-width="1.0"/>
<line x1="76.26" y1="186.78" x2="75.78" y2="189.10" stroke="#3a3ab0" stroke-width="1.0"/>
<line x1="91.48" y1="193.10" x2="90.33" y2="194.36" stroke="#2020b8" stroke-width="1.0"/>
<line x1="119.41" y1="195.84" x2="117.50" y2="196.51" stroke="#e04040" stroke-width="1.0"/>
<line x1="138.80" y1="186.27" x2="137.10" y2="188.81" stroke="#3a3ab0" stroke-width="1.0"/>
<line x1="140.03" y1="195.03" x2="141.67" y2="194.02" stroke="#3a3ab0" stroke-width="1.0"/>
<line x1="140.32" y1="189.25" x2="140.35" y2="191.17" stroke="#181890" stroke-width="1.0"/>
<line x1="155.24" y1="191.24" x2="154.25" y2="189.12" stroke="#c81818" stroke-width="1.0"/>
<line x1="110.59" y1="189.64" x2="109.03" y2="188.06" stroke="#c81818" stroke-width="1.0"/>
<line x1="103.78" y1="192.35" x2="105.58" y2="193.42" stroke="#c81818" stroke-width="1.0"/>
<line x1="80.46" y1="190.93" x2="82.93" y2="190.19" stroke="#e04040" stroke-width="1.0"/>
<line x1="144.56" y1="194.08" x2="143.74" y2="196.43" stroke="#e02828" stroke-width="1.0"/>
<line x1="132.31" y1="193.29" x2="132.71" y2="191.49" stroke="#e02828" stroke-width="1.0"/>
<line x1="87.47" y1="190.04" x2="88.22" y2="192.35" stroke="#2a2ad0" stroke-width="1.0"/>
<line x1="162.87" y1="186.87" x2="162.86" y2="184.35" stroke="#2a2ad0" stroke-width="1.0"/>
<line x1="114.49" y1="191.10" x2="115.06" y2="188.43" stroke="#e02828" stroke-width="1.0"/>
<line x1="110.19" y1="188.39" x2="110.20" y2="186.82" stroke="#d82020" stroke-width="1.0"/>
<line x1="167.53" y1="187.98" x2="168.30" y2="186.12" stroke="#e04040" stroke-width="1.0"/>
<line x1="181.05" y1="192.10" x2="183.66" y2="193.52" stroke="#5a4aa8" stroke-width="1.0"/>
<line x1="122.46" y1="196.42" x2="124.89" y2="197.45" stroke="#e04040" stroke-width="1.0"/>
<line x1="158.70" y1="190.69" x2="160.38" y2="192.39" stroke="#c81818" stroke-width="1.0"/>
<line x1="134.14" y1="189.75" x2="134.08" y2="192.80" stroke="#d82020" stroke-width="1.0"/>
<line x1="174.54" y1="189.88" x2="174.24" y2="192.14" stroke="#181890" stroke-width="1.0"/>
<line x1="160.28" y1="189.63" x2="162.82" y2="190.08" stroke="#5a4aa8" stroke-width="1.0"/>
<line x1="110.46" y1="194.00" x2="111.88" y2="193.50" stroke="#d82020" stroke-width="1.0"/>
<line x1="174.20" y1="195.54" x2="176.68" y2="197.44" stroke="#1a22c8" stroke-width="1.0"/>
<line x1="117.45" y1="187.88" x2="115.70" y2="187.97" stroke="#e04040" stroke-width="1.0"/>
<line x1="120.26" y1="189.84" x2="121.84" y2="188.29" stroke="#3a3ab0" stroke-width="1.0"/>
<line x1="83.24" y1="195.15" x2="81.76" y2="193.18" stroke="#e04040" stroke-width="1.0"/>
<line x1="122.63" y1="190.72" x2="122.96" y2="192.21" stroke="#e02828" stroke-width="1.0"/>
<line x1="98.38" y1="193.07" x2="97.03" y2="193.83" stroke="#c81818" stroke-width="1.0"/>
<line x1="132.27" y1="187.97" x2="133.59" y2="186.67" stroke="#d82020" stroke-width="1.0"/>
<line x1="106.97" y1="186.83" x2="108.63" y2="188.91" stroke="#c81818" stroke-width="1.0"/>
<line x1="164.23" y1="191.68" x2="162.49" y2="191.05" stroke="#e02828" stroke-width="1.0"/>
<line x1="182.68" y1="193.03" x2="184.82" y2="194.73" stroke="#e02828" stroke-width="1.0"/>
<line x1="137.62" y1="190.50" x2="136.08" y2="189.67" stroke="#1a22c8" stroke-width="1.0"/>
<line x1="149.45" y1="191.89" x2="147.50" y2="190.86" stroke="#1a22c8" stroke-width="1.0"/>
<line x1="87.51" y1="195.57" x2="89.25" y2="196.35" stroke="#e04040" stroke-width="1.0"/>
<line x1="109.44" y1="191.30" x2="109.30" y2="193.30" stroke="#5a4aa8" stroke-width="1.0"/>
<line x1="78.75" y1="192.56" x2="80.51" y2="194.10" stroke="#2020b8" stroke-width="1.0"/>
<line x1="142.67" y1="192.12" x2="141.06" y2="191.42" stroke="#1a22c8" stroke-width="1.0"/>
<line x1="156.60" y1="195.10" x2="155.89" y2="196.53" stroke="#181890" stroke-width="1.0"/>
<line x1="172.68" y1="188.35" x2="174.05" y2="185.70" stroke="#c81818" stroke-width="1.0"/>
<line x1="124.52" y1="193.06" x2="125.40" y2="190.23" stroke="#e02828" stroke-width="1.0"/>
<line x1="77.46" y1="196.43" x2="76.68" y2="193.71" stroke="#2020b8" stroke-width="1.0"/>
<line x1="74.08" y1="192.55" x2="73.72" y2="190.32" stroke="#5a4aa8" stroke-width="1.0"/>
<line x1="130.08" y1="183.97" x2="130.24" y2="182.26" stroke="#5a4aa8" stroke-width="1.0"/>
<line x1="73.85" y1="192.69" x2="76.32" y2="191.50" stroke="#2a2ad0" stroke-width="1.0"/>
<line x1="142.28" y1="194.50" x2="140.44" y2="193.59" stroke="#c81818" stroke-width="1.0"/>
<line x1="142.90" y1="189.57" x2="142.52" y2="187.55" stroke="#2a2ad0" stroke-width="1.0"/>
<line x1="112.92" y1="191.04" x2="112.91" y2="194.13" stroke="#2020b8" stroke-width="1.0"/>
<line x1="139.90" y1="191.49" x2="137.96" y2="192.15" stroke="#181890" stroke-width="1.0"/>
<line x1="94.95" y1="188.41" x2="96.83" y2="190.96" stroke="#3a3ab0" stroke-width="1.0"/>
<line x1="113.41" y1="188.87" x2="110.83" y2="189.77" stroke="#3a3ab0" stroke-width="1.0"/>
<line x1="105.90" y1="189.32" x2="103.96" y2="187.75" stroke="#c81818" stroke-width="1.0"/>
<line x1="96.62" y1="187.78" x2="97.96" y2="190.35" stroke="#3a3ab0" stroke-width="1.0"/>
<line x1="127.87" y1="184.09" x2="129.07" y2="185.85" stroke="#1a22c8" stroke-width="1.0"/>
<line x1="122.73" y1="187.29" x2="124.09" y2="190.02" stroke="#e02828" stroke-width="1.0"/>
<line x1="153.29" y1="200.45" x2="154.08" y2="198.92" stroke="#e02828" stroke-width="1.0"/>
<line x1="160.37" y1="187.91" x2="158.95" y2="186.91" stroke="#e02828" stroke-width="1.0"/>
<line x1="150.01" y1="188.93" x2="148.73" y2="186.47" stroke="#2020b8" stroke-width="1.0"/>
<line x1="84.99" y1="191.16" x2="86.54" y2="192.43" stroke="#c81818" stroke-width="1.0"/>
<line x1="100.36" y1="185.93" x2="101.64" y2="183.40" stroke="#1a22c8" stroke-width="1.0"/>
<line x1="157.66" y1="187.24" x2="156.31" y2="185.17" stroke="#1a22c8" stroke-width="1.0"/>
<line x1="81.73" y1="188.82" x2="83.99" y2="190.03" stroke="#d82020" stroke-width="1.0"/>
<line x1="100.08" y1="200.82" x2="100.12" y2="198.74" stroke="#1a22c8" stroke-width="1.0"/>
<line x1="179.15" y1="191.21" x2="180.13" y2="189.82" stroke="#e02828" stroke-width="1.0"/>
<line x1="168.90" y1="189.72" x2="170.38" y2="190.81" stroke="#5a4aa8" stroke-width="1.0"/>
<line x1="148.44" y1="188.67" x2="148.06" y2="191.18" stroke="#181890" stroke-width="1.0"/>
<line x1="172.31" y1="192.72" x2="171.24" y2="194.19" stroke="#d82020" stroke-width="1.0"/>
<line x1="115.67" y1="190.45" x2="116.98" y2="192.66" stroke="#e04040" stroke-width="1.0"/>
<line x1="135.74" y1="195.66" x2="137.68" y2="194.17" stroke="#1a22c8" stroke-width="1.0"/>
<line x1="95.33" y1="194.43" x2="97.38" y2="196.78" stroke="#d82020" stroke-width="1.0"/>
<line x1="177.52" y1="190.54" x2="176.38" y2="191.72" stroke="#e02828" stroke-width="1.0"/>
<line x1="179.56" y1="195.01" x2="179.90" y2="193.32" stroke="#3a3ab0" stroke-width="1.0"/>
<line x1="179.87" y1="187.44" x2="181.94" y2="189.12" stroke="#d82020" stroke-width="1.0"/>
<line x1="153.64" y1="195.51" x2="152.91" y2="197.08" stroke="#2020b8" stroke-width="1.0"/>
<line x1="125.16" y1="192.49" x2="123.33" y2="194.10" stroke="#e04040" stroke-width="1.0"/>
<line x1="92.00" y1="194.87" x2="93.75" y2="195.95" stroke="#c81818" stroke-width="1.0"/>
<line x1="175.29" y1="190.03" x2="175.31" y2="187.59" stroke="#5a4aa8" stroke-width="1.0"/>
<line x1="178.17" y1="193.21" x2="180.62" y2="194.92" stroke="#e02828" stroke-width="1.0"/>
<line x1="170.14" y1="193.75" x2="172.31" y2="195.35" stroke="#d82020" stroke-width="1.0"/>
<line x1="169.35" y1="190.67" x2="171.96" y2="191.61" stroke="#3a3ab0" stroke-width="1.0"/>
<line x1="161.12" y1="193.66" x2="159.34" y2="191.16" stroke="#c81818" stroke-width="1.0"/>
<line x1="126.43" y1="190.69" x2="125.53" y2="193.24" stroke="#2a2ad0" stroke-width="1.0"/>
<line x1="157.19" y1="192.53" x2="156.61" y2="190.19" stroke="#e02828" stroke-width="1.0"/>
<line x1="159.38" y1="190.03" x2="157.73" y2="190.58" stroke="#2a2ad0" stroke-width="1.0"/>
<line x1="170.43" y1="188.08" x2="169.53" y2="185.62" stroke="#d82020" stroke-width="1.0"/>
<line x1="88.26" y1="193.39" x2="87.63" y2="196.38" stroke="#2020b8" stroke-width="1.0"/>
<line x1="124.73" y1="189.38" x2="126.02" y2="190.81" stroke="#2020b8" stroke-width="1.0"/>
<line x1="143.00" y1="193.14" x2="143.72" y2="191.82" stroke="#181890" stroke-width="1.0"/>
<line x1="78.42" y1="196.73" x2="78.49" y2="193.65" stroke="#d82020" stroke-width="1.0"/>
<line x1="139.66" y1="190.22" x2="141.43" y2="187.84" stroke="#5a4aa8" stroke-width="1.0"/>
<line x1="128.33" y1="190.32" x2="131.25" y2="190.40" stroke="#181890" stroke-width="1.0"/>
<line x1="146.95" y1="195.36" x2="147.59" y2="192.36" stroke="#1a22c8" stroke-width="1.0"/>
<line x1="109.85" y1="192.17" x2="108.62" y2="190.97" stroke="#5a4aa8" stroke-width="1.0"/>
<line x1="163.30" y1="188.99" x2="161.73" y2="186.79" stroke="#c81818" stroke-width="1.0"/>
<line x1="139.25" y1="189.98" x2="137.83" y2="192.30" stroke="#d82020" stroke-width="1.0"/>
<line x1="111.17" y1="191.18" x2="108.11" y2="191.31" stroke="#c81818" stroke-width="1.0"/>
<line x1="87.16" y1="193.26" x2="87.44" y2="195.86" stroke="#2a2ad0" stroke-width="1.0"/>
<line x1="135.31" y1="188.09" x2="133.21" y2="187.28" stroke="#3a3ab0" stroke-width="1.0"/>
<line x1="133.90" y1="189.67" x2="136.99" y2="189.19" stroke="#181890" stroke-width="1.0"/>
<line x1="170.65" y1="192.93" x2="167.94" y2="192.77" stroke="#e04040" stroke-width="1.0"/>
<line x1="125.89" y1="189.13" x2="126.38" y2="190.97" stroke="#181890" stroke-width="1.0"/>
<line x1="96.63" y1="194.31" x2="96.28" y2="195.79" stroke="#d82020" stroke-width="1.0"/>
<line x1="114.65" y1="188.69" x2="112.55" y2="190.44" stroke="#5a4aa8" stroke-width="1.0"/>
<line x1="155.78" y1="190.02" x2="152.95" y2="190.86" stroke="#d82020" stroke-width="1.0"/>
<line x1="87.10" y1="196.10" x2="85.97" y2="198.42" stroke="#e04040" stroke-width="1.0"/>
<line x1="177.05" y1="191.65" x2="176.69" y2="194.38" stroke="#5a4aa8" stroke-width="1.0"/>
<line x1="79.73" y1="195.34" x2="81.58" y2="194.24" stroke="#2a2ad0" stroke-width="1.0"/>
<line x1="178.67" y1="189.53" x2="178.09" y2="186.70" stroke="#2020b8" stroke-width="1.0"/>
<line x1="91.16" y1="190.81" x2="92.87" y2="188.39" stroke="#c81818" stroke-width="1.0"/>
<line x1="141.90" y1="191.20" x2="142.34" y2="193.51" stroke="#1a22c8" stroke-width="1.0"/>
<line x1="113.34" y1="194.81" x2="113.24" y2="196.87" stroke="#e04040" stroke-width="1.0"/>
<line x1="82.68" y1="193.35" x2="81.82" y2="190.91" stroke="#2a2ad0" stroke-width="1.0"/>
<line x1="134.28" y1="189.72" x2="132.45" y2="191.39" stroke="#1a22c8" stroke-width="1.0"/>
<line x1="101.85" y1="195.48" x2="101.79" y2="197.60" stroke="#5a4aa8" stroke-width="1.0"/>
<line x1="77.84" y1="196.66" x2="76.88" y2="195.30" stroke="#e02828" stroke-width="1.0"/>
<line x1="79.11" y1="190.99" x2="81.66" y2="192.80" stroke="#c81818" stroke-width="1.0"/>
<line x1="130.95" y1="183.11" x2="133.10" y2="182.04" stroke="#3a3ab0" stroke-width="1.0"/>
<line x1="166.14" y1="190.42" x2="165.81" y2="187.80" stroke="#3a3ab0" stroke-width="1.0"/>
<line x1="114.63" y1="188.56" x2="115.32" y2="187.07" stroke="#1a22c8" stroke-width="1.0"/>
<line x1="131.22" y1="190.50" x2="133.08" y2="192.94" stroke="#c81818" stroke-width="1.0"/>
<line x1="114.29" y1="194.62" x2="112.42" y2="193.41" stroke="#1a22c8" stroke-width="1.0"/>
<line x1="156.13" y1="194.36" x2="157.44" y2="195.79" stroke="#5a4aa8" stroke-width="1.0"/>
<line x1="171.93" y1="186.77" x2="171.22" y2="183.68" stroke="#1a22c8" stroke-width="1.0"/>
<line x1="144.17" y1="189.12" x2="145.98" y2="189.84" stroke="#181890" stroke-width="1.0"/>
<line x1="145.98" y1="193.73" x2="148.34" y2="192.66" stroke="#181890" stroke-width="1.0"/>
<line x1="83.14" y1="192.99" x2="81.69" y2="192.13" stroke="#d82020" stroke-width="1.0"/>
<line x1="123.91" y1="191.25" x2="124.56" y2="189.04" stroke="#2020b8" stroke-width="1.0"/>
<line x1="108.26" y1="193.96" x2="105.67" y2="193.37" stroke="#2a2ad0" stroke-width="1.0"/>
<line x1="121.88" y1="190.06" x2="123.59" y2="190.90" stroke="#e02828" stroke-width="1.0"/>
<line x1="180.09" y1="194.78" x2="180.21" y2="192.48" stroke="#c81818" stroke-width="1.0"/>
<line x1="116.71" y1="187.34" x2="115.10" y2="188.18" stroke="#c81818" stroke-width="1.0"/>
<line x1="96.82" y1="189.34" x2="99.26" y2="189.26" stroke="#e02828" stroke-width="1.0"/>
<line x1="113.45" y1="196.09" x2="113.31" y2="194.17" stroke="#d82020" stroke-width="1.0"/>
<line x1="142.55" y1="190.17" x2="140.84" y2="187.75" stroke="#181890" stroke-width="1.0"/>
<line x1="91.25" y1="199.34" x2="93.10" y2="200.14" stroke="#c81818" stroke-width="1.0"/>
<line x1="90.66" y1="186.85" x2="93.05" y2="185.72" stroke="#1a22c8" stroke-width="1.0"/>
<line x1="120.64" y1="191.89" x2="119.23" y2="192.53" stroke="#e04040" stroke-width="1.0"/>
<line x1="155.41" y1="195.45" x2="154.27" y2="197.16" stroke="#181890" stroke-width="1.0"/>
<line x1="110.31" y1="189.76" x2="111.99" y2="188.99" stroke="#1a22c8" stroke-width="1.0"/>
<line x1="107.32" y1="190.01" x2="108.22" y2="188.69" stroke="#3a3ab0" stroke-width="1.0"/>
<line x1="95.47" y1="192.79" x2="98.35" y2="192.32" stroke="#c81818" stroke-width="1.0"/>
<line x1="123.44" y1="191.06" x2="125.83" y2="189.70" stroke="#c81818" stroke-width="1.0"/>
<line x1="88.39" y1="190.49" x2="89.76" y2="188.14" stroke="#c81818" stroke-width="1.0"/>
<line x1="104.56" y1="189.07" x2="106.07" y2="187.34" stroke="#3a3ab0" stroke-width="1.0"/>
<line x1="112.98" y1="191.10" x2="113.20" y2="189.49" stroke="#c81818" stroke-width="1.0"/>
<line x1="176.68" y1="187.58" x2="178.45" y2="185.35" stroke="#c81818" stroke-width="1.0"/>
<line x1="166.82" y1="190.27" x2="168.28" y2="188.96" stroke="#d82020" stroke-width="1.0"/>
<line x1="87.28" y1="188.67" x2="85.13" y2="186.41" stroke="#d82020" stroke-width="1.0"/>
<line x1="176.68" y1="196.45" x2="174.60" y2="194.77" stroke="#e04040" stroke-width="1.0"/>
<line x1="114.92" y1="183.41" x2="113.30" y2="182.67" stroke="#e04040" stroke-width="1.0"/>
<line x1="160.96" y1="188.01" x2="162.76" y2="188.10" stroke="#181890" stroke-width="1.0"/>
<line x1="107.40" y1="201.77" x2="105.10" y2="203.64" stroke="#e02828" stroke-width="1.0"/>
<line x1="116.42" y1="188.15" x2="117.25" y2="186.51" stroke="#3a3ab0" stroke-width="1.0"/>
<line x1="140.95" y1="191.60" x2="142.78" y2="191.38" stroke="#c81818" stroke-width="1.0"/>
<line x1="161.20" y1="190.57" x2="163.21" y2="191.09" stroke="#d82020" stroke-width="1.0"/>
<line x1="143.15" y1="199.09" x2="141.91" y2="200.19" stroke="#2a2ad0" stroke-width="1.0"/>
<line x1="101.37" y1="190.52" x2="102.45" y2="189.28" stroke="#5a4aa8" stroke-width="1.0"/>
<line x1="79.37" y1="196.58" x2="80.54" y2="194.31" stroke="#181890" stroke-width="1.0"/>
<line x1="137.07" y1="190.19" x2="136.86" y2="191.93" stroke="#e02828" stroke-width="1.0"/>
<line x1="131.96" y1="194.69" x2="128.98" y2="195.69" stroke="#c81818" stroke-width="1.0"/>
<line x1="79.35" y1="189.68" x2="79.63" y2="191.67" stroke="#5a4aa8" stroke-width="1.0"/>
<line x1="145.22" y1="188.17" x2="145.69" y2="186.10" stroke="#1a22c8" stroke-width="1.0"/>
<line x1="166.66" y1="190.78" x2="167.84" y2="191.99" stroke="#181890" stroke-width="1.0"/>
<line x1="156.41" y1="190.03" x2="158.73" y2="190.33" stroke="#1a22c8" stroke-width="1.0"/>
<line x1="137.31" y1="194.73" x2="137.73" y2="196.18" stroke="#3a3ab0" stroke-width="1.0"/>
<line x1="149.70" y1="194.42" x2="147.88" y2="195.50" stroke="#e02828" stroke-width="1.0"/>
<line x1="100.35" y1="192.25" x2="100.18" y2="189.92" stroke="#1a22c8" stroke-width="1.0"/>
<line x1="150.65" y1="198.55" x2="148.87" y2="199.04" stroke="#c81818" stroke-width="1.0"/>
<line x1="124.97" y1="190.88" x2="123.90" y2="193.19" stroke="#181890" stroke-width="1.0"/>
<line x1="142.24" y1="187.90" x2="139.67" y2="187.40" stroke="#181890" stroke-width="1.0"/>
<line x1="166.69" y1="188.64" x2="165.81" y2="191.52" stroke="#2a2ad0" stroke-width="1.0"/>
<line x1="88.56" y1="192.06" x2="85.66" y2="190.84" stroke="#d82020" stroke-width="1.0"/>
<line x1="110.52" y1="190.50" x2="108.16" y2="189.31" stroke="#181890" stroke-width="1.0"/>
<circle cx="101.84" cy="186.54" r="0.85" fill="#68cce4"/>
<circle cx="132.33" cy="193.79" r="0.85" fill="#68cce4"/>
<circle cx="91.91" cy="192.87" r="0.85" fill="#68cce4"/>
<circle cx="146.81" cy="188.85" r="0.85" fill="#68cce4"/>
<circle cx="89.63" cy="192.44" r="0.85" fill="#68cce4"/>
<circle cx="183.13" cy="183.42" r="0.85" fill="#68cce4"/>
<circle cx="128.30" cy="194.25" r="0.85" fill="#68cce4"/>
<circle cx="94.34" cy="190.00" r="0.85" fill="#68cce4"/>
<circle cx="116.98" cy="183.45" r="0.85" fill="#68cce4"/>
<circle cx="109.12" cy="192.49" r="0.85" fill="#68cce4"/>
<circle cx="146.77" cy="192.80" r="0.85" fill="#68cce4"/>
<circle cx="176.21" cy="190.74" r="0.85" fill="#68cce4"/>
<circle cx="75.96" cy="188.00" r="0.85" fill="#68cce4"/>
<circle cx="179.46" cy="185.19" r="0.85" fill="#68cce4"/>
<circle cx="157.04" cy="194.80" r="0.85" fill="#68cce4"/>
<circle cx="176.87" cy="193.95" r="0.85" fill="#68cce4"/>
<circle cx="120.32" cy="195.71" r="0.85" fill="#68cce4"/>
<circle cx="154.35" cy="189.90" r="0.85" fill="#68cce4"/>
<circle cx="136.18" cy="174.94" r="0.85" fill="#68cce4"/>
<circle cx="150.24" cy="184.60" r="0.85" fill="#68cce4"/>
<circle cx="91.85" cy="186.43" r="0.85" fill="#68cce4"/>
<circle cx="162.11" cy="181.03" r="0.85" fill="#68cce4"/>
<circle cx="175.89" cy="195.05" r="0.85" fill="#68cce4"/>
<circle cx="96.51" cy="192.17" r="0.85" fill="#68cce4"/>
<circle cx="92.09" cy="182.22" r="0.85" fill="#68cce4"/>
<circle cx="121.38" cy="197.52" r="0.85" fill="#68cce4"/>
<circle cx="125.63" cy="190.83" r="0.85" fill="#68cce4"/>
<circle cx="160.49" cy="189.07" r="0.85" fill="#68cce4"/>
<circle cx="119.42" cy="190.51" r="0.85" fill="#68cce4"/>
<circle cx="180.58" cy="195.21" r="0.85" fill="#68cce4"/>
<circle cx="122.08" cy="190.41" r="0.85" fill="#68cce4"/>
<circle cx="169.01" cy="183.15" r="0.85" fill="#68cce4"/>
<circle cx="150.57" cy="196.65" r="0.85" fill="#68cce4"/>
<circle cx="129.06" cy="192.57" r="0.85" fill="#68cce4"/>
<circle cx="145.89" cy="195.89" r="0.85" fill="#68cce4"/>
<circle cx="106.86" cy="199.12" r="0.85" fill="#68cce4"/>
<line x1="190.2" y1="178" x2="190.2" y2="205" stroke="#777" stroke-width="1.3"/>
<path d="M186.0,181.5 L190.2,173.8 L194.4,181.5 Z" fill="#111"/>
<path d="M186.0,201.6 L190.2,209.3 L194.4,201.6 Z" fill="#111"/>
<text x="194.20" y="196.40" font-size="13" text-anchor="start" fill="#1a1a1a" font-style="italic" >D</text>
</g>
<rect x="63.20" y="17.20" width="300.00" height="224.80" fill="none" stroke="#161616" stroke-width="1.5"/>
<text x="63.20" y="256.30" font-size="12.6" text-anchor="middle" fill="#1a1a1a" >1.0</text>
<line x1="100.70" y1="242.00" x2="100.70" y2="239.80" stroke="#161616" stroke-width="1.1" />
<line x1="138.20" y1="242.00" x2="138.20" y2="238.20" stroke="#161616" stroke-width="1.1" />
<text x="138.20" y="256.30" font-size="12.6" text-anchor="middle" fill="#1a1a1a" >1.5</text>
<line x1="175.70" y1="242.00" x2="175.70" y2="239.80" stroke="#161616" stroke-width="1.1" />
<line x1="213.20" y1="242.00" x2="213.20" y2="238.20" stroke="#161616" stroke-width="1.1" />
<text x="213.20" y="256.30" font-size="12.6" text-anchor="middle" fill="#1a1a1a" >2.0</text>
<line x1="250.70" y1="242.00" x2="250.70" y2="239.80" stroke="#161616" stroke-width="1.1" />
<line x1="288.20" y1="242.00" x2="288.20" y2="238.20" stroke="#161616" stroke-width="1.1" />
<text x="288.20" y="256.30" font-size="12.6" text-anchor="middle" fill="#1a1a1a" >2.5</text>
<line x1="325.70" y1="242.00" x2="325.70" y2="239.80" stroke="#161616" stroke-width="1.1" />
<text x="363.20" y="256.30" font-size="12.6" text-anchor="middle" fill="#1a1a1a" >3.0</text>
<line x1="63.20" y1="228.12" x2="65.40" y2="228.12" stroke="#161616" stroke-width="1.1" />
<line x1="63.20" y1="219.94" x2="65.40" y2="219.94" stroke="#161616" stroke-width="1.1" />
<line x1="63.20" y1="214.13" x2="65.40" y2="214.13" stroke="#161616" stroke-width="1.1" />
<line x1="63.20" y1="209.63" x2="65.40" y2="209.63" stroke="#161616" stroke-width="1.1" />
<line x1="63.20" y1="205.95" x2="65.40" y2="205.95" stroke="#161616" stroke-width="1.1" />
<line x1="63.20" y1="202.85" x2="65.40" y2="202.85" stroke="#161616" stroke-width="1.1" />
<line x1="63.20" y1="200.15" x2="65.40" y2="200.15" stroke="#161616" stroke-width="1.1" />
<line x1="63.20" y1="197.78" x2="65.40" y2="197.78" stroke="#161616" stroke-width="1.1" />
<line x1="63.20" y1="195.65" x2="67.00" y2="195.65" stroke="#161616" stroke-width="1.1" />
<line x1="63.20" y1="181.67" x2="65.40" y2="181.67" stroke="#161616" stroke-width="1.1" />
<line x1="63.20" y1="173.49" x2="65.40" y2="173.49" stroke="#161616" stroke-width="1.1" />
<line x1="63.20" y1="167.68" x2="65.40" y2="167.68" stroke="#161616" stroke-width="1.1" />
<line x1="63.20" y1="163.18" x2="65.40" y2="163.18" stroke="#161616" stroke-width="1.1" />
<line x1="63.20" y1="159.50" x2="65.40" y2="159.50" stroke="#161616" stroke-width="1.1" />
<line x1="63.20" y1="156.40" x2="65.40" y2="156.40" stroke="#161616" stroke-width="1.1" />
<line x1="63.20" y1="153.70" x2="65.40" y2="153.70" stroke="#161616" stroke-width="1.1" />
<line x1="63.20" y1="151.33" x2="65.40" y2="151.33" stroke="#161616" stroke-width="1.1" />
<line x1="63.20" y1="149.20" x2="67.00" y2="149.20" stroke="#161616" stroke-width="1.1" />
<line x1="63.20" y1="135.22" x2="65.40" y2="135.22" stroke="#161616" stroke-width="1.1" />
<line x1="63.20" y1="127.04" x2="65.40" y2="127.04" stroke="#161616" stroke-width="1.1" />
<line x1="63.20" y1="121.23" x2="65.40" y2="121.23" stroke="#161616" stroke-width="1.1" />
<line x1="63.20" y1="116.73" x2="65.40" y2="116.73" stroke="#161616" stroke-width="1.1" />
<line x1="63.20" y1="113.05" x2="65.40" y2="113.05" stroke="#161616" stroke-width="1.1" />
<line x1="63.20" y1="109.95" x2="65.40" y2="109.95" stroke="#161616" stroke-width="1.1" />
<line x1="63.20" y1="107.25" x2="65.40" y2="107.25" stroke="#161616" stroke-width="1.1" />
<line x1="63.20" y1="104.88" x2="65.40" y2="104.88" stroke="#161616" stroke-width="1.1" />
<line x1="63.20" y1="102.75" x2="67.00" y2="102.75" stroke="#161616" stroke-width="1.1" />
<line x1="63.20" y1="88.77" x2="65.40" y2="88.77" stroke="#161616" stroke-width="1.1" />
<line x1="63.20" y1="80.59" x2="65.40" y2="80.59" stroke="#161616" stroke-width="1.1" />
<line x1="63.20" y1="74.78" x2="65.40" y2="74.78" stroke="#161616" stroke-width="1.1" />
<line x1="63.20" y1="70.28" x2="65.40" y2="70.28" stroke="#161616" stroke-width="1.1" />
<line x1="63.20" y1="66.60" x2="65.40" y2="66.60" stroke="#161616" stroke-width="1.1" />
<line x1="63.20" y1="63.50" x2="65.40" y2="63.50" stroke="#161616" stroke-width="1.1" />
<line x1="63.20" y1="60.80" x2="65.40" y2="60.80" stroke="#161616" stroke-width="1.1" />
<line x1="63.20" y1="58.43" x2="65.40" y2="58.43" stroke="#161616" stroke-width="1.1" />
<line x1="63.20" y1="56.30" x2="67.00" y2="56.30" stroke="#161616" stroke-width="1.1" />
<line x1="63.20" y1="42.32" x2="65.40" y2="42.32" stroke="#161616" stroke-width="1.1" />
<line x1="63.20" y1="34.14" x2="65.40" y2="34.14" stroke="#161616" stroke-width="1.1" />
<line x1="63.20" y1="28.33" x2="65.40" y2="28.33" stroke="#161616" stroke-width="1.1" />
<line x1="63.20" y1="23.83" x2="65.40" y2="23.83" stroke="#161616" stroke-width="1.1" />
<line x1="63.20" y1="20.15" x2="65.40" y2="20.15" stroke="#161616" stroke-width="1.1" />
<text x="57.80" y="245.60" font-size="12.6" text-anchor="end" fill="#1a1a1a" >0.01</text>
<text x="57.80" y="199.15" font-size="12.6" text-anchor="end" fill="#1a1a1a" >0.1</text>
<text x="57.80" y="152.70" font-size="12.6" text-anchor="end" fill="#1a1a1a" >1</text>
<text x="57.80" y="106.25" font-size="12.6" text-anchor="end" fill="#1a1a1a" >10</text>
<text x="57.80" y="59.80" font-size="12.6" text-anchor="end" fill="#1a1a1a" >100</text>
<text x="211.80" y="273.50" font-size="13.3" text-anchor="middle" fill="#1a1a1a" >Separation distance, <tspan font-style="italic">D</tspan> (nm)</text>
<text x="0.00" y="0.00" font-size="13.35" text-anchor="middle" fill="#1a1a1a" transform="translate(28.9,131.5) rotate(-90)">Normal force, <tspan font-style="italic">F</tspan>n (nN)</text>
<line x1="123" y1="50.0" x2="350.5" y2="110.6" stroke="#e2121e" stroke-width="1.5" stroke-dasharray="3.2 3.1"/>
<line x1="106" y1="66.4" x2="348.5" y2="178" stroke="#167392" stroke-width="1.5" stroke-dasharray="3.2 3.1"/>
<line x1="113.5" y1="87.6" x2="316.5" y2="228.4" stroke="#e0a417" stroke-width="1.5" stroke-dasharray="3.2 3.1"/>
<line x1="214.00" y1="155.60" x2="214.00" y2="156.70" stroke="#e6b03a" stroke-width="1.45"/>
<line x1="211.40" y1="147.30" x2="216.60" y2="147.30" stroke="#e6b03a" stroke-width="1.45"/>
<line x1="211.40" y1="156.70" x2="216.60" y2="156.70" stroke="#e6b03a" stroke-width="1.45"/>
<line x1="228.30" y1="164.60" x2="228.30" y2="165.20" stroke="#e6b03a" stroke-width="1.45"/>
<line x1="225.70" y1="156.40" x2="230.90" y2="156.40" stroke="#e6b03a" stroke-width="1.45"/>
<line x1="225.70" y1="165.20" x2="230.90" y2="165.20" stroke="#e6b03a" stroke-width="1.45"/>
<line x1="243.00" y1="175.60" x2="243.00" y2="184.70" stroke="#e6b03a" stroke-width="1.45"/>
<line x1="243.00" y1="193.30" x2="243.00" y2="241.50" stroke="#e6b03a" stroke-width="1.45"/>
<line x1="240.40" y1="175.60" x2="245.60" y2="175.60" stroke="#e6b03a" stroke-width="1.45"/>
<line x1="258.60" y1="149.00" x2="258.60" y2="151.30" stroke="#e6b03a" stroke-width="1.45"/>
<line x1="258.60" y1="159.90" x2="258.60" y2="164.40" stroke="#e6b03a" stroke-width="1.45"/>
<line x1="256.00" y1="149.00" x2="261.20" y2="149.00" stroke="#e6b03a" stroke-width="1.45"/>
<line x1="256.00" y1="164.40" x2="261.20" y2="164.40" stroke="#e6b03a" stroke-width="1.45"/>
<line x1="303.40" y1="162.80" x2="303.40" y2="165.30" stroke="#e6b03a" stroke-width="1.45"/>
<line x1="303.40" y1="173.90" x2="303.40" y2="180.00" stroke="#e6b03a" stroke-width="1.45"/>
<line x1="300.80" y1="162.80" x2="306.00" y2="162.80" stroke="#e6b03a" stroke-width="1.45"/>
<line x1="300.80" y1="180.00" x2="306.00" y2="180.00" stroke="#e6b03a" stroke-width="1.45"/>
<line x1="315.40" y1="160.20" x2="320.60" y2="160.20" stroke="#e6b03a" stroke-width="1.45"/>
<line x1="315.40" y1="167.00" x2="320.60" y2="167.00" stroke="#e6b03a" stroke-width="1.45"/>
<line x1="348.00" y1="176.40" x2="348.00" y2="181.30" stroke="#e6b03a" stroke-width="1.45"/>
<line x1="348.00" y1="189.90" x2="348.00" y2="201.60" stroke="#e6b03a" stroke-width="1.45"/>
<line x1="345.40" y1="176.40" x2="350.60" y2="176.40" stroke="#e6b03a" stroke-width="1.45"/>
<line x1="345.40" y1="201.60" x2="350.60" y2="201.60" stroke="#e6b03a" stroke-width="1.45"/>
<line x1="273.60" y1="145.40" x2="273.60" y2="147.10" stroke="#3f8fae" stroke-width="1.45"/>
<line x1="273.60" y1="154.10" x2="273.60" y2="156.00" stroke="#3f8fae" stroke-width="1.45"/>
<line x1="271.00" y1="145.40" x2="276.20" y2="145.40" stroke="#3f8fae" stroke-width="1.45"/>
<line x1="271.00" y1="156.00" x2="276.20" y2="156.00" stroke="#3f8fae" stroke-width="1.45"/>
<line x1="304.00" y1="145.60" x2="304.00" y2="150.10" stroke="#3f8fae" stroke-width="1.45"/>
<line x1="304.00" y1="157.10" x2="304.00" y2="164.60" stroke="#3f8fae" stroke-width="1.45"/>
<line x1="301.40" y1="145.60" x2="306.60" y2="145.60" stroke="#3f8fae" stroke-width="1.45"/>
<line x1="301.40" y1="164.60" x2="306.60" y2="164.60" stroke="#3f8fae" stroke-width="1.45"/>
<line x1="318.00" y1="167.60" x2="318.00" y2="184.50" stroke="#3f8fae" stroke-width="1.45"/>
<line x1="318.00" y1="191.50" x2="318.00" y2="241.50" stroke="#3f8fae" stroke-width="1.45"/>
<line x1="315.40" y1="167.60" x2="320.60" y2="167.60" stroke="#3f8fae" stroke-width="1.45"/>
<line x1="333.40" y1="162.40" x2="333.40" y2="168.90" stroke="#3f8fae" stroke-width="1.45"/>
<line x1="333.40" y1="175.90" x2="333.40" y2="193.00" stroke="#3f8fae" stroke-width="1.45"/>
<line x1="330.80" y1="162.40" x2="336.00" y2="162.40" stroke="#3f8fae" stroke-width="1.45"/>
<line x1="330.80" y1="193.00" x2="336.00" y2="193.00" stroke="#3f8fae" stroke-width="1.45"/>
<line x1="348.00" y1="160.40" x2="348.00" y2="179.90" stroke="#3f8fae" stroke-width="1.45"/>
<line x1="348.00" y1="186.90" x2="348.00" y2="241.50" stroke="#3f8fae" stroke-width="1.45"/>
<line x1="345.40" y1="160.40" x2="350.60" y2="160.40" stroke="#3f8fae" stroke-width="1.45"/>
<path d="M113.60,84.25 L117.35,88.00 L113.60,91.75 L109.85,88.00 Z" fill="none" stroke="#e0a417" stroke-width="1.5"/>
<path d="M121.60,92.25 L125.35,96.00 L121.60,99.75 L117.85,96.00 Z" fill="none" stroke="#e0a417" stroke-width="1.5"/>
<path d="M132.40,98.65 L136.15,102.40 L132.40,106.15 L128.65,102.40 Z" fill="none" stroke="#e0a417" stroke-width="1.5"/>
<path d="M145.20,105.05 L148.95,108.80 L145.20,112.55 L141.45,108.80 Z" fill="none" stroke="#e0a417" stroke-width="1.5"/>
<path d="M156.00,120.65 L159.75,124.40 L156.00,128.15 L152.25,124.40 Z" fill="none" stroke="#e0a417" stroke-width="1.5"/>
<path d="M170.00,129.85 L173.75,133.60 L170.00,137.35 L166.25,133.60 Z" fill="none" stroke="#e0a417" stroke-width="1.5"/>
<path d="M185.30,129.55 L189.05,133.30 L185.30,137.05 L181.55,133.30 Z" fill="none" stroke="#e0a417" stroke-width="1.5"/>
<path d="M199.60,131.55 L203.35,135.30 L199.60,139.05 L195.85,135.30 Z" fill="none" stroke="#e0a417" stroke-width="1.5"/>
<path d="M214.00,147.55 L217.75,151.30 L214.00,155.05 L210.25,151.30 Z" fill="none" stroke="#e0a417" stroke-width="1.5"/>
<path d="M228.30,156.55 L232.05,160.30 L228.30,164.05 L224.55,160.30 Z" fill="none" stroke="#e0a417" stroke-width="1.5"/>
<path d="M243.00,185.25 L246.75,189.00 L243.00,192.75 L239.25,189.00 Z" fill="none" stroke="#e0a417" stroke-width="1.5"/>
<path d="M258.60,151.85 L262.35,155.60 L258.60,159.35 L254.85,155.60 Z" fill="none" stroke="#e0a417" stroke-width="1.5"/>
<path d="M303.40,165.85 L307.15,169.60 L303.40,173.35 L299.65,169.60 Z" fill="none" stroke="#e0a417" stroke-width="1.5"/>
<path d="M318.00,159.75 L321.75,163.50 L318.00,167.25 L314.25,163.50 Z" fill="none" stroke="#e0a417" stroke-width="1.5"/>
<path d="M348.00,181.85 L351.75,185.60 L348.00,189.35 L344.25,185.60 Z" fill="none" stroke="#e0a417" stroke-width="1.5"/>
<circle cx="106.00" cy="66.60" r="2.85" fill="none" stroke="#167392" stroke-width="1.45"/>
<circle cx="112.40" cy="70.60" r="2.85" fill="none" stroke="#167392" stroke-width="1.45"/>
<circle cx="121.00" cy="73.40" r="2.85" fill="none" stroke="#167392" stroke-width="1.45"/>
<circle cx="130.00" cy="76.00" r="2.85" fill="none" stroke="#167392" stroke-width="1.45"/>
<circle cx="139.40" cy="79.60" r="2.85" fill="none" stroke="#167392" stroke-width="1.45"/>
<circle cx="146.00" cy="85.40" r="2.85" fill="none" stroke="#167392" stroke-width="1.45"/>
<circle cx="156.60" cy="89.60" r="2.85" fill="none" stroke="#167392" stroke-width="1.45"/>
<circle cx="168.00" cy="94.60" r="2.85" fill="none" stroke="#167392" stroke-width="1.45"/>
<circle cx="180.00" cy="98.00" r="2.85" fill="none" stroke="#167392" stroke-width="1.45"/>
<circle cx="192.40" cy="103.20" r="2.85" fill="none" stroke="#167392" stroke-width="1.45"/>
<circle cx="203.60" cy="113.40" r="2.85" fill="none" stroke="#167392" stroke-width="1.45"/>
<circle cx="218.00" cy="115.80" r="2.85" fill="none" stroke="#167392" stroke-width="1.45"/>
<circle cx="230.40" cy="128.80" r="2.85" fill="none" stroke="#167392" stroke-width="1.45"/>
<circle cx="244.40" cy="138.40" r="2.85" fill="none" stroke="#167392" stroke-width="1.45"/>
<circle cx="259.60" cy="136.40" r="2.85" fill="none" stroke="#167392" stroke-width="1.45"/>
<circle cx="273.60" cy="150.60" r="2.85" fill="none" stroke="#167392" stroke-width="1.45"/>
<circle cx="289.40" cy="139.40" r="2.85" fill="none" stroke="#167392" stroke-width="1.45"/>
<circle cx="304.00" cy="153.60" r="2.85" fill="none" stroke="#167392" stroke-width="1.45"/>
<circle cx="318.00" cy="188.00" r="2.85" fill="none" stroke="#167392" stroke-width="1.45"/>
<circle cx="333.40" cy="172.40" r="2.85" fill="none" stroke="#167392" stroke-width="1.45"/>
<circle cx="348.00" cy="183.40" r="2.85" fill="none" stroke="#167392" stroke-width="1.45"/>
<rect x="121.10" y="47.50" width="5.0" height="5.0" fill="none" stroke="#e2121e" stroke-width="1.5"/>
<rect x="126.50" y="49.10" width="5.0" height="5.0" fill="none" stroke="#e2121e" stroke-width="1.5"/>
<rect x="130.50" y="50.90" width="5.0" height="5.0" fill="none" stroke="#e2121e" stroke-width="1.5"/>
<rect x="134.50" y="52.90" width="5.0" height="5.0" fill="none" stroke="#e2121e" stroke-width="1.5"/>
<rect x="141.10" y="54.10" width="5.0" height="5.0" fill="none" stroke="#e2121e" stroke-width="1.5"/>
<rect x="145.10" y="56.90" width="5.0" height="5.0" fill="none" stroke="#e2121e" stroke-width="1.5"/>
<rect x="153.90" y="58.50" width="5.0" height="5.0" fill="none" stroke="#e2121e" stroke-width="1.5"/>
<rect x="160.50" y="60.50" width="5.0" height="5.0" fill="none" stroke="#e2121e" stroke-width="1.5"/>
<rect x="169.50" y="62.50" width="5.0" height="5.0" fill="none" stroke="#e2121e" stroke-width="1.5"/>
<rect x="176.90" y="65.10" width="5.0" height="5.0" fill="none" stroke="#e2121e" stroke-width="1.5"/>
<rect x="188.50" y="66.10" width="5.0" height="5.0" fill="none" stroke="#e2121e" stroke-width="1.5"/>
<rect x="194.90" y="70.10" width="5.0" height="5.0" fill="none" stroke="#e2121e" stroke-width="1.5"/>
<rect x="208.90" y="70.50" width="5.0" height="5.0" fill="none" stroke="#e2121e" stroke-width="1.5"/>
<rect x="218.50" y="73.10" width="5.0" height="5.0" fill="none" stroke="#e2121e" stroke-width="1.5"/>
<rect x="232.30" y="73.50" width="5.0" height="5.0" fill="none" stroke="#e2121e" stroke-width="1.5"/>
<rect x="238.50" y="79.10" width="5.0" height="5.0" fill="none" stroke="#e2121e" stroke-width="1.5"/>
<rect x="250.90" y="80.90" width="5.0" height="5.0" fill="none" stroke="#e2121e" stroke-width="1.5"/>
<rect x="263.50" y="83.10" width="5.0" height="5.0" fill="none" stroke="#e2121e" stroke-width="1.5"/>
<rect x="274.90" y="86.50" width="5.0" height="5.0" fill="none" stroke="#e2121e" stroke-width="1.5"/>
<rect x="287.10" y="88.90" width="5.0" height="5.0" fill="none" stroke="#e2121e" stroke-width="1.5"/>
<rect x="298.10" y="95.10" width="5.0" height="5.0" fill="none" stroke="#e2121e" stroke-width="1.5"/>
<rect x="311.10" y="98.10" width="5.0" height="5.0" fill="none" stroke="#e2121e" stroke-width="1.5"/>
<rect x="326.10" y="98.50" width="5.0" height="5.0" fill="none" stroke="#e2121e" stroke-width="1.5"/>
<rect x="337.10" y="107.10" width="5.0" height="5.0" fill="none" stroke="#e2121e" stroke-width="1.5"/>
<rect x="349.90" y="115.50" width="5.0" height="5.0" fill="none" stroke="#e2121e" stroke-width="1.5"/>
<rect x="311.30" y="26.70" width="5.0" height="5.0" fill="none" stroke="#e2121e" stroke-width="1.5"/>
<circle cx="313.90" cy="44.30" r="2.85" fill="none" stroke="#167392" stroke-width="1.45"/>
<path d="M313.90,55.65 L317.65,59.40 L313.90,63.15 L310.15,59.40 Z" fill="none" stroke="#e0a417" stroke-width="1.5"/>
<text x="326.90" y="32.80" font-size="12.3" text-anchor="start" fill="#1a1a1a" >4 M</text>
<text x="326.90" y="47.90" font-size="12.3" text-anchor="start" fill="#1a1a1a" >2 M</text>
<text x="326.90" y="63.00" font-size="12.3" text-anchor="start" fill="#1a1a1a" >1 M</text>
</g>
<g id="panelB">
<circle cx="626.50" cy="25.80" r="7.30" fill="url(#gLa)"/>
<text x="644.00" y="30.20" font-size="13.7" text-anchor="start" fill="#1a1a1a" >La<tspan font-size="9" dy="-5.2">3+</tspan><tspan dy="5.2"> ion</tspan></text>
<text x="416.90" y="119.20" font-size="14.0" text-anchor="start" fill="#1a1a1a" >Distal layer</text>
<text x="659.90" y="151.70" font-size="14.1" text-anchor="start" fill="#1a1a1a" >Proximal layer</text>
<text x="527.50" y="223.40" font-size="13.9" text-anchor="start" fill="#1a1a1a" >Mica surface</text>
<clipPath id="micaclip"><rect x="424" y="150" width="279" height="60.2"/></clipPath>
<g clip-path="url(#micaclip)">
<line x1="430.89" y1="178.00" x2="431.07" y2="192.13" stroke="#e0141a" stroke-width="2.3" stroke-linecap="round"/>
<line x1="443.22" y1="178.00" x2="443.22" y2="185.00" stroke="#e6c040" stroke-width="2.3" stroke-linecap="round"/>
<line x1="443.22" y1="185.00" x2="443.12" y2="192.91" stroke="#e0141a" stroke-width="2.3" stroke-linecap="round"/>
<line x1="453.42" y1="178.00" x2="453.42" y2="185.00" stroke="#e6c040" stroke-width="2.3" stroke-linecap="round"/>
<line x1="453.42" y1="185.00" x2="453.68" y2="192.69" stroke="#e0141a" stroke-width="2.3" stroke-linecap="round"/>
<line x1="463.84" y1="178.00" x2="463.88" y2="193.39" stroke="#e0141a" stroke-width="2.3" stroke-linecap="round"/>
<line x1="476.11" y1="178.00" x2="476.11" y2="185.00" stroke="#e6c040" stroke-width="2.3" stroke-linecap="round"/>
<line x1="476.11" y1="185.00" x2="476.99" y2="192.31" stroke="#e0141a" stroke-width="2.3" stroke-linecap="round"/>
<line x1="486.03" y1="178.00" x2="485.44" y2="192.50" stroke="#e0141a" stroke-width="2.3" stroke-linecap="round"/>
<line x1="497.22" y1="178.00" x2="497.22" y2="185.00" stroke="#e6c040" stroke-width="2.3" stroke-linecap="round"/>
<line x1="497.22" y1="185.00" x2="498.15" y2="193.77" stroke="#e0141a" stroke-width="2.3" stroke-linecap="round"/>
<line x1="509.86" y1="178.00" x2="508.49" y2="192.24" stroke="#e0141a" stroke-width="2.3" stroke-linecap="round"/>
<line x1="521.76" y1="178.00" x2="523.15" y2="191.68" stroke="#e0141a" stroke-width="2.3" stroke-linecap="round"/>
<line x1="532.17" y1="178.00" x2="532.17" y2="185.00" stroke="#e6c040" stroke-width="2.3" stroke-linecap="round"/>
<line x1="532.17" y1="185.00" x2="532.52" y2="192.03" stroke="#e0141a" stroke-width="2.3" stroke-linecap="round"/>
<line x1="542.18" y1="178.00" x2="540.72" y2="192.84" stroke="#d873d8" stroke-width="2.3" stroke-linecap="round"/>
<line x1="554.27" y1="178.00" x2="552.95" y2="193.70" stroke="#e0141a" stroke-width="2.3" stroke-linecap="round"/>
<line x1="564.66" y1="178.00" x2="563.88" y2="193.43" stroke="#e0141a" stroke-width="2.3" stroke-linecap="round"/>
<line x1="575.47" y1="178.00" x2="575.36" y2="192.76" stroke="#e0141a" stroke-width="2.3" stroke-linecap="round"/>
<line x1="587.66" y1="178.00" x2="588.68" y2="192.31" stroke="#e0141a" stroke-width="2.3" stroke-linecap="round"/>
<line x1="599.05" y1="178.00" x2="599.05" y2="185.00" stroke="#e6c040" stroke-width="2.3" stroke-linecap="round"/>
<line x1="599.05" y1="185.00" x2="599.47" y2="193.91" stroke="#e0141a" stroke-width="2.3" stroke-linecap="round"/>
<line x1="610.20" y1="178.00" x2="610.69" y2="194.15" stroke="#e0141a" stroke-width="2.3" stroke-linecap="round"/>
<line x1="621.30" y1="178.00" x2="620.63" y2="192.68" stroke="#e0141a" stroke-width="2.3" stroke-linecap="round"/>
<line x1="633.79" y1="178.00" x2="633.79" y2="185.00" stroke="#e6c040" stroke-width="2.3" stroke-linecap="round"/>
<line x1="633.79" y1="185.00" x2="635.28" y2="193.43" stroke="#e0141a" stroke-width="2.3" stroke-linecap="round"/>
<line x1="644.62" y1="178.00" x2="645.24" y2="194.47" stroke="#e0141a" stroke-width="2.3" stroke-linecap="round"/>
<line x1="654.56" y1="178.00" x2="653.75" y2="192.27" stroke="#e0141a" stroke-width="2.3" stroke-linecap="round"/>
<line x1="665.69" y1="178.00" x2="665.69" y2="185.00" stroke="#e6c040" stroke-width="2.3" stroke-linecap="round"/>
<line x1="665.69" y1="185.00" x2="664.40" y2="192.49" stroke="#e0141a" stroke-width="2.3" stroke-linecap="round"/>
<line x1="678.04" y1="178.00" x2="677.74" y2="191.72" stroke="#e0141a" stroke-width="2.3" stroke-linecap="round"/>
<line x1="689.43" y1="178.00" x2="689.09" y2="193.25" stroke="#e0141a" stroke-width="2.3" stroke-linecap="round"/>
<line x1="700.90" y1="178.00" x2="701.94" y2="193.30" stroke="#e0141a" stroke-width="2.3" stroke-linecap="round"/>
<line x1="431.07" y1="192.13" x2="436.83" y2="203.86" stroke="#d873d8" stroke-width="2.1" stroke-linecap="round"/>
<line x1="443.12" y1="192.91" x2="436.83" y2="203.86" stroke="#e0141a" stroke-width="2.1" stroke-linecap="round"/>
<line x1="436.83" y1="203.86" x2="432.83" y2="212.00" stroke="#e0141a" stroke-width="2.1" stroke-linecap="round"/>
<line x1="436.83" y1="203.86" x2="440.83" y2="212.00" stroke="#d873d8" stroke-width="2.1" stroke-linecap="round"/>
<line x1="443.12" y1="192.91" x2="447.76" y2="202.96" stroke="#d873d8" stroke-width="2.1" stroke-linecap="round"/>
<line x1="453.68" y1="192.69" x2="447.76" y2="202.96" stroke="#d873d8" stroke-width="2.1" stroke-linecap="round"/>
<line x1="447.76" y1="202.96" x2="443.76" y2="212.00" stroke="#e0141a" stroke-width="2.1" stroke-linecap="round"/>
<line x1="447.76" y1="202.96" x2="451.76" y2="212.00" stroke="#e0141a" stroke-width="2.1" stroke-linecap="round"/>
<line x1="453.68" y1="192.69" x2="459.26" y2="205.32" stroke="#e0141a" stroke-width="2.1" stroke-linecap="round"/>
<line x1="463.88" y1="193.39" x2="459.26" y2="205.32" stroke="#d873d8" stroke-width="2.1" stroke-linecap="round"/>
<line x1="459.26" y1="205.32" x2="455.26" y2="212.00" stroke="#d873d8" stroke-width="2.1" stroke-linecap="round"/>
<line x1="459.26" y1="205.32" x2="463.26" y2="212.00" stroke="#d873d8" stroke-width="2.1" stroke-linecap="round"/>
<line x1="463.88" y1="193.39" x2="470.28" y2="202.81" stroke="#e0141a" stroke-width="2.1" stroke-linecap="round"/>
<line x1="476.99" y1="192.31" x2="470.28" y2="202.81" stroke="#d873d8" stroke-width="2.1" stroke-linecap="round"/>
<line x1="470.28" y1="202.81" x2="466.28" y2="212.00" stroke="#e0141a" stroke-width="2.1" stroke-linecap="round"/>
<line x1="470.28" y1="202.81" x2="474.28" y2="212.00" stroke="#d873d8" stroke-width="2.1" stroke-linecap="round"/>
<line x1="476.99" y1="192.31" x2="480.73" y2="204.97" stroke="#e0141a" stroke-width="2.1" stroke-linecap="round"/>
<line x1="485.44" y1="192.50" x2="480.73" y2="204.97" stroke="#e0141a" stroke-width="2.1" stroke-linecap="round"/>
<line x1="480.73" y1="204.97" x2="476.73" y2="212.00" stroke="#e0141a" stroke-width="2.1" stroke-linecap="round"/>
<line x1="480.73" y1="204.97" x2="484.73" y2="212.00" stroke="#d873d8" stroke-width="2.1" stroke-linecap="round"/>
<line x1="485.44" y1="192.50" x2="490.93" y2="203.19" stroke="#e0141a" stroke-width="2.1" stroke-linecap="round"/>
<line x1="498.15" y1="193.77" x2="490.93" y2="203.19" stroke="#d873d8" stroke-width="2.1" stroke-linecap="round"/>
<line x1="490.93" y1="203.19" x2="486.93" y2="212.00" stroke="#d873d8" stroke-width="2.1" stroke-linecap="round"/>
<line x1="490.93" y1="203.19" x2="494.93" y2="212.00" stroke="#e0141a" stroke-width="2.1" stroke-linecap="round"/>
<line x1="498.15" y1="193.77" x2="504.15" y2="203.11" stroke="#e0141a" stroke-width="2.1" stroke-linecap="round"/>
<line x1="508.49" y1="192.24" x2="504.15" y2="203.11" stroke="#e0141a" stroke-width="2.1" stroke-linecap="round"/>
<line x1="504.15" y1="203.11" x2="500.15" y2="212.00" stroke="#e0141a" stroke-width="2.1" stroke-linecap="round"/>
<line x1="504.15" y1="203.11" x2="508.15" y2="212.00" stroke="#e0141a" stroke-width="2.1" stroke-linecap="round"/>
<line x1="508.49" y1="192.24" x2="515.17" y2="203.61" stroke="#e0141a" stroke-width="2.1" stroke-linecap="round"/>
<line x1="523.15" y1="191.68" x2="515.17" y2="203.61" stroke="#e0141a" stroke-width="2.1" stroke-linecap="round"/>
<line x1="515.17" y1="203.61" x2="511.17" y2="212.00" stroke="#e0141a" stroke-width="2.1" stroke-linecap="round"/>
<line x1="515.17" y1="203.61" x2="519.17" y2="212.00" stroke="#d873d8" stroke-width="2.1" stroke-linecap="round"/>
<line x1="523.15" y1="191.68" x2="528.79" y2="204.47" stroke="#d873d8" stroke-width="2.1" stroke-linecap="round"/>
<line x1="532.52" y1="192.03" x2="528.79" y2="204.47" stroke="#e0141a" stroke-width="2.1" stroke-linecap="round"/>
<line x1="528.79" y1="204.47" x2="524.79" y2="212.00" stroke="#e0141a" stroke-width="2.1" stroke-linecap="round"/>
<line x1="528.79" y1="204.47" x2="532.79" y2="212.00" stroke="#e0141a" stroke-width="2.1" stroke-linecap="round"/>
<line x1="532.52" y1="192.03" x2="535.66" y2="205.23" stroke="#d873d8" stroke-width="2.1" stroke-linecap="round"/>
<line x1="540.72" y1="192.84" x2="535.66" y2="205.23" stroke="#d873d8" stroke-width="2.1" stroke-linecap="round"/>
<line x1="535.66" y1="205.23" x2="531.66" y2="212.00" stroke="#e0141a" stroke-width="2.1" stroke-linecap="round"/>
<line x1="535.66" y1="205.23" x2="539.66" y2="212.00" stroke="#d873d8" stroke-width="2.1" stroke-linecap="round"/>
<line x1="540.72" y1="192.84" x2="546.80" y2="204.69" stroke="#e0141a" stroke-width="2.1" stroke-linecap="round"/>
<line x1="552.95" y1="193.70" x2="546.80" y2="204.69" stroke="#d873d8" stroke-width="2.1" stroke-linecap="round"/>
<line x1="546.80" y1="204.69" x2="542.80" y2="212.00" stroke="#e0141a" stroke-width="2.1" stroke-linecap="round"/>
<line x1="546.80" y1="204.69" x2="550.80" y2="212.00" stroke="#d873d8" stroke-width="2.1" stroke-linecap="round"/>
<line x1="552.95" y1="193.70" x2="558.89" y2="205.20" stroke="#d873d8" stroke-width="2.1" stroke-linecap="round"/>
<line x1="563.88" y1="193.43" x2="558.89" y2="205.20" stroke="#d873d8" stroke-width="2.1" stroke-linecap="round"/>
<line x1="558.89" y1="205.20" x2="554.89" y2="212.00" stroke="#d873d8" stroke-width="2.1" stroke-linecap="round"/>
<line x1="558.89" y1="205.20" x2="562.89" y2="212.00" stroke="#d873d8" stroke-width="2.1" stroke-linecap="round"/>
<line x1="563.88" y1="193.43" x2="569.33" y2="204.56" stroke="#d873d8" stroke-width="2.1" stroke-linecap="round"/>
<line x1="575.36" y1="192.76" x2="569.33" y2="204.56" stroke="#d873d8" stroke-width="2.1" stroke-linecap="round"/>
<line x1="569.33" y1="204.56" x2="565.33" y2="212.00" stroke="#e0141a" stroke-width="2.1" stroke-linecap="round"/>
<line x1="569.33" y1="204.56" x2="573.33" y2="212.00" stroke="#d873d8" stroke-width="2.1" stroke-linecap="round"/>
<line x1="575.36" y1="192.76" x2="582.75" y2="204.22" stroke="#d873d8" stroke-width="2.1" stroke-linecap="round"/>
<line x1="588.68" y1="192.31" x2="582.75" y2="204.22" stroke="#e0141a" stroke-width="2.1" stroke-linecap="round"/>
<line x1="582.75" y1="204.22" x2="578.75" y2="212.00" stroke="#e0141a" stroke-width="2.1" stroke-linecap="round"/>
<line x1="582.75" y1="204.22" x2="586.75" y2="212.00" stroke="#d873d8" stroke-width="2.1" stroke-linecap="round"/>
<line x1="588.68" y1="192.31" x2="593.24" y2="204.42" stroke="#d873d8" stroke-width="2.1" stroke-linecap="round"/>
<line x1="599.47" y1="193.91" x2="593.24" y2="204.42" stroke="#d873d8" stroke-width="2.1" stroke-linecap="round"/>
<line x1="593.24" y1="204.42" x2="589.24" y2="212.00" stroke="#d873d8" stroke-width="2.1" stroke-linecap="round"/>
<line x1="593.24" y1="204.42" x2="597.24" y2="212.00" stroke="#e0141a" stroke-width="2.1" stroke-linecap="round"/>
<line x1="599.47" y1="193.91" x2="605.55" y2="204.24" stroke="#e0141a" stroke-width="2.1" stroke-linecap="round"/>
<line x1="610.69" y1="194.15" x2="605.55" y2="204.24" stroke="#d873d8" stroke-width="2.1" stroke-linecap="round"/>
<line x1="605.55" y1="204.24" x2="601.55" y2="212.00" stroke="#e0141a" stroke-width="2.1" stroke-linecap="round"/>
<line x1="605.55" y1="204.24" x2="609.55" y2="212.00" stroke="#d873d8" stroke-width="2.1" stroke-linecap="round"/>
<line x1="610.69" y1="194.15" x2="614.72" y2="204.30" stroke="#e0141a" stroke-width="2.1" stroke-linecap="round"/>
<line x1="620.63" y1="192.68" x2="614.72" y2="204.30" stroke="#e0141a" stroke-width="2.1" stroke-linecap="round"/>
<line x1="614.72" y1="204.30" x2="610.72" y2="212.00" stroke="#d873d8" stroke-width="2.1" stroke-linecap="round"/>
<line x1="614.72" y1="204.30" x2="618.72" y2="212.00" stroke="#e0141a" stroke-width="2.1" stroke-linecap="round"/>
<line x1="620.63" y1="192.68" x2="628.19" y2="205.26" stroke="#e0141a" stroke-width="2.1" stroke-linecap="round"/>
<line x1="635.28" y1="193.43" x2="628.19" y2="205.26" stroke="#e0141a" stroke-width="2.1" stroke-linecap="round"/>
<line x1="628.19" y1="205.26" x2="624.19" y2="212.00" stroke="#e0141a" stroke-width="2.1" stroke-linecap="round"/>
<line x1="628.19" y1="205.26" x2="632.19" y2="212.00" stroke="#d873d8" stroke-width="2.1" stroke-linecap="round"/>
<line x1="635.28" y1="193.43" x2="639.67" y2="203.01" stroke="#d873d8" stroke-width="2.1" stroke-linecap="round"/>
<line x1="645.24" y1="194.47" x2="639.67" y2="203.01" stroke="#d873d8" stroke-width="2.1" stroke-linecap="round"/>
<line x1="639.67" y1="203.01" x2="635.67" y2="212.00" stroke="#e0141a" stroke-width="2.1" stroke-linecap="round"/>
<line x1="639.67" y1="203.01" x2="643.67" y2="212.00" stroke="#d873d8" stroke-width="2.1" stroke-linecap="round"/>
<line x1="645.24" y1="194.47" x2="649.15" y2="204.50" stroke="#e0141a" stroke-width="2.1" stroke-linecap="round"/>
<line x1="653.75" y1="192.27" x2="649.15" y2="204.50" stroke="#e0141a" stroke-width="2.1" stroke-linecap="round"/>
<line x1="649.15" y1="204.50" x2="645.15" y2="212.00" stroke="#d873d8" stroke-width="2.1" stroke-linecap="round"/>
<line x1="649.15" y1="204.50" x2="653.15" y2="212.00" stroke="#d873d8" stroke-width="2.1" stroke-linecap="round"/>
<line x1="653.75" y1="192.27" x2="659.84" y2="203.65" stroke="#e0141a" stroke-width="2.1" stroke-linecap="round"/>
<line x1="664.40" y1="192.49" x2="659.84" y2="203.65" stroke="#e0141a" stroke-width="2.1" stroke-linecap="round"/>
<line x1="659.84" y1="203.65" x2="655.84" y2="212.00" stroke="#e0141a" stroke-width="2.1" stroke-linecap="round"/>
<line x1="659.84" y1="203.65" x2="663.84" y2="212.00" stroke="#e0141a" stroke-width="2.1" stroke-linecap="round"/>
<line x1="664.40" y1="192.49" x2="671.75" y2="205.05" stroke="#d873d8" stroke-width="2.1" stroke-linecap="round"/>
<line x1="677.74" y1="191.72" x2="671.75" y2="205.05" stroke="#d873d8" stroke-width="2.1" stroke-linecap="round"/>
<line x1="671.75" y1="205.05" x2="667.75" y2="212.00" stroke="#e0141a" stroke-width="2.1" stroke-linecap="round"/>
<line x1="671.75" y1="205.05" x2="675.75" y2="212.00" stroke="#e0141a" stroke-width="2.1" stroke-linecap="round"/>
<line x1="677.74" y1="191.72" x2="683.32" y2="203.33" stroke="#e0141a" stroke-width="2.1" stroke-linecap="round"/>
<line x1="689.09" y1="193.25" x2="683.32" y2="203.33" stroke="#e0141a" stroke-width="2.1" stroke-linecap="round"/>
<line x1="683.32" y1="203.33" x2="679.32" y2="212.00" stroke="#d873d8" stroke-width="2.1" stroke-linecap="round"/>
<line x1="683.32" y1="203.33" x2="687.32" y2="212.00" stroke="#e0141a" stroke-width="2.1" stroke-linecap="round"/>
<line x1="689.09" y1="193.25" x2="695.15" y2="205.02" stroke="#d873d8" stroke-width="2.1" stroke-linecap="round"/>
<line x1="701.94" y1="193.30" x2="695.15" y2="205.02" stroke="#e0141a" stroke-width="2.1" stroke-linecap="round"/>
<line x1="695.15" y1="205.02" x2="691.15" y2="212.00" stroke="#e0141a" stroke-width="2.1" stroke-linecap="round"/>
<line x1="695.15" y1="205.02" x2="699.15" y2="212.00" stroke="#e0141a" stroke-width="2.1" stroke-linecap="round"/>
<circle cx="443.12" cy="192.91" r="2.87" fill="url(#gO)"/>
<circle cx="453.68" cy="192.69" r="2.55" fill="url(#gO)"/>
<circle cx="476.99" cy="192.31" r="2.41" fill="url(#gO)"/>
<circle cx="485.44" cy="192.50" r="2.32" fill="url(#gO)"/>
<circle cx="508.49" cy="192.24" r="2.41" fill="url(#gO)"/>
<circle cx="523.15" cy="191.68" r="2.80" fill="url(#gO)"/>
<circle cx="532.52" cy="192.03" r="2.80" fill="url(#gO)"/>
<circle cx="540.72" cy="192.84" r="2.95" fill="url(#gO)"/>
<circle cx="563.88" cy="193.43" r="2.46" fill="url(#gO)"/>
<circle cx="575.36" cy="192.76" r="2.44" fill="url(#gO)"/>
<circle cx="588.68" cy="192.31" r="2.68" fill="url(#gO)"/>
<circle cx="610.69" cy="194.15" r="2.52" fill="url(#gO)"/>
<circle cx="620.63" cy="192.68" r="2.86" fill="url(#gO)"/>
<circle cx="635.28" cy="193.43" r="2.79" fill="url(#gO)"/>
<circle cx="653.75" cy="192.27" r="2.93" fill="url(#gO)"/>
<circle cx="677.74" cy="191.72" r="3.05" fill="url(#gO)"/>
<circle cx="701.94" cy="193.30" r="2.66" fill="url(#gO)"/>
<circle cx="459.26" cy="205.32" r="3.28" fill="url(#gO)"/>
<circle cx="504.15" cy="203.11" r="3.38" fill="url(#gO)"/>
<circle cx="515.17" cy="203.61" r="3.47" fill="url(#gO)"/>
<circle cx="558.89" cy="205.20" r="3.68" fill="url(#gO)"/>
<circle cx="593.24" cy="204.42" r="3.55" fill="url(#gO)"/>
<circle cx="605.55" cy="204.24" r="3.69" fill="url(#gO)"/>
<circle cx="628.19" cy="205.26" r="2.70" fill="url(#gO)"/>
<circle cx="639.67" cy="203.01" r="3.26" fill="url(#gO)"/>
<circle cx="659.84" cy="203.65" r="2.63" fill="url(#gO)"/>
<circle cx="683.32" cy="203.33" r="3.56" fill="url(#gO)"/>
<circle cx="695.15" cy="205.02" r="3.00" fill="url(#gO)"/>
<line x1="466.00" y1="178.30" x2="466.86" y2="185.30" stroke="#e6c040" stroke-width="2.2" stroke-linecap="round"/>
<line x1="466.86" y1="185.30" x2="465.79" y2="195.30" stroke="#e0141a" stroke-width="2.0" stroke-linecap="round"/>
<line x1="512.70" y1="177.00" x2="511.65" y2="184.00" stroke="#e6c040" stroke-width="2.2" stroke-linecap="round"/>
<line x1="511.65" y1="184.00" x2="511.70" y2="194.00" stroke="#e0141a" stroke-width="2.0" stroke-linecap="round"/>
<line x1="525.30" y1="176.30" x2="525.97" y2="183.30" stroke="#e6c040" stroke-width="2.2" stroke-linecap="round"/>
<line x1="525.97" y1="183.30" x2="526.99" y2="193.30" stroke="#e0141a" stroke-width="2.0" stroke-linecap="round"/>
<line x1="547.30" y1="178.30" x2="547.87" y2="185.30" stroke="#e6c040" stroke-width="2.2" stroke-linecap="round"/>
<line x1="547.87" y1="185.30" x2="549.21" y2="195.30" stroke="#e0141a" stroke-width="2.0" stroke-linecap="round"/>
<line x1="584.70" y1="176.30" x2="584.68" y2="183.30" stroke="#e6c040" stroke-width="2.2" stroke-linecap="round"/>
<line x1="584.68" y1="183.30" x2="586.03" y2="193.30" stroke="#e0141a" stroke-width="2.0" stroke-linecap="round"/>
<line x1="627.10" y1="177.70" x2="625.86" y2="184.70" stroke="#e6c040" stroke-width="2.2" stroke-linecap="round"/>
<line x1="625.86" y1="184.70" x2="625.02" y2="194.70" stroke="#e0141a" stroke-width="2.0" stroke-linecap="round"/>
<line x1="657.90" y1="177.70" x2="657.98" y2="184.70" stroke="#e6c040" stroke-width="2.2" stroke-linecap="round"/>
<line x1="657.98" y1="184.70" x2="657.35" y2="194.70" stroke="#e0141a" stroke-width="2.0" stroke-linecap="round"/>
<line x1="600.00" y1="177.00" x2="600.69" y2="184.00" stroke="#e6c040" stroke-width="2.2" stroke-linecap="round"/>
<line x1="600.69" y1="184.00" x2="601.10" y2="194.00" stroke="#e0141a" stroke-width="2.0" stroke-linecap="round"/>
<line x1="500.00" y1="175.70" x2="497.00" y2="191.70" stroke="#d873d8" stroke-width="2.0" stroke-linecap="round"/>
<line x1="556.00" y1="177.00" x2="553.00" y2="193.00" stroke="#d873d8" stroke-width="2.0" stroke-linecap="round"/>
<line x1="612.50" y1="174.80" x2="609.50" y2="190.80" stroke="#d873d8" stroke-width="2.0" stroke-linecap="round"/>
<line x1="669.00" y1="175.50" x2="666.00" y2="191.50" stroke="#d873d8" stroke-width="2.0" stroke-linecap="round"/>
<circle cx="435.30" cy="200.30" r="3.00" fill="url(#gO)"/>
<circle cx="460.00" cy="195.00" r="3.00" fill="url(#gO)"/>
<circle cx="463.30" cy="203.00" r="4.00" fill="url(#gO)"/>
<circle cx="479.30" cy="193.00" r="2.50" fill="url(#gO)"/>
<circle cx="494.00" cy="194.30" r="3.00" fill="url(#gO)"/>
<circle cx="498.70" cy="207.00" r="4.70" fill="url(#gO)"/>
<circle cx="507.30" cy="199.70" r="3.30" fill="url(#gO)"/>
<circle cx="522.70" cy="195.00" r="3.00" fill="url(#gO)"/>
<circle cx="531.30" cy="192.30" r="2.50" fill="url(#gO)"/>
<circle cx="545.30" cy="203.00" r="4.00" fill="url(#gO)"/>
<circle cx="551.30" cy="193.70" r="2.50" fill="url(#gO)"/>
<circle cx="558.70" cy="190.30" r="2.50" fill="url(#gO)"/>
<circle cx="550.70" cy="197.70" r="3.00" fill="url(#gO)"/>
<circle cx="586.00" cy="195.00" r="3.00" fill="url(#gO)"/>
<circle cx="587.30" cy="206.30" r="4.50" fill="url(#gO)"/>
<circle cx="607.30" cy="190.20" r="2.50" fill="url(#gO)"/>
<circle cx="617.60" cy="198.30" r="3.00" fill="url(#gO)"/>
<circle cx="627.90" cy="202.70" r="4.00" fill="url(#gO)"/>
<circle cx="647.70" cy="194.60" r="3.00" fill="url(#gO)"/>
<circle cx="654.30" cy="199.00" r="3.50" fill="url(#gO)"/>
<circle cx="664.50" cy="193.10" r="2.50" fill="url(#gO)"/>
<circle cx="658.70" cy="189.50" r="2.50" fill="url(#gO)"/>
<circle cx="679.20" cy="206.30" r="3.00" fill="url(#gO)"/>
<circle cx="690.00" cy="200.00" r="2.50" fill="url(#gO)"/>
<circle cx="440.00" cy="186.00" r="2.50" fill="url(#gO)"/>
<circle cx="572.00" cy="186.00" r="2.50" fill="url(#gO)"/>
<circle cx="600.00" cy="186.00" r="2.40" fill="url(#gO)"/>
<circle cx="471.30" cy="189.70" r="2.70" fill="url(#gH)"/>
<circle cx="474.70" cy="197.70" r="3.00" fill="url(#gH)"/>
<circle cx="485.30" cy="203.70" r="4.30" fill="url(#gH)"/>
<circle cx="526.00" cy="189.70" r="2.50" fill="url(#gH)"/>
<circle cx="542.00" cy="197.70" r="2.50" fill="url(#gH)"/>
<circle cx="578.70" cy="189.00" r="2.50" fill="url(#gH)"/>
<circle cx="580.00" cy="203.00" r="4.50" fill="url(#gH)"/>
<circle cx="633.00" cy="188.70" r="2.50" fill="url(#gH)"/>
<circle cx="613.20" cy="198.30" r="3.50" fill="url(#gH)"/>
<circle cx="674.80" cy="202.70" r="4.50" fill="url(#gH)"/>
<circle cx="682.90" cy="197.50" r="3.50" fill="url(#gH)"/>
<line x1="450.70" y1="166.40" x2="465.30" y2="171.30" stroke="#e0141a" stroke-width="1.8" stroke-linecap="round"/>
<line x1="465.30" y1="171.30" x2="483.30" y2="168.70" stroke="#e0141a" stroke-width="1.8" stroke-linecap="round"/>
<line x1="492.00" y1="168.30" x2="503.30" y2="168.70" stroke="#e0141a" stroke-width="1.8" stroke-linecap="round"/>
<line x1="503.30" y1="168.70" x2="516.00" y2="168.70" stroke="#e0141a" stroke-width="1.8" stroke-linecap="round"/>
<line x1="524.70" y1="169.30" x2="532.00" y2="171.30" stroke="#e0141a" stroke-width="1.8" stroke-linecap="round"/>
<line x1="532.00" y1="171.30" x2="538.70" y2="166.70" stroke="#e0141a" stroke-width="1.8" stroke-linecap="round"/>
<line x1="544.00" y1="168.70" x2="549.30" y2="170.70" stroke="#e0141a" stroke-width="1.8" stroke-linecap="round"/>
<line x1="549.30" y1="170.70" x2="554.70" y2="168.70" stroke="#e0141a" stroke-width="1.8" stroke-linecap="round"/>
<line x1="570.00" y1="170.70" x2="582.00" y2="168.70" stroke="#e0141a" stroke-width="1.8" stroke-linecap="round"/>
<line x1="582.00" y1="168.70" x2="592.00" y2="169.50" stroke="#e0141a" stroke-width="1.8" stroke-linecap="round"/>
<line x1="602.20" y1="167.70" x2="606.60" y2="170.70" stroke="#e0141a" stroke-width="1.8" stroke-linecap="round"/>
<line x1="606.60" y1="170.70" x2="619.80" y2="169.20" stroke="#e0141a" stroke-width="1.8" stroke-linecap="round"/>
<line x1="627.10" y1="165.50" x2="646.20" y2="167.00" stroke="#e0141a" stroke-width="1.8" stroke-linecap="round"/>
<line x1="646.20" y1="167.00" x2="662.30" y2="167.70" stroke="#e0141a" stroke-width="1.8" stroke-linecap="round"/>
<line x1="676.30" y1="170.70" x2="682.10" y2="170.70" stroke="#e0141a" stroke-width="1.8" stroke-linecap="round"/>
<line x1="682.10" y1="170.70" x2="688.70" y2="170.70" stroke="#e0141a" stroke-width="1.8" stroke-linecap="round"/>
<line x1="436.00" y1="178.30" x2="450.70" y2="165.40" stroke="#b02858" stroke-width="3.0" stroke-linecap="round"/>
<line x1="436.00" y1="178.30" x2="465.30" y2="170.30" stroke="#e0141a" stroke-width="3.0" stroke-linecap="round"/>
<line x1="436.00" y1="178.30" x2="427.00" y2="212.00" stroke="#e0141a" stroke-width="3.2" stroke-linecap="round"/>
<line x1="436.00" y1="178.30" x2="430.00" y2="205.00" stroke="#d873d8" stroke-width="2.6" stroke-linecap="round"/>
<line x1="466.00" y1="178.30" x2="465.30" y2="170.30" stroke="#e6c040" stroke-width="2.6" stroke-linecap="round"/>
<line x1="466.00" y1="178.30" x2="483.30" y2="167.70" stroke="#e6c040" stroke-width="2.4" stroke-linecap="round"/>
<line x1="466.00" y1="178.30" x2="463.30" y2="203.00" stroke="#e6c040" stroke-width="2.4" stroke-linecap="round"/>
<line x1="512.70" y1="177.00" x2="516.00" y2="167.70" stroke="#e6c040" stroke-width="2.4" stroke-linecap="round"/>
<line x1="512.70" y1="177.00" x2="503.30" y2="167.70" stroke="#e6c040" stroke-width="2.2" stroke-linecap="round"/>
<line x1="537.30" y1="178.30" x2="538.70" y2="165.70" stroke="#b02858" stroke-width="2.8" stroke-linecap="round"/>
<line x1="537.30" y1="178.30" x2="570.00" y2="169.70" stroke="#e0141a" stroke-width="3.0" stroke-linecap="round"/>
<line x1="537.30" y1="178.30" x2="530.00" y2="212.00" stroke="#d873d8" stroke-width="3.0" stroke-linecap="round"/>
<line x1="532.00" y1="190.00" x2="527.00" y2="212.00" stroke="#e0141a" stroke-width="3.0" stroke-linecap="round"/>
<line x1="584.70" y1="176.30" x2="582.00" y2="167.70" stroke="#e6c040" stroke-width="2.4" stroke-linecap="round"/>
<line x1="584.70" y1="176.30" x2="570.00" y2="169.70" stroke="#e6c040" stroke-width="2.4" stroke-linecap="round"/>
<line x1="584.70" y1="176.30" x2="602.20" y2="166.70" stroke="#e6c040" stroke-width="2.4" stroke-linecap="round"/>
<line x1="638.90" y1="177.70" x2="627.10" y2="164.50" stroke="#8a2a6a" stroke-width="3.0" stroke-linecap="round"/>
<line x1="638.90" y1="177.70" x2="676.30" y2="169.70" stroke="#e0141a" stroke-width="3.0" stroke-linecap="round"/>
<line x1="638.90" y1="177.70" x2="635.00" y2="212.00" stroke="#d873d8" stroke-width="3.0" stroke-linecap="round"/>
<line x1="632.00" y1="195.00" x2="628.00" y2="212.00" stroke="#e0141a" stroke-width="3.0" stroke-linecap="round"/>
<line x1="627.10" y1="177.70" x2="627.90" y2="202.70" stroke="#e6c040" stroke-width="2.4" stroke-linecap="round"/>
<line x1="627.10" y1="177.70" x2="606.60" y2="169.70" stroke="#e6c040" stroke-width="2.4" stroke-linecap="round"/>
<line x1="657.90" y1="177.70" x2="646.20" y2="166.00" stroke="#e6c040" stroke-width="2.4" stroke-linecap="round"/>
<line x1="657.90" y1="177.70" x2="662.30" y2="166.70" stroke="#e6c040" stroke-width="2.2" stroke-linecap="round"/>
<line x1="688.70" y1="169.70" x2="702.00" y2="174.80" stroke="#d8b040" stroke-width="2.4" stroke-linecap="round"/>
<line x1="664.50" y1="193.10" x2="703.00" y2="211.00" stroke="#d873d8" stroke-width="2.4" stroke-linecap="round"/>
<line x1="682.90" y1="197.50" x2="700.00" y2="208.00" stroke="#e0141a" stroke-width="2.2" stroke-linecap="round"/>
<circle cx="466.00" cy="178.30" r="3.30" fill="url(#gSi)"/>
<circle cx="512.70" cy="177.00" r="3.00" fill="url(#gSi)"/>
<circle cx="525.30" cy="176.30" r="2.50" fill="url(#gSi)"/>
<circle cx="547.30" cy="178.30" r="2.50" fill="url(#gSi)"/>
<circle cx="584.70" cy="176.30" r="3.50" fill="url(#gSi)"/>
<circle cx="627.10" cy="177.70" r="3.50" fill="url(#gSi)"/>
<circle cx="657.90" cy="177.70" r="3.00" fill="url(#gSi)"/>
<circle cx="600.00" cy="177.00" r="2.50" fill="url(#gSi)"/>
<circle cx="436.00" cy="178.30" r="4.70" fill="url(#gK)"/>
<circle cx="500.00" cy="175.70" r="2.50" fill="url(#gK)"/>
<circle cx="537.30" cy="178.30" r="4.50" fill="url(#gK)"/>
<circle cx="556.00" cy="177.00" r="2.00" fill="url(#gK)"/>
<circle cx="612.50" cy="174.80" r="2.00" fill="url(#gK)"/>
<circle cx="638.90" cy="177.70" r="5.00" fill="url(#gK)"/>
<circle cx="669.00" cy="175.50" r="2.00" fill="url(#gK)"/>
<circle cx="450.70" cy="165.40" r="5.00" fill="url(#gO)"/>
<circle cx="465.30" cy="170.30" r="5.50" fill="url(#gO)"/>
<circle cx="483.30" cy="167.70" r="3.00" fill="url(#gO)"/>
<circle cx="492.00" cy="167.30" r="4.50" fill="url(#gO)"/>
<circle cx="503.30" cy="167.70" r="3.00" fill="url(#gO)"/>
<circle cx="516.00" cy="167.70" r="3.50" fill="url(#gO)"/>
<circle cx="524.70" cy="168.30" r="2.50" fill="url(#gO)"/>
<circle cx="532.00" cy="170.30" r="3.50" fill="url(#gO)"/>
<circle cx="538.70" cy="165.70" r="4.50" fill="url(#gO)"/>
<circle cx="544.00" cy="167.70" r="2.50" fill="url(#gO)"/>
<circle cx="549.30" cy="169.70" r="2.50" fill="url(#gO)"/>
<circle cx="554.70" cy="167.70" r="2.50" fill="url(#gO)"/>
<circle cx="570.00" cy="169.70" r="5.50" fill="url(#gO)"/>
<circle cx="582.00" cy="167.70" r="3.50" fill="url(#gO)"/>
<circle cx="592.00" cy="168.50" r="2.60" fill="url(#gO)"/>
<circle cx="602.20" cy="166.70" r="3.00" fill="url(#gO)"/>
<circle cx="606.60" cy="169.70" r="3.50" fill="url(#gO)"/>
<circle cx="619.80" cy="168.20" r="2.50" fill="url(#gO)"/>
<circle cx="627.10" cy="164.50" r="4.50" fill="url(#gO)"/>
<circle cx="646.20" cy="166.00" r="4.00" fill="url(#gO)"/>
<circle cx="662.30" cy="166.70" r="3.00" fill="url(#gO)"/>
<circle cx="676.30" cy="169.70" r="5.50" fill="url(#gO)"/>
<circle cx="682.10" cy="169.70" r="3.00" fill="url(#gO)"/>
<circle cx="688.70" cy="169.70" r="3.00" fill="url(#gO)"/>
</g>
<line x1="556.70" y1="93.70" x2="552.70" y2="101.70" stroke="#e01818" stroke-width="2.6" stroke-linecap="round"/>
<line x1="552.70" y1="101.70" x2="552.00" y2="106.30" stroke="#2030e0" stroke-width="2.6" stroke-linecap="round"/>
<line x1="519.30" y1="107.70" x2="514.00" y2="109.00" stroke="#2030e0" stroke-width="2.6" stroke-linecap="round"/>
<circle cx="536.70" cy="75.70" r="7.10" fill="url(#gH)"/>
<circle cx="558.70" cy="77.70" r="6.50" fill="url(#gH)"/>
<circle cx="547.30" cy="84.30" r="9.20" fill="url(#gO)"/>
<circle cx="556.70" cy="93.70" r="3.40" fill="url(#gO)"/>
<circle cx="552.70" cy="101.70" r="2.60" fill="url(#gN)"/>
<circle cx="552.00" cy="106.30" r="3.40" fill="url(#gO)"/>
<circle cx="512.70" cy="97.00" r="9.40" fill="url(#gO)"/>
<circle cx="510.70" cy="85.00" r="8.00" fill="url(#gH)"/>
<circle cx="500.00" cy="101.00" r="7.80" fill="url(#gH)"/>
<circle cx="514.00" cy="109.00" r="2.80" fill="url(#gN)"/>
<circle cx="519.30" cy="107.70" r="4.00" fill="url(#gO)"/>
<circle cx="542.00" cy="115.00" r="12.60" fill="url(#gLa)"/>
<circle cx="568.00" cy="112.30" r="5.00" fill="url(#gO)"/>
<circle cx="568.70" cy="124.30" r="8.40" fill="url(#gO)"/>
<circle cx="514.70" cy="135.00" r="8.50" fill="url(#gO)"/>
<circle cx="514.70" cy="147.00" r="7.20" fill="url(#gH)"/>
<circle cx="501.30" cy="129.70" r="7.20" fill="url(#gH)"/>
<circle cx="513.30" cy="125.70" r="8.00" fill="url(#gH)"/>
<circle cx="525.30" cy="120.30" r="9.20" fill="url(#gO)"/>
<circle cx="536.00" cy="117.70" r="8.50" fill="url(#gH)"/>
<circle cx="530.70" cy="137.00" r="5.30" fill="url(#gH)"/>
<circle cx="540.70" cy="136.30" r="8.00" fill="url(#gO)"/>
<circle cx="557.30" cy="151.70" r="6.00" fill="url(#gH)"/>
<circle cx="548.00" cy="144.30" r="9.20" fill="url(#gO)"/>
<circle cx="542.70" cy="153.00" r="7.20" fill="url(#gH)"/>
<line x1="582.70" y1="118.70" x2="595.20" y2="108.50" stroke="#2030e0" stroke-width="2.6" stroke-linecap="round"/>
<line x1="582.70" y1="118.70" x2="586.40" y2="132.00" stroke="#2030e0" stroke-width="2.6" stroke-linecap="round"/>
<line x1="566.60" y1="112.10" x2="582.70" y2="118.70" stroke="#e01818" stroke-width="2.6" stroke-linecap="round"/>
<line x1="627.50" y1="115.80" x2="634.80" y2="124.60" stroke="#2030e0" stroke-width="2.6" stroke-linecap="round"/>
<line x1="634.80" y1="124.60" x2="645.00" y2="132.00" stroke="#2030e0" stroke-width="2.6" stroke-linecap="round"/>
<circle cx="577.60" cy="118.70" r="5.00" fill="url(#gH)"/>
<circle cx="582.70" cy="118.70" r="4.00" fill="url(#gN)"/>
<circle cx="566.60" cy="112.10" r="4.70" fill="url(#gO)"/>
<circle cx="595.20" cy="108.50" r="5.00" fill="url(#gO)"/>
<circle cx="586.40" cy="132.00" r="4.70" fill="url(#gO)"/>
<circle cx="603.30" cy="105.50" r="6.50" fill="url(#gH)"/>
<circle cx="601.00" cy="125.30" r="6.20" fill="url(#gH)"/>
<circle cx="593.00" cy="143.70" r="5.90" fill="url(#gH)"/>
<circle cx="598.00" cy="135.60" r="7.60" fill="url(#gO)"/>
<circle cx="624.50" cy="106.30" r="6.50" fill="url(#gH)"/>
<circle cx="612.80" cy="111.40" r="8.00" fill="url(#gO)"/>
<circle cx="627.50" cy="115.80" r="3.50" fill="url(#gO)"/>
<circle cx="634.80" cy="124.60" r="3.50" fill="url(#gN)"/>
<circle cx="657.50" cy="133.40" r="5.90" fill="url(#gH)"/>
<circle cx="645.00" cy="132.00" r="9.30" fill="url(#gO)"/>
<circle cx="648.70" cy="120.20" r="7.20" fill="url(#gH)"/>
<circle cx="616.50" cy="145.90" r="13.00" fill="url(#gLa)"/>
<circle cx="620.90" cy="132.00" r="9.80" fill="url(#gO)"/>
<circle cx="615.70" cy="119.50" r="7.80" fill="url(#gH)"/>
<circle cx="622.30" cy="138.50" r="8.60" fill="url(#gH)"/>
</g>
<g id="panelC">
<rect x="89.3" y="311.6" width="40.7" height="225.79999999999995" fill="#e0f1fc"/>
<rect x="130" y="311.6" width="39.80000000000001" height="225.79999999999995" fill="#b9def6"/>
<rect x="259.3" y="311.6" width="36.89999999999998" height="225.79999999999995" fill="#b9def6"/>
<rect x="296.2" y="311.6" width="43.30000000000001" height="225.79999999999995" fill="#e0f1fc"/>
<polyline points="113.60,537.40 119.20,532.00 124.80,531.10 129.40,533.00 133.20,535.80 136.90,520.00 138.20,490.00 145.30,344.40 150.90,454.60 156.50,497.50 162.00,531.00 165.80,535.00 173.90,530.90 179.10,532.30 187.10,537.20 259.70,537.20 264.10,533.50 266.50,527.00 269.70,507.20 275.00,372.60 279.20,423.00 282.30,461.00 284.40,507.20 286.50,534.50 290.70,535.60 295.00,534.50 299.20,513.50 303.40,484.00 306.50,503.00 310.70,519.80 314.90,534.50 317.00,537.20" fill="none" stroke="#e6aa1e" stroke-width="1.35" stroke-linejoin="round" />
<polyline points="108.50,537.40 109.50,533.00 112.60,514.30 117.30,503.00 121.40,523.60 125.10,510.60 129.40,525.50 134.10,514.30 137.50,498.00 141.60,454.60 145.70,442.70 150.00,488.00 152.80,487.30 157.40,459.30 162.10,506.90 165.90,527.20 169.50,530.90 173.90,526.50 178.30,524.30 182.70,521.30 187.10,520.60 190.10,512.50 193.70,514.70 198.10,528.70 202.50,534.20 206.90,527.90 210.60,516.60 214.30,518.40 217.90,530.10 221.60,536.30 224.00,537.20 233.30,537.20 237.70,527.20 242.10,525.40 246.50,530.10 251.70,526.50 254.60,526.50 259.00,519.90 262.40,511.40 266.60,517.70 270.80,523.00 275.00,507.20 279.20,450.40 283.40,419.90 287.00,412.10 289.70,444.10 292.80,492.50 296.00,519.80 299.20,526.10 303.40,507.20 306.50,511.40 311.40,508.20 314.90,519.80 320.20,535.60 326.50,537.20 331.70,526.10 337.00,530.30 339.10,537.20" fill="none" stroke="#1e7f9c" stroke-width="1.35" stroke-linejoin="round" />
<polyline points="89.50,537.40 90.30,537.20 93.00,535.80 97.20,521.80 100.50,534.00 105.20,532.00 109.90,490.00 113.60,468.60 117.30,492.00 121.40,510.60 125.70,520.00 128.90,514.30 133.20,512.50 136.90,492.00 139.30,454.60 141.20,385.50 145.30,404.30 149.00,436.00 152.80,469.60 156.50,495.70 160.20,525.50 164.00,535.80 165.90,537.20 178.30,537.20 182.00,532.30 187.10,520.60 190.80,522.00 194.50,506.00 198.40,502.30 202.50,519.90 206.20,530.10 209.90,524.30 214.30,514.00 218.70,517.00 222.30,517.70 226.70,504.00 230.40,509.30 234.80,497.10 238.80,492.00 242.90,494.90 246.50,505.20 250.90,524.30 255.30,535.30 258.30,533.10 261.30,526.10 266.60,515.60 270.80,514.50 276.00,482.00 283.00,438.80 286.50,458.80 291.80,496.70 296.00,493.50 299.20,492.50 303.40,499.80 311.40,465.10 318.10,494.60 322.30,528.20 324.40,537.00" fill="none" stroke="#e62a2a" stroke-width="1.35" stroke-linejoin="round" />
<rect x="60.60" y="311.60" width="303.30" height="225.80" fill="none" stroke="#161616" stroke-width="1.5"/>
<text x="60.60" y="551.00" font-size="12.8" text-anchor="middle" fill="#1a1a1a" >0</text>
<line x1="111.15" y1="537.40" x2="111.15" y2="535.20" stroke="#161616" stroke-width="1.1" />
<line x1="161.70" y1="537.40" x2="161.70" y2="533.60" stroke="#161616" stroke-width="1.1" />
<text x="161.70" y="551.00" font-size="12.8" text-anchor="middle" fill="#1a1a1a" >0.5</text>
<line x1="212.25" y1="537.40" x2="212.25" y2="535.20" stroke="#161616" stroke-width="1.1" />
<line x1="262.80" y1="537.40" x2="262.80" y2="533.60" stroke="#161616" stroke-width="1.1" />
<text x="262.80" y="551.00" font-size="12.8" text-anchor="middle" fill="#1a1a1a" >1.0</text>
<line x1="313.35" y1="537.40" x2="313.35" y2="535.20" stroke="#161616" stroke-width="1.1" />
<text x="363.90" y="551.00" font-size="12.8" text-anchor="middle" fill="#1a1a1a" >1.5</text>
<text x="56.40" y="540.90" font-size="12.8" text-anchor="end" fill="#1a1a1a" >0</text>
<line x1="60.60" y1="514.82" x2="62.80" y2="514.82" stroke="#161616" stroke-width="1.1" />
<line x1="60.60" y1="492.24" x2="64.40" y2="492.24" stroke="#161616" stroke-width="1.1" />
<text x="56.40" y="495.74" font-size="12.8" text-anchor="end" fill="#1a1a1a" >0.005</text>
<line x1="60.60" y1="469.66" x2="62.80" y2="469.66" stroke="#161616" stroke-width="1.1" />
<line x1="60.60" y1="447.08" x2="64.40" y2="447.08" stroke="#161616" stroke-width="1.1" />
<text x="56.40" y="450.58" font-size="12.8" text-anchor="end" fill="#1a1a1a" >0.010</text>
<line x1="60.60" y1="424.50" x2="62.80" y2="424.50" stroke="#161616" stroke-width="1.1" />
<line x1="60.60" y1="401.92" x2="64.40" y2="401.92" stroke="#161616" stroke-width="1.1" />
<text x="56.40" y="405.42" font-size="12.8" text-anchor="end" fill="#1a1a1a" >0.015</text>
<line x1="60.60" y1="379.34" x2="62.80" y2="379.34" stroke="#161616" stroke-width="1.1" />
<line x1="60.60" y1="356.76" x2="64.40" y2="356.76" stroke="#161616" stroke-width="1.1" />
<text x="56.40" y="360.26" font-size="12.8" text-anchor="end" fill="#1a1a1a" >0.020</text>
<line x1="60.60" y1="334.18" x2="62.80" y2="334.18" stroke="#161616" stroke-width="1.1" />
<text x="56.40" y="315.10" font-size="12.8" text-anchor="end" fill="#1a1a1a" >0.025</text>
<line x1="64.20" y1="322.70" x2="89.00" y2="322.70" stroke="#e62a2a" stroke-width="1.4" />
<text x="96.50" y="326.60" font-size="13.3" text-anchor="start" fill="#1a1a1a" >4 M</text>
<line x1="64.20" y1="338.30" x2="89.00" y2="338.30" stroke="#1e7f9c" stroke-width="1.4" />
<text x="96.50" y="342.20" font-size="13.3" text-anchor="start" fill="#1a1a1a" >2 M</text>
<line x1="64.20" y1="353.60" x2="89.00" y2="353.60" stroke="#e6aa1e" stroke-width="1.4" />
<text x="96.50" y="357.50" font-size="13.3" text-anchor="start" fill="#1a1a1a" >1 M</text>
<line x1="132.00" y1="340.2" x2="165.60" y2="340.2" stroke="#111" stroke-width="1.4"/>
<path d="M129.00,340.2 L134.20,337.60 L132.80,340.2 L134.20,342.80 Z" fill="#111"/>
<path d="M168.60,340.2 L163.40,337.60 L164.80,340.2 L163.40,342.80 Z" fill="#111"/>
<line x1="262.20" y1="340.3" x2="295.80" y2="340.3" stroke="#111" stroke-width="1.4"/>
<path d="M259.20,340.3 L264.40,337.70 L263.00,340.3 L264.40,342.90 Z" fill="#111"/>
<path d="M298.80,340.3 L293.60,337.70 L295.00,340.3 L293.60,342.90 Z" fill="#111"/>
<line x1="94.00" y1="436.0" x2="127.60" y2="436.0" stroke="#111" stroke-width="1.4"/>
<path d="M91.00,436.0 L96.20,433.40 L94.80,436.0 L96.20,438.60 Z" fill="#111"/>
<path d="M130.60,436.0 L125.40,433.40 L126.80,436.0 L125.40,438.60 Z" fill="#111"/>
<line x1="303.00" y1="434.6" x2="337.20" y2="434.6" stroke="#111" stroke-width="1.4"/>
<path d="M300.00,434.6 L305.20,432.00 L303.80,434.6 L305.20,437.20 Z" fill="#111"/>
<path d="M340.20,434.6 L335.00,432.00 L336.40,434.6 L335.00,437.20 Z" fill="#111"/>
<text x="149.30" y="335.30" font-size="13.7" text-anchor="middle" fill="#1a1a1a" >Distal</text>
<text x="279.00" y="334.80" font-size="13.5" text-anchor="middle" fill="#1a1a1a" >Distal</text>
<text x="110.30" y="428.50" font-size="12.5" text-anchor="middle" fill="#1a1a1a" >Proximal</text>
<text x="320.50" y="427.30" font-size="12.5" text-anchor="middle" fill="#1a1a1a" >Proximal</text>
<text x="213.00" y="569.00" font-size="13.3" text-anchor="middle" fill="#1a1a1a" >Position, <tspan font-style="italic">z</tspan> (nm )</text>
<text x="0.00" y="0.00" font-size="14.6" text-anchor="middle" fill="#1a1a1a" transform="translate(13.6,423.5) rotate(-90)">La<tspan font-size="10" dy="-4.6">3+</tspan><tspan dy="4.6"> ion density (Å</tspan><tspan font-size="10" dy="-4.6">−3</tspan><tspan dy="4.6">)</tspan></text>
</g>
<g id="panelD">
<rect x="439.10" y="312.60" width="301.10" height="224.00" fill="none" stroke="#161616" stroke-width="1.5"/>
<line x1="460.50" y1="536.60" x2="460.50" y2="532.80" stroke="#161616" stroke-width="1.1" />
<line x1="460.50" y1="312.60" x2="460.50" y2="316.40" stroke="#161616" stroke-width="1.1" />
<text x="460.50" y="551.60" font-size="13.3" text-anchor="middle" fill="#1a1a1a" >1</text>
<line x1="503.53" y1="536.60" x2="503.53" y2="534.20" stroke="#161616" stroke-width="1.1" />
<line x1="503.53" y1="312.60" x2="503.53" y2="315.00" stroke="#161616" stroke-width="1.1" />
<line x1="546.57" y1="536.60" x2="546.57" y2="532.80" stroke="#161616" stroke-width="1.1" />
<line x1="546.57" y1="312.60" x2="546.57" y2="316.40" stroke="#161616" stroke-width="1.1" />
<text x="546.57" y="551.60" font-size="13.3" text-anchor="middle" fill="#1a1a1a" >2</text>
<line x1="589.61" y1="536.60" x2="589.61" y2="534.20" stroke="#161616" stroke-width="1.1" />
<line x1="589.61" y1="312.60" x2="589.61" y2="315.00" stroke="#161616" stroke-width="1.1" />
<line x1="632.64" y1="536.60" x2="632.64" y2="532.80" stroke="#161616" stroke-width="1.1" />
<line x1="632.64" y1="312.60" x2="632.64" y2="316.40" stroke="#161616" stroke-width="1.1" />
<text x="632.64" y="551.60" font-size="13.3" text-anchor="middle" fill="#1a1a1a" >3</text>
<line x1="675.67" y1="536.60" x2="675.67" y2="534.20" stroke="#161616" stroke-width="1.1" />
<line x1="675.67" y1="312.60" x2="675.67" y2="315.00" stroke="#161616" stroke-width="1.1" />
<line x1="718.71" y1="536.60" x2="718.71" y2="532.80" stroke="#161616" stroke-width="1.1" />
<line x1="718.71" y1="312.60" x2="718.71" y2="316.40" stroke="#161616" stroke-width="1.1" />
<text x="718.71" y="551.60" font-size="13.3" text-anchor="middle" fill="#1a1a1a" >4</text>
<line x1="761.75" y1="536.60" x2="761.75" y2="534.20" stroke="#161616" stroke-width="1.1" />
<line x1="761.75" y1="312.60" x2="761.75" y2="315.00" stroke="#161616" stroke-width="1.1" />
<line x1="439.10" y1="508.62" x2="441.50" y2="508.62" stroke="#161616" stroke-width="1.1" />
<line x1="740.20" y1="508.62" x2="737.80" y2="508.62" stroke="#161616" stroke-width="1.1" />
<line x1="439.10" y1="480.65" x2="442.90" y2="480.65" stroke="#161616" stroke-width="1.1" />
<line x1="740.20" y1="480.65" x2="736.40" y2="480.65" stroke="#161616" stroke-width="1.1" />
<line x1="439.10" y1="452.68" x2="441.50" y2="452.68" stroke="#161616" stroke-width="1.1" />
<line x1="740.20" y1="452.68" x2="737.80" y2="452.68" stroke="#161616" stroke-width="1.1" />
<line x1="439.10" y1="424.70" x2="442.90" y2="424.70" stroke="#161616" stroke-width="1.1" />
<line x1="740.20" y1="424.70" x2="736.40" y2="424.70" stroke="#161616" stroke-width="1.1" />
<line x1="439.10" y1="396.73" x2="441.50" y2="396.73" stroke="#161616" stroke-width="1.1" />
<line x1="740.20" y1="396.73" x2="737.80" y2="396.73" stroke="#161616" stroke-width="1.1" />
<line x1="439.10" y1="368.75" x2="442.90" y2="368.75" stroke="#161616" stroke-width="1.1" />
<line x1="740.20" y1="368.75" x2="736.40" y2="368.75" stroke="#161616" stroke-width="1.1" />
<line x1="439.10" y1="340.78" x2="441.50" y2="340.78" stroke="#161616" stroke-width="1.1" />
<line x1="740.20" y1="340.78" x2="737.80" y2="340.78" stroke="#161616" stroke-width="1.1" />
<text x="434.40" y="540.30" font-size="13.3" text-anchor="end" fill="#1a1a1a" >5.0</text>
<text x="434.40" y="484.35" font-size="13.3" text-anchor="end" fill="#1a1a1a" >7.5</text>
<text x="434.40" y="428.40" font-size="13.3" text-anchor="end" fill="#1a1a1a" >10.0</text>
<text x="434.40" y="372.45" font-size="13.3" text-anchor="end" fill="#1a1a1a" >12.5</text>
<text x="434.40" y="316.50" font-size="13.3" text-anchor="end" fill="#1a1a1a" >15.0</text>
<polyline points="460.50,341.89 546.57,343.46 718.71,362.48" fill="none" stroke="#3454e6" stroke-width="1.8" stroke-linejoin="round" />
<polyline points="460.50,360.92 546.57,385.54 718.71,448.20" fill="none" stroke="#1ab6f4" stroke-width="1.8" stroke-linejoin="round" />
<polyline points="460.50,456.70 546.57,471.92 718.71,525.19" fill="none" stroke="#1a8c1a" stroke-width="1.8" stroke-linejoin="round" />
<circle cx="460.50" cy="341.89" r="4.5" fill="url(#gDP)"/>
<circle cx="546.57" cy="343.46" r="4.5" fill="url(#gDP)"/>
<circle cx="718.71" cy="362.48" r="4.5" fill="url(#gDP)"/>
<circle cx="460.50" cy="360.92" r="4.5" fill="url(#gDD)"/>
<circle cx="546.57" cy="385.54" r="4.5" fill="url(#gDD)"/>
<circle cx="718.71" cy="448.20" r="4.5" fill="url(#gDD)"/>
<circle cx="460.50" cy="456.70" r="4.5" fill="url(#gDS)"/>
<circle cx="546.57" cy="471.92" r="4.5" fill="url(#gDS)"/>
<circle cx="718.71" cy="525.19" r="4.5" fill="url(#gDS)"/>
<text x="721.60" y="344.00" font-size="13.75" text-anchor="end" fill="#1a1a1a" >Proximal water</text>
<text x="719.20" y="413.60" font-size="13.75" text-anchor="end" fill="#1a1a1a" >Distal water</text>
<text x="721.60" y="493.60" font-size="13.75" text-anchor="end" fill="#1a1a1a" >Surface water</text>
<text x="459.60" y="523.00" font-size="13.4" text-anchor="start" fill="#1a1a1a" ><tspan font-style="italic">D</tspan> = 1.5 nm</text>
<text x="589.40" y="573.60" font-size="14.4" text-anchor="middle" fill="#1a1a1a" >La<tspan font-size="9.6" dy="-6.5" dx="0.8">3+</tspan><tspan dy="6.5" dx="0.6"> ion concentration (M)</tspan></text>
<text x="0.00" y="0.00" font-size="14.4" text-anchor="middle" fill="#1a1a1a" transform="translate(392.6,424.0) rotate(-90)">Number of H<tspan font-size="9.8" dy="2.6">2</tspan><tspan dy="-2.6">O per volume (nm</tspan><tspan font-size="9.8" dy="-6.5">−3</tspan><tspan dy="6.5">)</tspan></text>
</g>
<g id="panelE">
<rect x="61.40" y="591.60" width="300.80" height="224.70" fill="none" stroke="#161616" stroke-width="1.5"/>
<line x1="79.18" y1="816.30" x2="79.18" y2="814.00" stroke="#161616" stroke-width="1.1" />
<line x1="96.86" y1="816.30" x2="96.86" y2="812.50" stroke="#161616" stroke-width="1.1" />
<line x1="114.54" y1="816.30" x2="114.54" y2="814.00" stroke="#161616" stroke-width="1.1" />
<line x1="132.22" y1="816.30" x2="132.22" y2="812.50" stroke="#161616" stroke-width="1.1" />
<line x1="149.90" y1="816.30" x2="149.90" y2="814.00" stroke="#161616" stroke-width="1.1" />
<line x1="167.58" y1="816.30" x2="167.58" y2="812.50" stroke="#161616" stroke-width="1.1" />
<line x1="185.26" y1="816.30" x2="185.26" y2="814.00" stroke="#161616" stroke-width="1.1" />
<line x1="202.94" y1="816.30" x2="202.94" y2="812.50" stroke="#161616" stroke-width="1.1" />
<line x1="220.62" y1="816.30" x2="220.62" y2="814.00" stroke="#161616" stroke-width="1.1" />
<line x1="238.30" y1="816.30" x2="238.30" y2="812.50" stroke="#161616" stroke-width="1.1" />
<line x1="255.98" y1="816.30" x2="255.98" y2="814.00" stroke="#161616" stroke-width="1.1" />
<line x1="273.66" y1="816.30" x2="273.66" y2="812.50" stroke="#161616" stroke-width="1.1" />
<line x1="291.34" y1="816.30" x2="291.34" y2="814.00" stroke="#161616" stroke-width="1.1" />
<line x1="309.02" y1="816.30" x2="309.02" y2="812.50" stroke="#161616" stroke-width="1.1" />
<line x1="326.70" y1="816.30" x2="326.70" y2="814.00" stroke="#161616" stroke-width="1.1" />
<line x1="344.38" y1="816.30" x2="344.38" y2="812.50" stroke="#161616" stroke-width="1.1" />
<text x="61.50" y="831.00" font-size="12.8" text-anchor="middle" fill="#1a1a1a" >0</text>
<text x="96.86" y="831.00" font-size="12.8" text-anchor="middle" fill="#1a1a1a" >2</text>
<text x="132.22" y="831.00" font-size="12.8" text-anchor="middle" fill="#1a1a1a" >4</text>
<text x="167.58" y="831.00" font-size="12.8" text-anchor="middle" fill="#1a1a1a" >6</text>
<text x="202.94" y="831.00" font-size="12.8" text-anchor="middle" fill="#1a1a1a" >8</text>
<text x="238.30" y="831.00" font-size="12.8" text-anchor="middle" fill="#1a1a1a" >10</text>
<text x="273.66" y="831.00" font-size="12.8" text-anchor="middle" fill="#1a1a1a" >12</text>
<text x="309.02" y="831.00" font-size="12.8" text-anchor="middle" fill="#1a1a1a" >14</text>
<text x="344.38" y="831.00" font-size="12.8" text-anchor="middle" fill="#1a1a1a" >16</text>
<line x1="61.40" y1="793.82" x2="63.70" y2="793.82" stroke="#161616" stroke-width="1.1" />
<line x1="61.40" y1="771.35" x2="65.20" y2="771.35" stroke="#161616" stroke-width="1.1" />
<line x1="61.40" y1="748.88" x2="63.70" y2="748.88" stroke="#161616" stroke-width="1.1" />
<line x1="61.40" y1="726.40" x2="65.20" y2="726.40" stroke="#161616" stroke-width="1.1" />
<line x1="61.40" y1="703.92" x2="63.70" y2="703.92" stroke="#161616" stroke-width="1.1" />
<line x1="61.40" y1="681.45" x2="65.20" y2="681.45" stroke="#161616" stroke-width="1.1" />
<line x1="61.40" y1="658.97" x2="63.70" y2="658.97" stroke="#161616" stroke-width="1.1" />
<line x1="61.40" y1="636.50" x2="65.20" y2="636.50" stroke="#161616" stroke-width="1.1" />
<line x1="61.40" y1="614.02" x2="63.70" y2="614.02" stroke="#161616" stroke-width="1.1" />
<text x="56.80" y="819.80" font-size="12.8" text-anchor="end" fill="#1a1a1a" >0</text>
<text x="56.80" y="774.85" font-size="12.8" text-anchor="end" fill="#1a1a1a" >1</text>
<text x="56.80" y="729.90" font-size="12.8" text-anchor="end" fill="#1a1a1a" >2</text>
<text x="56.80" y="684.95" font-size="12.8" text-anchor="end" fill="#1a1a1a" >3</text>
<text x="56.80" y="640.00" font-size="12.8" text-anchor="end" fill="#1a1a1a" >4</text>
<text x="56.80" y="595.05" font-size="12.8" text-anchor="end" fill="#1a1a1a" >5</text>
<line x1="79.18" y1="808.21" x2="326.70" y2="695.38" stroke="#146f8e" stroke-width="1.3"/>
<line x1="72.11" y1="771.80" x2="72.11" y2="796.47" stroke="#2ab4ec" stroke-width="1.5"/>
<line x1="72.11" y1="808.27" x2="72.11" y2="814.05" stroke="#2ab4ec" stroke-width="1.5"/>
<line x1="69.11" y1="771.80" x2="75.11" y2="771.80" stroke="#2ab4ec" stroke-width="1.5"/>
<line x1="69.11" y1="814.05" x2="75.11" y2="814.05" stroke="#2ab4ec" stroke-width="1.5"/>
<line x1="88.02" y1="778.54" x2="88.02" y2="782.08" stroke="#2ab4ec" stroke-width="1.5"/>
<line x1="88.02" y1="793.88" x2="88.02" y2="797.42" stroke="#2ab4ec" stroke-width="1.5"/>
<line x1="85.02" y1="778.54" x2="91.02" y2="778.54" stroke="#2ab4ec" stroke-width="1.5"/>
<line x1="85.02" y1="797.42" x2="91.02" y2="797.42" stroke="#2ab4ec" stroke-width="1.5"/>
<line x1="114.54" y1="741.68" x2="114.54" y2="769.50" stroke="#2ab4ec" stroke-width="1.5"/>
<line x1="114.54" y1="781.30" x2="114.54" y2="808.66" stroke="#2ab4ec" stroke-width="1.5"/>
<line x1="111.54" y1="741.68" x2="117.54" y2="741.68" stroke="#2ab4ec" stroke-width="1.5"/>
<line x1="111.54" y1="808.66" x2="117.54" y2="808.66" stroke="#2ab4ec" stroke-width="1.5"/>
<line x1="167.58" y1="763.71" x2="167.58" y2="777.59" stroke="#2ab4ec" stroke-width="1.5"/>
<line x1="167.58" y1="789.39" x2="167.58" y2="803.71" stroke="#2ab4ec" stroke-width="1.5"/>
<line x1="164.58" y1="763.71" x2="170.58" y2="763.71" stroke="#2ab4ec" stroke-width="1.5"/>
<line x1="164.58" y1="803.71" x2="170.58" y2="803.71" stroke="#2ab4ec" stroke-width="1.5"/>
<line x1="220.62" y1="757.87" x2="220.62" y2="767.25" stroke="#2ab4ec" stroke-width="1.5"/>
<line x1="220.62" y1="779.05" x2="220.62" y2="788.21" stroke="#2ab4ec" stroke-width="1.5"/>
<line x1="217.62" y1="757.87" x2="223.62" y2="757.87" stroke="#2ab4ec" stroke-width="1.5"/>
<line x1="217.62" y1="788.21" x2="223.62" y2="788.21" stroke="#2ab4ec" stroke-width="1.5"/>
<line x1="273.66" y1="682.35" x2="273.66" y2="698.02" stroke="#2ab4ec" stroke-width="1.5"/>
<line x1="273.66" y1="709.82" x2="273.66" y2="725.50" stroke="#2ab4ec" stroke-width="1.5"/>
<line x1="270.66" y1="682.35" x2="276.66" y2="682.35" stroke="#2ab4ec" stroke-width="1.5"/>
<line x1="270.66" y1="725.50" x2="276.66" y2="725.50" stroke="#2ab4ec" stroke-width="1.5"/>
<line x1="326.70" y1="645.04" x2="326.70" y2="659.37" stroke="#2ab4ec" stroke-width="1.5"/>
<line x1="326.70" y1="671.17" x2="326.70" y2="685.94" stroke="#2ab4ec" stroke-width="1.5"/>
<line x1="323.70" y1="645.04" x2="329.70" y2="645.04" stroke="#2ab4ec" stroke-width="1.5"/>
<line x1="323.70" y1="685.94" x2="329.70" y2="685.94" stroke="#2ab4ec" stroke-width="1.5"/>
<line x1="72.11" y1="782.59" x2="72.11" y2="805.01" stroke="#2a8ad2" stroke-width="1.5"/>
<line x1="69.11" y1="782.59" x2="75.11" y2="782.59" stroke="#2a8ad2" stroke-width="1.5"/>
<line x1="88.02" y1="788.43" x2="88.02" y2="789.72" stroke="#2a8ad2" stroke-width="1.5"/>
<line x1="88.02" y1="801.52" x2="88.02" y2="802.37" stroke="#2a8ad2" stroke-width="1.5"/>
<line x1="85.02" y1="788.43" x2="91.02" y2="788.43" stroke="#2a8ad2" stroke-width="1.5"/>
<line x1="85.02" y1="802.37" x2="91.02" y2="802.37" stroke="#2a8ad2" stroke-width="1.5"/>
<line x1="114.54" y1="766.85" x2="114.54" y2="779.83" stroke="#2a8ad2" stroke-width="1.5"/>
<line x1="114.54" y1="791.63" x2="114.54" y2="804.16" stroke="#2a8ad2" stroke-width="1.5"/>
<line x1="111.54" y1="766.85" x2="117.54" y2="766.85" stroke="#2a8ad2" stroke-width="1.5"/>
<line x1="111.54" y1="804.16" x2="117.54" y2="804.16" stroke="#2a8ad2" stroke-width="1.5"/>
<line x1="167.58" y1="759.66" x2="167.58" y2="761.40" stroke="#2a8ad2" stroke-width="1.5"/>
<line x1="167.58" y1="773.20" x2="167.58" y2="775.40" stroke="#2a8ad2" stroke-width="1.5"/>
<line x1="164.58" y1="759.66" x2="170.58" y2="759.66" stroke="#2a8ad2" stroke-width="1.5"/>
<line x1="164.58" y1="775.40" x2="170.58" y2="775.40" stroke="#2a8ad2" stroke-width="1.5"/>
<line x1="220.62" y1="745.28" x2="220.62" y2="755.11" stroke="#2a8ad2" stroke-width="1.5"/>
<line x1="220.62" y1="766.91" x2="220.62" y2="778.09" stroke="#2a8ad2" stroke-width="1.5"/>
<line x1="217.62" y1="745.28" x2="223.62" y2="745.28" stroke="#2a8ad2" stroke-width="1.5"/>
<line x1="217.62" y1="778.09" x2="223.62" y2="778.09" stroke="#2a8ad2" stroke-width="1.5"/>
<line x1="273.66" y1="725.50" x2="273.66" y2="737.13" stroke="#2a8ad2" stroke-width="1.5"/>
<line x1="273.66" y1="748.93" x2="273.66" y2="760.11" stroke="#2a8ad2" stroke-width="1.5"/>
<line x1="270.66" y1="725.50" x2="276.66" y2="725.50" stroke="#2a8ad2" stroke-width="1.5"/>
<line x1="270.66" y1="760.11" x2="276.66" y2="760.11" stroke="#2a8ad2" stroke-width="1.5"/>
<line x1="326.70" y1="714.71" x2="326.70" y2="730.39" stroke="#2a8ad2" stroke-width="1.5"/>
<line x1="326.70" y1="742.19" x2="326.70" y2="757.42" stroke="#2a8ad2" stroke-width="1.5"/>
<line x1="323.70" y1="714.71" x2="329.70" y2="714.71" stroke="#2a8ad2" stroke-width="1.5"/>
<line x1="323.70" y1="757.42" x2="329.70" y2="757.42" stroke="#2a8ad2" stroke-width="1.5"/>
<path d="M72.11,797.17 L77.31,802.37 L72.11,807.57 L66.91,802.37 Z" fill="none" stroke="#22b0ea" stroke-width="1.45"/>
<path d="M88.02,782.78 L93.22,787.98 L88.02,793.18 L82.82,787.98 Z" fill="none" stroke="#22b0ea" stroke-width="1.45"/>
<path d="M114.54,770.20 L119.74,775.40 L114.54,780.60 L109.34,775.40 Z" fill="none" stroke="#22b0ea" stroke-width="1.45"/>
<path d="M167.58,778.29 L172.78,783.49 L167.58,788.69 L162.38,783.49 Z" fill="none" stroke="#22b0ea" stroke-width="1.45"/>
<path d="M220.62,767.95 L225.82,773.15 L220.62,778.35 L215.42,773.15 Z" fill="none" stroke="#22b0ea" stroke-width="1.45"/>
<path d="M273.66,698.72 L278.86,703.92 L273.66,709.12 L268.46,703.92 Z" fill="none" stroke="#22b0ea" stroke-width="1.45"/>
<path d="M326.70,660.07 L331.90,665.27 L326.70,670.47 L321.50,665.27 Z" fill="none" stroke="#22b0ea" stroke-width="1.45"/>
<path d="M72.11,805.71 L77.31,810.91 L72.11,816.11 L66.91,810.91 Z" fill="none" stroke="#2286d0" stroke-width="1.45"/>
<path d="M88.02,790.42 L93.22,795.62 L88.02,800.82 L82.82,795.62 Z" fill="none" stroke="#2286d0" stroke-width="1.45"/>
<path d="M114.54,780.53 L119.74,785.73 L114.54,790.93 L109.34,785.73 Z" fill="none" stroke="#2286d0" stroke-width="1.45"/>
<path d="M167.58,762.10 L172.78,767.30 L167.58,772.50 L162.38,767.30 Z" fill="none" stroke="#2286d0" stroke-width="1.45"/>
<path d="M220.62,755.81 L225.82,761.01 L220.62,766.21 L215.42,761.01 Z" fill="none" stroke="#2286d0" stroke-width="1.45"/>
<path d="M273.66,737.83 L278.86,743.03 L273.66,748.23 L268.46,743.03 Z" fill="none" stroke="#2286d0" stroke-width="1.45"/>
<path d="M326.70,731.09 L331.90,736.29 L326.70,741.49 L321.50,736.29 Z" fill="none" stroke="#2286d0" stroke-width="1.45"/>
<rect x="75.28" y="804.31" width="7.8" height="7.8" fill="#146f8e"/>
<rect x="110.64" y="788.13" width="7.8" height="7.8" fill="#146f8e"/>
<rect x="146.00" y="771.05" width="7.8" height="7.8" fill="#146f8e"/>
<rect x="181.36" y="754.41" width="7.8" height="7.8" fill="#146f8e"/>
<rect x="199.04" y="747.22" width="7.8" height="7.8" fill="#146f8e"/>
<rect x="216.72" y="738.68" width="7.8" height="7.8" fill="#146f8e"/>
<rect x="252.08" y="719.80" width="7.8" height="7.8" fill="#146f8e"/>
<rect x="287.44" y="707.22" width="7.8" height="7.8" fill="#146f8e"/>
<rect x="322.80" y="691.48" width="7.8" height="7.8" fill="#146f8e"/>
<path d="M82.70,602.00 L87.90,607.20 L82.70,612.40 L77.50,607.20 Z" fill="none" stroke="#22b0ea" stroke-width="1.45"/>
<path d="M82.70,617.70 L87.90,622.90 L82.70,628.10 L77.50,622.90 Z" fill="none" stroke="#2286d0" stroke-width="1.45"/>
<rect x="79.0" y="634.9" width="7.8" height="7.8" fill="#146f8e"/>
<text x="94.30" y="611.60" font-size="12.72" text-anchor="start" fill="#1a1a1a" >Experiment, <tspan font-style="italic">C</tspan><tspan font-size="8.5" dy="1.5">s</tspan><tspan dy="-1.5"> = 2 M, <tspan font-style="italic">D</tspan> = 2.07 ± 0.03 nm</tspan></text>
<text x="94.30" y="626.90" font-size="12.72" text-anchor="start" fill="#1a1a1a" >Experiment, <tspan font-style="italic">C</tspan><tspan font-size="8.5" dy="1.5">s</tspan><tspan dy="-1.5"> = 2 M, <tspan font-style="italic">D</tspan> = 2.01 ± 0.03 nm</tspan></text>
<text x="94.30" y="642.00" font-size="12.72" text-anchor="start" fill="#1a1a1a" >Simulation, <tspan font-style="italic">C</tspan><tspan font-size="8.5" dy="1.5">s</tspan><tspan dy="-1.5"> = 2 M</tspan></text>
<text x="349.00" y="803.60" font-size="12.6" text-anchor="end" fill="#1a1a1a" ><tspan font-style="italic">D</tspan> = 2 nm</text>
<text x="211.80" y="850.60" font-size="14.3" text-anchor="middle" fill="#1a1a1a" >Velocity, <tspan font-style="italic">v</tspan><tspan font-size="9.5" dy="1.2">s</tspan><tspan dy="-1.2"> (μm/s)</tspan></text>
<text x="0.00" y="0.00" font-size="13.7" text-anchor="middle" fill="#1a1a1a" transform="translate(30.4,700.0) rotate(-90)">Shear stress, τ (kPa)</text>
</g>
<g id="panelF">
<rect x="438.60" y="591.30" width="303.60" height="225.10" fill="none" stroke="#161616" stroke-width="1.5"/>
<line x1="447.37" y1="816.40" x2="447.37" y2="814.10" stroke="#161616" stroke-width="1.1" />
<line x1="454.68" y1="816.40" x2="454.68" y2="814.10" stroke="#161616" stroke-width="1.1" />
<line x1="461.02" y1="816.40" x2="461.02" y2="814.10" stroke="#161616" stroke-width="1.1" />
<line x1="466.60" y1="816.40" x2="466.60" y2="814.10" stroke="#161616" stroke-width="1.1" />
<line x1="471.60" y1="816.40" x2="471.60" y2="812.60" stroke="#161616" stroke-width="1.1" />
<line x1="504.47" y1="816.40" x2="504.47" y2="814.10" stroke="#161616" stroke-width="1.1" />
<line x1="523.70" y1="816.40" x2="523.70" y2="814.10" stroke="#161616" stroke-width="1.1" />
<line x1="537.34" y1="816.40" x2="537.34" y2="814.10" stroke="#161616" stroke-width="1.1" />
<line x1="547.93" y1="816.40" x2="547.93" y2="814.10" stroke="#161616" stroke-width="1.1" />
<line x1="556.57" y1="816.40" x2="556.57" y2="814.10" stroke="#161616" stroke-width="1.1" />
<line x1="563.88" y1="816.40" x2="563.88" y2="814.10" stroke="#161616" stroke-width="1.1" />
<line x1="570.22" y1="816.40" x2="570.22" y2="814.10" stroke="#161616" stroke-width="1.1" />
<line x1="575.80" y1="816.40" x2="575.80" y2="814.10" stroke="#161616" stroke-width="1.1" />
<line x1="580.80" y1="816.40" x2="580.80" y2="812.60" stroke="#161616" stroke-width="1.1" />
<line x1="613.67" y1="816.40" x2="613.67" y2="814.10" stroke="#161616" stroke-width="1.1" />
<line x1="632.90" y1="816.40" x2="632.90" y2="814.10" stroke="#161616" stroke-width="1.1" />
<line x1="646.54" y1="816.40" x2="646.54" y2="814.10" stroke="#161616" stroke-width="1.1" />
<line x1="657.13" y1="816.40" x2="657.13" y2="814.10" stroke="#161616" stroke-width="1.1" />
<line x1="665.77" y1="816.40" x2="665.77" y2="814.10" stroke="#161616" stroke-width="1.1" />
<line x1="673.08" y1="816.40" x2="673.08" y2="814.10" stroke="#161616" stroke-width="1.1" />
<line x1="679.42" y1="816.40" x2="679.42" y2="814.10" stroke="#161616" stroke-width="1.1" />
<line x1="685.00" y1="816.40" x2="685.00" y2="814.10" stroke="#161616" stroke-width="1.1" />
<line x1="690.00" y1="816.40" x2="690.00" y2="812.60" stroke="#161616" stroke-width="1.1" />
<line x1="722.87" y1="816.40" x2="722.87" y2="814.10" stroke="#161616" stroke-width="1.1" />
<text x="471.60" y="831.00" font-size="12.5" text-anchor="middle" fill="#1a1a1a" >0.1</text>
<text x="580.80" y="831.00" font-size="12.5" text-anchor="middle" fill="#1a1a1a" >1</text>
<text x="690.00" y="831.00" font-size="12.5" text-anchor="middle" fill="#1a1a1a" >10</text>
<line x1="438.60" y1="799.05" x2="440.90" y2="799.05" stroke="#161616" stroke-width="1.1" />
<line x1="438.60" y1="781.70" x2="442.40" y2="781.70" stroke="#161616" stroke-width="1.1" />
<line x1="438.60" y1="764.35" x2="440.90" y2="764.35" stroke="#161616" stroke-width="1.1" />
<line x1="438.60" y1="747.00" x2="442.40" y2="747.00" stroke="#161616" stroke-width="1.1" />
<line x1="438.60" y1="729.65" x2="440.90" y2="729.65" stroke="#161616" stroke-width="1.1" />
<line x1="438.60" y1="712.30" x2="442.40" y2="712.30" stroke="#161616" stroke-width="1.1" />
<line x1="438.60" y1="694.95" x2="440.90" y2="694.95" stroke="#161616" stroke-width="1.1" />
<line x1="438.60" y1="677.60" x2="442.40" y2="677.60" stroke="#161616" stroke-width="1.1" />
<line x1="438.60" y1="660.25" x2="440.90" y2="660.25" stroke="#161616" stroke-width="1.1" />
<line x1="438.60" y1="642.90" x2="442.40" y2="642.90" stroke="#161616" stroke-width="1.1" />
<line x1="438.60" y1="625.55" x2="440.90" y2="625.55" stroke="#161616" stroke-width="1.1" />
<line x1="438.60" y1="608.20" x2="442.40" y2="608.20" stroke="#161616" stroke-width="1.1" />
<text x="434.20" y="819.50" font-size="12.5" text-anchor="end" fill="#1a1a1a" >0</text>
<text x="434.20" y="784.80" font-size="12.5" text-anchor="end" fill="#1a1a1a" >50</text>
<text x="434.20" y="750.10" font-size="12.5" text-anchor="end" fill="#1a1a1a" >100</text>
<text x="434.20" y="715.40" font-size="12.5" text-anchor="end" fill="#1a1a1a" >150</text>
<text x="434.20" y="680.70" font-size="12.5" text-anchor="end" fill="#1a1a1a" >200</text>
<text x="434.20" y="646.00" font-size="12.5" text-anchor="end" fill="#1a1a1a" >250</text>
<text x="434.20" y="611.30" font-size="12.5" text-anchor="end" fill="#1a1a1a" >300</text>
<line x1="472.1" y1="774.8" x2="687.5" y2="612.3" stroke="#146f8e" stroke-width="1.45"/>
<line x1="471.60" y1="774.76" x2="471.60" y2="795.02" stroke="#146f8e" stroke-width="1.5"/>
<line x1="468.40" y1="774.76" x2="474.80" y2="774.76" stroke="#146f8e" stroke-width="1.5"/>
<line x1="468.40" y1="795.02" x2="474.80" y2="795.02" stroke="#146f8e" stroke-width="1.5"/>
<rect x="468.00" y="781.57" width="7.2" height="7.2" fill="#146f8e"/>
<line x1="523.70" y1="720.77" x2="523.70" y2="736.10" stroke="#146f8e" stroke-width="1.5"/>
<line x1="520.50" y1="720.77" x2="526.90" y2="720.77" stroke="#146f8e" stroke-width="1.5"/>
<line x1="520.50" y1="736.10" x2="526.90" y2="736.10" stroke="#146f8e" stroke-width="1.5"/>
<rect x="520.10" y="724.66" width="7.2" height="7.2" fill="#146f8e"/>
<line x1="580.80" y1="662.82" x2="580.80" y2="692.59" stroke="#146f8e" stroke-width="1.5"/>
<line x1="577.60" y1="662.82" x2="584.00" y2="662.82" stroke="#146f8e" stroke-width="1.5"/>
<line x1="577.60" y1="692.59" x2="584.00" y2="692.59" stroke="#146f8e" stroke-width="1.5"/>
<rect x="577.20" y="673.72" width="7.2" height="7.2" fill="#146f8e"/>
<line x1="632.90" y1="643.59" x2="632.90" y2="660.25" stroke="#146f8e" stroke-width="1.5"/>
<line x1="629.70" y1="643.59" x2="636.10" y2="643.59" stroke="#146f8e" stroke-width="1.5"/>
<line x1="629.70" y1="660.25" x2="636.10" y2="660.25" stroke="#146f8e" stroke-width="1.5"/>
<rect x="629.30" y="648.39" width="7.2" height="7.2" fill="#146f8e"/>
<line x1="690.00" y1="608.55" x2="690.00" y2="612.85" stroke="#146f8e" stroke-width="1.5"/>
<line x1="686.80" y1="608.55" x2="693.20" y2="608.55" stroke="#146f8e" stroke-width="1.5"/>
<line x1="686.80" y1="612.85" x2="693.20" y2="612.85" stroke="#146f8e" stroke-width="1.5"/>
<rect x="686.40" y="607.10" width="7.2" height="7.2" fill="#146f8e"/>
<text x="725.40" y="802.60" font-size="12.9" text-anchor="end" fill="#1a1a1a" ><tspan font-style="italic">D</tspan> = 1 nm</text>
<text x="583.20" y="851.80" font-size="14.75" text-anchor="middle" fill="#1a1a1a" >Velocity, <tspan font-style="italic">v</tspan><tspan font-size="10" dy="3">S</tspan><tspan dy="-3"> (m/s)</tspan></text>
<text x="0.00" y="0.00" font-size="13.2" text-anchor="middle" fill="#1a1a1a" transform="translate(397.8,709.0) rotate(-90)">Shear stress, τ (kPa)</text>
</g>
</svg></body></html>
